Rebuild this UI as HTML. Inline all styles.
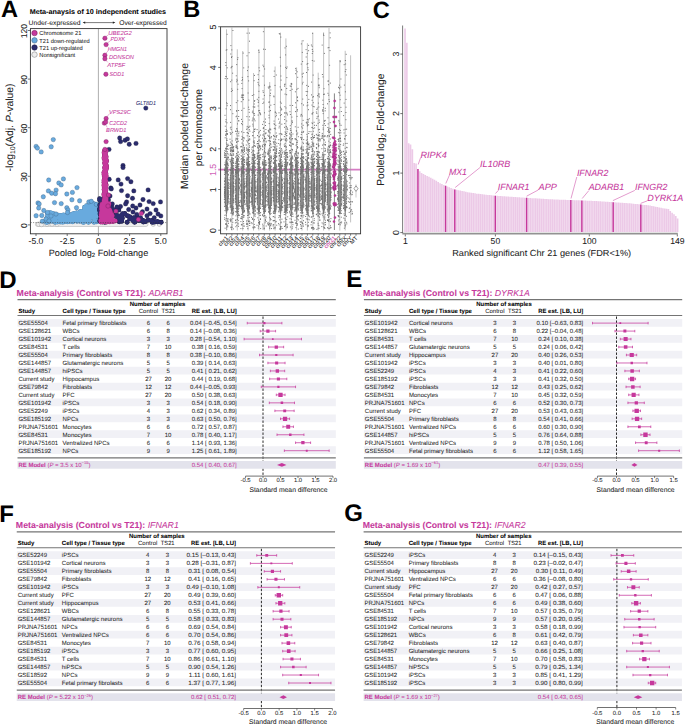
<!DOCTYPE html>
<html><head><meta charset="utf-8"><style>
html,body{margin:0;padding:0;background:#fff;}
svg{display:block;font-family:"Liberation Sans", sans-serif;text-rendering:geometricPrecision;}
</style></head><body>
<svg width="685" height="725" viewBox="0 0 685 725">
<rect width="685" height="725" fill="#fff"/>
<text x="0.9" y="17" font-size="23.6" font-weight="bold" fill="#000">A</text>
<text x="29.7" y="14.2" font-size="7.0" font-weight="bold" textLength="136.3" lengthAdjust="spacingAndGlyphs" stroke="#111" stroke-width="0.05">Meta-anaysis of 10 independent studies</text>
<text x="28.5" y="24.6" font-size="6.7" fill="#222" textLength="52" lengthAdjust="spacingAndGlyphs" stroke="#222" stroke-width="0.05">Under-expressed</text>
<text x="166.7" y="24.6" font-size="6.7" text-anchor="end" fill="#222" textLength="47.5" lengthAdjust="spacingAndGlyphs" stroke="#222" stroke-width="0.05">Over-expressed</text>
<line x1="84.5" y1="22.6" x2="113.5" y2="22.6" stroke="#222" stroke-width="0.6"/>
<path d="M82.6 22.6 L85.2 21.5 L85.2 23.7 Z M115.4 22.6 L112.8 21.5 L112.8 23.7 Z" fill="#222"/>
<rect x="30.4" y="28.6" width="136.6" height="205.2" fill="none" stroke="#333" stroke-width="0.9"/>
<line x1="98.4" y1="29" x2="98.4" y2="233.4" stroke="#777" stroke-width="0.6"/>
<line x1="36" y1="233.8" x2="36" y2="236" stroke="#333" stroke-width="0.7"/>
<text x="36" y="243.8" font-size="8.6" text-anchor="middle" fill="#222" stroke="#222" stroke-width="0.05">-5.0</text>
<line x1="67.2" y1="233.8" x2="67.2" y2="236" stroke="#333" stroke-width="0.7"/>
<text x="67.2" y="243.8" font-size="8.6" text-anchor="middle" fill="#222" stroke="#222" stroke-width="0.05">-2.5</text>
<line x1="98.4" y1="233.8" x2="98.4" y2="236" stroke="#333" stroke-width="0.7"/>
<text x="98.4" y="243.8" font-size="8.6" text-anchor="middle" fill="#222" stroke="#222" stroke-width="0.05">0</text>
<line x1="129.6" y1="233.8" x2="129.6" y2="236" stroke="#333" stroke-width="0.7"/>
<text x="129.6" y="243.8" font-size="8.6" text-anchor="middle" fill="#222" stroke="#222" stroke-width="0.05">2.5</text>
<line x1="160.8" y1="233.8" x2="160.8" y2="236" stroke="#333" stroke-width="0.7"/>
<text x="160.8" y="243.8" font-size="8.6" text-anchor="middle" fill="#222" stroke="#222" stroke-width="0.05">5.0</text>
<line x1="27.8" y1="224.9" x2="30.4" y2="224.9" stroke="#333" stroke-width="0.7"/>
<text x="0" y="0" font-size="8.6" text-anchor="middle" fill="#222" transform="translate(27.3 225.6) rotate(-90)" stroke="#222" stroke-width="0.05">0</text>
<line x1="27.8" y1="176.3" x2="30.4" y2="176.3" stroke="#333" stroke-width="0.7"/>
<text x="0" y="0" font-size="8.6" text-anchor="middle" fill="#222" transform="translate(27.3 177) rotate(-90)" stroke="#222" stroke-width="0.05">30</text>
<line x1="27.8" y1="127.7" x2="30.4" y2="127.7" stroke="#333" stroke-width="0.7"/>
<text x="0" y="0" font-size="8.6" text-anchor="middle" fill="#222" transform="translate(27.3 128.4) rotate(-90)" stroke="#222" stroke-width="0.05">60</text>
<line x1="27.8" y1="79.1" x2="30.4" y2="79.1" stroke="#333" stroke-width="0.7"/>
<text x="0" y="0" font-size="8.6" text-anchor="middle" fill="#222" transform="translate(27.3 79.8) rotate(-90)" stroke="#222" stroke-width="0.05">90</text>
<line x1="27.8" y1="30.5" x2="30.4" y2="30.5" stroke="#333" stroke-width="0.7"/>
<text x="0" y="0" font-size="8.6" text-anchor="middle" fill="#222" transform="translate(27.3 31.2) rotate(-90)" stroke="#222" stroke-width="0.05">120</text>
<path d="M37.5 222.3 H146 A2.1 2.1 0 0 1 146 226.5 H37.5 A2.1 2.1 0 0 1 37.5 222.3Z" fill="#ededed" stroke="#9a9a9a" stroke-width="0.4"/>
<g fill="#ededed" stroke="#8a8a8a" stroke-width="0.35"><circle cx="153.2" cy="224.3" r="2.2"/><circle cx="159.3" cy="224.3" r="2.2"/><circle cx="38.5" cy="224.3" r="2.2"/><circle cx="41.5" cy="224.6" r="2.2"/><circle cx="47" cy="224.4" r="2.2"/><circle cx="52" cy="224.2" r="2.2"/><circle cx="57" cy="224.5" r="2.2"/></g>
<path d="M76.47 218.07h0M50.52 216.71h0M73.52 218.75h0M90.09 213.16h0M66.93 220.66h0M94.34 209h0M94.49 218.75h0M63.44 214.97h0M47.22 222.08h0M65.61 219.21h0M91.39 203.33h0M72.42 214.22h0M89.82 208.16h0M97.1 212.77h0M77.1 220.81h0M72.92 219.25h0M73.95 219.4h0M76.21 215.38h0M46.33 222.36h0M55.26 219.94h0M83.59 211.16h0M84.92 207.9h0M59.4 217.96h0M54.9 217.15h0M48.59 220.87h0M98.19 208.55h0M51.31 216.97h0M47.32 216.84h0M95.28 215.45h0M58.72 217h0M94.65 209.67h0M48.25 220.03h0M93.25 207.5h0M94.02 204.17h0M57.68 216.22h0M70.76 217.71h0M89.8 217.37h0M92.64 215.35h0M93.31 210.96h0M88.72 209.18h0M47.86 220.52h0M84.16 220.67h0M88.82 211.4h0M54.47 219.27h0M94.05 222.19h0M88.7 208.98h0M59.04 217.43h0M84.56 208.21h0M94.52 214.41h0M87.23 215.55h0M80.69 215.61h0M48.53 217.25h0M69.93 221.28h0M90.18 206.36h0M51.41 220.54h0M86.91 208.65h0M60.89 221.96h0M89.51 221.47h0M52.9 218.65h0M78.1 213.01h0M96.75 221.72h0M87.46 217.29h0M86.53 219.45h0M68.75 216.46h0M90.53 217.06h0M95.46 208h0M70.75 221.15h0M67.78 216.35h0M50.91 214.08h0M97.63 209.43h0M76.82 213.04h0M90.5 210.37h0M70.06 215.1h0M81.19 221.01h0M47.31 219.24h0M63.56 219.16h0M92.2 203.45h0M97.58 220.8h0M63.02 222.11h0M97.45 215.92h0M74.89 219.91h0M83.41 222.39h0M95.18 213.86h0M61.03 221.66h0M61.02 220.21h0M57.89 221.77h0M81.72 218.25h0M51.84 221.11h0M78.32 220.17h0M53.95 218.59h0M67.19 217.21h0M69.49 219.11h0M94.96 215.58h0M46.58 221.35h0M61.52 217.87h0M61.14 219.3h0M77.1 220.77h0M94.8 217.65h0M97.11 215.24h0M74.96 215.27h0M63.17 218.53h0M67.76 221.73h0M86.59 205.82h0M84.32 217.53h0M89.22 207.11h0M51.57 218.96h0M77.02 221.31h0M83 217.67h0M89.42 211.85h0M57.18 221.74h0M53.01 216.62h0M69.47 216.66h0M92.4 212.48h0M55.44 221.14h0M62.46 222.02h0M85.54 209.06h0M76.56 215.25h0M88.66 211.82h0M67.15 218.15h0M83.59 220.05h0M47.23 217.38h0M95.2 204.19h0M53.43 213.59h0M62.6 219.16h0M83.91 219.31h0M97.53 207.03h0M76.34 212.86h0M55.86 216.14h0M92.18 203.7h0M66.96 217.75h0M66.92 219.5h0M57.1 222.08h0M63.93 216.09h0M75.26 214.7h0M97.84 213.08h0M62.29 216.27h0M85.76 211.79h0M63.22 218.7h0M67.77 220.35h0M79.56 219.99h0M51.54 213.15h0M50.04 219.38h0M92.69 211.58h0M67.16 221.64h0M80.43 217.13h0M53.06 220.5h0M49.38 216.76h0M65.75 215.77h0M61.86 221.06h0M66.28 220.03h0M88.7 220.59h0M47.31 222.19h0M71.96 220.59h0M83.33 221.1h0M54.39 216.7h0M94.85 211.79h0M71.24 220.42h0M74.61 213.53h0M57.01 215.13h0M57.53 216.13h0M82.58 219.46h0M92.2 205.69h0M73.06 219.97h0M55.28 219.78h0M49.29 217.09h0M49.1 212.95h0M88.3 213.96h0M84.87 218.18h0M66.43 218.39h0M55.07 218.66h0M83.78 213.28h0M54.98 221.55h0M88.94 219.68h0M48 217.81h0M70.02 215.69h0M72.02 218.1h0M68.27 214.23h0M47.95 217.75h0M79.19 220.15h0M70.57 218.09h0M63.57 215.12h0M71.87 217.34h0M48.66 221.63h0M85.92 213.79h0M92.83 211.16h0M56.64 221.61h0M75.19 216.02h0M89.76 215.24h0M50.46 213.11h0M58.68 215.17h0M89.63 207.97h0M63.79 217.08h0M81.54 217.44h0M93.85 217.16h0M93.02 212.66h0M86.86 208.81h0M72.32 217.51h0M80.48 215.21h0M72.37 215.09h0M89.14 215.63h0M66.46 218.45h0M54.64 219.04h0M54.33 215.67h0M60.82 221h0M51.74 215.54h0M83.61 221.27h0M88.46 222.37h0M52.6 214.08h0M87.41 217.67h0M86.41 207.36h0M55.71 217.62h0M58.08 215.93h0M79.08 218.87h0M97.58 208.2h0M64.05 221.7h0M48.01 213.86h0M73.64 220.26h0M73.79 219.61h0M89.88 204.9h0M93.79 203.62h0M71.17 218.25h0M70.25 215.2h0M90.1 207.33h0M55.26 222.32h0M50.37 212.7h0M95.76 221.5h0M75.96 220.13h0M83 214.86h0M73.12 217.39h0M68.5 214.11h0M63.02 221.21h0M90.25 212.03h0M60.9 218h0M89.58 206.84h0M73.27 213.73h0M52.28 220.46h0M62.82 221.34h0M66.95 217.4h0M68.58 218.24h0M47.19 220.62h0M86.47 220.92h0M60.62 220.76h0M56.7 217.71h0M52.09 221.22h0M63.36 220.6h0M59.46 218h0M61.82 215.52h0M82.24 215.19h0M97.85 211.02h0M66.44 219.24h0M87.77 221.43h0M64.94 217.01h0M65.29 218.86h0M72.17 217.11h0M46.21 219.35h0M63.01 220.58h0M47.34 213.37h0M67.72 220.21h0M86.55 212.38h0M96.25 207.68h0M80.49 211.34h0M86.84 220.8h0M71.26 218.19h0M48.08 218.21h0M46.48 219.25h0M56.98 215.21h0M68.69 220.38h0M96.48 221.13h0M91.28 212.19h0M90.84 212.72h0M67.95 214.49h0M49.32 216.33h0M72.51 218.9h0M81.01 213.36h0M65.54 218.76h0M85.2 217.92h0M84.57 207.29h0M87.13 206.03h0M91.44 217.65h0M79.74 221.2h0M60.4 215.37h0M46.84 221.9h0M95.26 220.63h0M77.68 217.03h0M47.73 215.23h0M72.69 221.85h0M61.82 218.47h0M47.41 220.7h0M68.36 214.97h0M67.23 217.83h0" stroke="#4f7fa6" stroke-width="4.9" stroke-linecap="round" fill="none"/>
<path d="M76.47 218.07h0M50.52 216.71h0M73.52 218.75h0M90.09 213.16h0M66.93 220.66h0M94.34 209h0M94.49 218.75h0M63.44 214.97h0M47.22 222.08h0M65.61 219.21h0M91.39 203.33h0M72.42 214.22h0M89.82 208.16h0M97.1 212.77h0M77.1 220.81h0M72.92 219.25h0M73.95 219.4h0M76.21 215.38h0M46.33 222.36h0M55.26 219.94h0M83.59 211.16h0M84.92 207.9h0M59.4 217.96h0M54.9 217.15h0M48.59 220.87h0M98.19 208.55h0M51.31 216.97h0M47.32 216.84h0M95.28 215.45h0M58.72 217h0M94.65 209.67h0M48.25 220.03h0M93.25 207.5h0M94.02 204.17h0M57.68 216.22h0M70.76 217.71h0M89.8 217.37h0M92.64 215.35h0M93.31 210.96h0M88.72 209.18h0M47.86 220.52h0M84.16 220.67h0M88.82 211.4h0M54.47 219.27h0M94.05 222.19h0M88.7 208.98h0M59.04 217.43h0M84.56 208.21h0M94.52 214.41h0M87.23 215.55h0M80.69 215.61h0M48.53 217.25h0M69.93 221.28h0M90.18 206.36h0M51.41 220.54h0M86.91 208.65h0M60.89 221.96h0M89.51 221.47h0M52.9 218.65h0M78.1 213.01h0M96.75 221.72h0M87.46 217.29h0M86.53 219.45h0M68.75 216.46h0M90.53 217.06h0M95.46 208h0M70.75 221.15h0M67.78 216.35h0M50.91 214.08h0M97.63 209.43h0M76.82 213.04h0M90.5 210.37h0M70.06 215.1h0M81.19 221.01h0M47.31 219.24h0M63.56 219.16h0M92.2 203.45h0M97.58 220.8h0M63.02 222.11h0M97.45 215.92h0M74.89 219.91h0M83.41 222.39h0M95.18 213.86h0M61.03 221.66h0M61.02 220.21h0M57.89 221.77h0M81.72 218.25h0M51.84 221.11h0M78.32 220.17h0M53.95 218.59h0M67.19 217.21h0M69.49 219.11h0M94.96 215.58h0M46.58 221.35h0M61.52 217.87h0M61.14 219.3h0M77.1 220.77h0M94.8 217.65h0M97.11 215.24h0M74.96 215.27h0M63.17 218.53h0M67.76 221.73h0M86.59 205.82h0M84.32 217.53h0M89.22 207.11h0M51.57 218.96h0M77.02 221.31h0M83 217.67h0M89.42 211.85h0M57.18 221.74h0M53.01 216.62h0M69.47 216.66h0M92.4 212.48h0M55.44 221.14h0M62.46 222.02h0M85.54 209.06h0M76.56 215.25h0M88.66 211.82h0M67.15 218.15h0M83.59 220.05h0M47.23 217.38h0M95.2 204.19h0M53.43 213.59h0M62.6 219.16h0M83.91 219.31h0M97.53 207.03h0M76.34 212.86h0M55.86 216.14h0M92.18 203.7h0M66.96 217.75h0M66.92 219.5h0M57.1 222.08h0M63.93 216.09h0M75.26 214.7h0M97.84 213.08h0M62.29 216.27h0M85.76 211.79h0M63.22 218.7h0M67.77 220.35h0M79.56 219.99h0M51.54 213.15h0M50.04 219.38h0M92.69 211.58h0M67.16 221.64h0M80.43 217.13h0M53.06 220.5h0M49.38 216.76h0M65.75 215.77h0M61.86 221.06h0M66.28 220.03h0M88.7 220.59h0M47.31 222.19h0M71.96 220.59h0M83.33 221.1h0M54.39 216.7h0M94.85 211.79h0M71.24 220.42h0M74.61 213.53h0M57.01 215.13h0M57.53 216.13h0M82.58 219.46h0M92.2 205.69h0M73.06 219.97h0M55.28 219.78h0M49.29 217.09h0M49.1 212.95h0M88.3 213.96h0M84.87 218.18h0M66.43 218.39h0M55.07 218.66h0M83.78 213.28h0M54.98 221.55h0M88.94 219.68h0M48 217.81h0M70.02 215.69h0M72.02 218.1h0M68.27 214.23h0M47.95 217.75h0M79.19 220.15h0M70.57 218.09h0M63.57 215.12h0M71.87 217.34h0M48.66 221.63h0M85.92 213.79h0M92.83 211.16h0M56.64 221.61h0M75.19 216.02h0M89.76 215.24h0M50.46 213.11h0M58.68 215.17h0M89.63 207.97h0M63.79 217.08h0M81.54 217.44h0M93.85 217.16h0M93.02 212.66h0M86.86 208.81h0M72.32 217.51h0M80.48 215.21h0M72.37 215.09h0M89.14 215.63h0M66.46 218.45h0M54.64 219.04h0M54.33 215.67h0M60.82 221h0M51.74 215.54h0M83.61 221.27h0M88.46 222.37h0M52.6 214.08h0M87.41 217.67h0M86.41 207.36h0M55.71 217.62h0M58.08 215.93h0M79.08 218.87h0M97.58 208.2h0M64.05 221.7h0M48.01 213.86h0M73.64 220.26h0M73.79 219.61h0M89.88 204.9h0M93.79 203.62h0M71.17 218.25h0M70.25 215.2h0M90.1 207.33h0M55.26 222.32h0M50.37 212.7h0M95.76 221.5h0M75.96 220.13h0M83 214.86h0M73.12 217.39h0M68.5 214.11h0M63.02 221.21h0M90.25 212.03h0M60.9 218h0M89.58 206.84h0M73.27 213.73h0M52.28 220.46h0M62.82 221.34h0M66.95 217.4h0M68.58 218.24h0M47.19 220.62h0M86.47 220.92h0M60.62 220.76h0M56.7 217.71h0M52.09 221.22h0M63.36 220.6h0M59.46 218h0M61.82 215.52h0M82.24 215.19h0M97.85 211.02h0M66.44 219.24h0M87.77 221.43h0M64.94 217.01h0M65.29 218.86h0M72.17 217.11h0M46.21 219.35h0M63.01 220.58h0M47.34 213.37h0M67.72 220.21h0M86.55 212.38h0M96.25 207.68h0M80.49 211.34h0M86.84 220.8h0M71.26 218.19h0M48.08 218.21h0M46.48 219.25h0M56.98 215.21h0M68.69 220.38h0M96.48 221.13h0M91.28 212.19h0M90.84 212.72h0M67.95 214.49h0M49.32 216.33h0M72.51 218.9h0M81.01 213.36h0M65.54 218.76h0M85.2 217.92h0M84.57 207.29h0M87.13 206.03h0M91.44 217.65h0M79.74 221.2h0M60.4 215.37h0M46.84 221.9h0M95.26 220.63h0M77.68 217.03h0M47.73 215.23h0M72.69 221.85h0M61.82 218.47h0M47.41 220.7h0M68.36 214.97h0M67.23 217.83h0" stroke="#68aade" stroke-width="4.3" stroke-linecap="round" fill="none"/>
<g fill="#68aade" stroke="#3a5a7a" stroke-width="0.35"><circle cx="53.3" cy="139.6" r="2.2"/><circle cx="36.1" cy="146.4" r="2.2"/><circle cx="37.4" cy="148.1" r="2.2"/><circle cx="41.2" cy="151.9" r="2.2"/><circle cx="51.2" cy="146.8" r="2.2"/><circle cx="48.7" cy="180" r="2.2"/><circle cx="63.4" cy="178.9" r="2.2"/><circle cx="58.8" cy="183" r="2.2"/><circle cx="61.2" cy="184.9" r="2.2"/><circle cx="77" cy="187.6" r="2.2"/><circle cx="48.4" cy="190.9" r="2.2"/><circle cx="51.7" cy="193.2" r="2.2"/><circle cx="56.1" cy="190.1" r="2.2"/><circle cx="55.5" cy="193.7" r="2.2"/><circle cx="66.8" cy="194" r="2.2"/><circle cx="72.4" cy="192.4" r="2.2"/><circle cx="43.3" cy="196.8" r="2.2"/><circle cx="71.9" cy="199.8" r="2.2"/><circle cx="79.6" cy="200.8" r="2.2"/><circle cx="38" cy="202.9" r="2.2"/><circle cx="54.5" cy="202.6" r="2.2"/><circle cx="61.2" cy="203.6" r="2.2"/><circle cx="39.2" cy="203.9" r="2.2"/><circle cx="38.7" cy="208" r="2.2"/><circle cx="43.8" cy="210.5" r="2.2"/><circle cx="66.8" cy="207.7" r="2.2"/><circle cx="76.5" cy="207.7" r="2.2"/><circle cx="36.1" cy="215.7" r="2.2"/><circle cx="41.8" cy="215.5" r="2.2"/><circle cx="42.3" cy="221.3" r="2.2"/><circle cx="88.8" cy="201.9" r="2.2"/><circle cx="91.3" cy="201.3" r="2.2"/><circle cx="96.4" cy="204.4" r="2.2"/><circle cx="68" cy="210" r="2.2"/><circle cx="67.5" cy="212.5" r="2.2"/><circle cx="56" cy="214" r="2.2"/><circle cx="47.5" cy="212.5" r="2.2"/><circle cx="51" cy="216" r="2.2"/><circle cx="46" cy="219" r="2.2"/><circle cx="49" cy="221" r="2.2"/></g>
<path d="M102.52 199.66h0M117.93 210.19h0M112.69 216.57h0M113.42 209.82h0M121.69 215.55h0M137.98 219.91h0M161.22 222.32h0M133.98 217.6h0M100.5 219.74h0M138.58 220.46h0M108.36 207.47h0M129.72 218.91h0M122.37 218.22h0M135.7 217.73h0M103.92 221.92h0M151.95 222.05h0M99.63 198.78h0M104.69 209.21h0M124.76 213.39h0M118.84 209.95h0M100.09 214.32h0M119.45 217.58h0M109.03 211.95h0M102.71 206.71h0M134.92 221.44h0M99.94 200.38h0M140.96 220.63h0M137.12 218.09h0M111.66 208.86h0M141.03 219.44h0M127.14 222.3h0M106.84 212.69h0M135.04 221.93h0M111.84 210.96h0M100.24 219.29h0M99.99 199.47h0M120.4 215.95h0M129.74 216.79h0M137.75 217.46h0M102.79 214.33h0M100.03 205h0M133.15 220.37h0M105.13 202.99h0M108.3 216.77h0M108.7 204.51h0M131.78 219.3h0M152.26 222.23h0M151.69 220.77h0M140.37 219.04h0M106.51 209.36h0M154.03 222.13h0M103.89 207.44h0M108.66 209.48h0M110.15 210.58h0M102.28 211.89h0M139.79 220.13h0M143.65 220.58h0M101.8 216.55h0M148.22 219.95h0M99.54 210.2h0M119.01 216.64h0M157.6 221.68h0M140.49 217.91h0M119.19 219.6h0M100.06 199.46h0M134.23 221.77h0M100.07 213.26h0M101.06 216.15h0M126.77 215.46h0M103 216.82h0M117.5 219.05h0M110.08 209.59h0M157.82 221.73h0M115.71 215.24h0M132.8 220.42h0M151.87 220.71h0M142.64 220.94h0M145.39 221.65h0M143.4 221.93h0M156.62 221.61h0M117.65 218.3h0M140.29 219.6h0M111.45 206.69h0M134.6 222.35h0M109.14 205.78h0M102.54 208.61h0M105.48 221.72h0M99.79 205.05h0M100.51 213.67h0M137.79 218.02h0M99.82 208.83h0M121.82 221.34h0M99.61 199.98h0M102 203.46h0M103.47 215.72h0M122.6 213.65h0M102.01 205.01h0M101.7 216.5h0M106.27 212.51h0M141.74 220.03h0M104.31 219.79h0M151.79 220.5h0M119.23 221.83h0M115.03 209.98h0M99.71 221.08h0M140.21 219.41h0M117.9 215.64h0M104.82 222.18h0M127.46 215.6h0M99.51 209.11h0" stroke="#1a1a40" stroke-width="4.9" stroke-linecap="round" fill="none"/>
<path d="M102.52 199.66h0M117.93 210.19h0M112.69 216.57h0M113.42 209.82h0M121.69 215.55h0M137.98 219.91h0M161.22 222.32h0M133.98 217.6h0M100.5 219.74h0M138.58 220.46h0M108.36 207.47h0M129.72 218.91h0M122.37 218.22h0M135.7 217.73h0M103.92 221.92h0M151.95 222.05h0M99.63 198.78h0M104.69 209.21h0M124.76 213.39h0M118.84 209.95h0M100.09 214.32h0M119.45 217.58h0M109.03 211.95h0M102.71 206.71h0M134.92 221.44h0M99.94 200.38h0M140.96 220.63h0M137.12 218.09h0M111.66 208.86h0M141.03 219.44h0M127.14 222.3h0M106.84 212.69h0M135.04 221.93h0M111.84 210.96h0M100.24 219.29h0M99.99 199.47h0M120.4 215.95h0M129.74 216.79h0M137.75 217.46h0M102.79 214.33h0M100.03 205h0M133.15 220.37h0M105.13 202.99h0M108.3 216.77h0M108.7 204.51h0M131.78 219.3h0M152.26 222.23h0M151.69 220.77h0M140.37 219.04h0M106.51 209.36h0M154.03 222.13h0M103.89 207.44h0M108.66 209.48h0M110.15 210.58h0M102.28 211.89h0M139.79 220.13h0M143.65 220.58h0M101.8 216.55h0M148.22 219.95h0M99.54 210.2h0M119.01 216.64h0M157.6 221.68h0M140.49 217.91h0M119.19 219.6h0M100.06 199.46h0M134.23 221.77h0M100.07 213.26h0M101.06 216.15h0M126.77 215.46h0M103 216.82h0M117.5 219.05h0M110.08 209.59h0M157.82 221.73h0M115.71 215.24h0M132.8 220.42h0M151.87 220.71h0M142.64 220.94h0M145.39 221.65h0M143.4 221.93h0M156.62 221.61h0M117.65 218.3h0M140.29 219.6h0M111.45 206.69h0M134.6 222.35h0M109.14 205.78h0M102.54 208.61h0M105.48 221.72h0M99.79 205.05h0M100.51 213.67h0M137.79 218.02h0M99.82 208.83h0M121.82 221.34h0M99.61 199.98h0M102 203.46h0M103.47 215.72h0M122.6 213.65h0M102.01 205.01h0M101.7 216.5h0M106.27 212.51h0M141.74 220.03h0M104.31 219.79h0M151.79 220.5h0M119.23 221.83h0M115.03 209.98h0M99.71 221.08h0M140.21 219.41h0M117.9 215.64h0M104.82 222.18h0M127.46 215.6h0M99.51 209.11h0" stroke="#2b2c6e" stroke-width="4.3" stroke-linecap="round" fill="none"/>
<g fill="#2b2c6e" stroke="#1a1a40" stroke-width="0.35"><circle cx="145.8" cy="108.1" r="2.2"/><circle cx="119.7" cy="138" r="2.2"/><circle cx="120.6" cy="141.6" r="2.2"/><circle cx="125.1" cy="140.2" r="2.2"/><circle cx="127.4" cy="138.9" r="2.2"/><circle cx="129.2" cy="144.3" r="2.2"/><circle cx="136" cy="143.4" r="2.2"/><circle cx="109" cy="149.4" r="2.2"/><circle cx="123" cy="165.5" r="2.2"/><circle cx="123" cy="167.5" r="2.2"/><circle cx="109.2" cy="179.3" r="2.2"/><circle cx="118.2" cy="179.9" r="2.2"/><circle cx="127.6" cy="178.6" r="2.2"/><circle cx="130.9" cy="181.7" r="2.2"/><circle cx="121" cy="184.1" r="2.2"/><circle cx="110.8" cy="188" r="2.2"/><circle cx="111.3" cy="188.9" r="2.2"/><circle cx="121.5" cy="190.6" r="2.2"/><circle cx="133.8" cy="190.9" r="2.2"/><circle cx="148.1" cy="189.9" r="2.2"/><circle cx="127.6" cy="195.7" r="2.2"/><circle cx="132.5" cy="198.3" r="2.2"/><circle cx="143" cy="199.5" r="2.2"/><circle cx="149.1" cy="201.6" r="2.2"/><circle cx="153.2" cy="203.6" r="2.2"/><circle cx="160.5" cy="201.9" r="2.2"/><circle cx="126.6" cy="201.9" r="2.2"/><circle cx="125.6" cy="203.9" r="2.2"/><circle cx="132.7" cy="206" r="2.2"/><circle cx="120.5" cy="206.5" r="2.2"/><circle cx="116.9" cy="207" r="2.2"/><circle cx="112.3" cy="203.9" r="2.2"/><circle cx="147" cy="209" r="2.2"/><circle cx="128.7" cy="209.5" r="2.2"/><circle cx="142.5" cy="211.8" r="2.2"/><circle cx="136.8" cy="214.4" r="2.2"/><circle cx="150.1" cy="213.6" r="2.2"/><circle cx="160.8" cy="215.9" r="2.2"/><circle cx="154.2" cy="217.7" r="2.2"/><circle cx="147" cy="215.7" r="2.2"/><circle cx="108.5" cy="200" r="2.2"/><circle cx="110" cy="196" r="2.2"/><circle cx="140" cy="205" r="2.2"/><circle cx="136" cy="208" r="2.2"/><circle cx="156" cy="210" r="2.2"/><circle cx="158" cy="214" r="2.2"/><circle cx="133" cy="212" r="2.2"/></g>
<path d="M105.71 170.44h0M105.25 189.23h0M104.18 158.65h0M105.02 167.7h0M105.04 197.81h0M106.18 185.03h0M105.68 164.66h0M105.65 158.29h0M105.77 150.08h0M105.77 196.54h0M104.45 154.53h0M104.03 189.41h0M104.92 176.41h0M105.21 202.55h0M104.53 197.15h0M104.8 193.41h0M104.02 200.42h0M104.3 195.45h0M105.06 179.89h0M105.8 158.67h0M105.15 167.13h0M104.53 154.18h0M105.52 175.7h0M106.05 169.78h0M104.75 155.82h0M106.12 175.4h0M105.37 195.64h0M104.71 150.68h0M104.37 189.05h0M104.9 181.03h0M106.18 150.58h0M104.3 193.97h0M104.5 183.88h0M105.1 170.68h0M105.21 166.4h0M105.4 171.57h0M104.88 164.1h0M104.59 190.23h0M105.15 201.98h0M104.6 189.81h0M104.02 195.48h0M104.03 157.75h0M105.5 187.27h0M104.77 159.89h0M105.22 196.03h0M104.34 154.96h0M104.1 158.64h0M103.97 172.38h0M104.82 200.63h0M105.35 178.14h0M105.77 192.18h0M104.6 171.23h0M103.84 172.67h0M105.48 172.04h0M105.7 204.01h0M105.26 186.31h0M104.59 151.02h0M105.96 168.82h0M104.71 155.85h0M105.69 178.01h0M105.27 195.39h0M105.64 158.71h0M105.12 199.66h0M105.6 169.39h0M105.51 157.8h0M105.04 204.27h0M105.81 189.35h0M106.67 160.85h0M104.27 184.49h0M104.39 154.58h0M105.47 181.71h0M106.63 168.11h0M105.51 169.87h0M106.14 156.82h0M105.97 157.46h0M105.15 179.89h0M104.43 180.82h0M106.18 200.01h0M105.24 194.96h0M105.78 156.75h0M106.55 165.87h0M105.78 163.25h0M104.25 195.69h0M103.98 180.13h0M104.23 151.76h0M106.05 204.29h0M104.54 186.21h0M105.57 186.92h0M105.22 170.99h0M103.84 194.21h0M105.52 160.97h0M104.73 157.86h0M104.22 181.32h0M104.43 178.59h0M104.6 181.24h0M103.89 185.29h0M104.15 186.9h0M105.24 202.76h0M104.79 175.85h0M105.45 184.31h0M105.6 191.69h0M106.19 176.72h0M105.85 196.1h0M104.84 172.5h0M105.97 181.13h0M105.06 178.93h0M105.97 173.77h0M104.53 167.64h0M105.96 189.91h0M105.23 190.26h0M104.53 191.35h0M103.97 182.64h0M104.87 156.84h0M104.75 177.64h0M105.47 152.86h0M104.37 178.94h0M105.35 166.85h0M104.56 162.97h0M106.12 200.12h0M105.88 186.61h0M105.73 173.18h0M106.19 162.2h0M105.97 181.17h0M105.7 155.42h0M105.09 156.81h0M103.8 202.3h0M105.12 163.42h0M104.55 167.86h0M105.76 199.23h0M104.66 171.85h0M103.91 182.2h0M105.96 151.71h0M105.6 166.93h0M106.15 201.37h0M104.3 176h0M106.61 166.24h0M104.27 199.32h0M104.65 196.09h0M104.21 175.99h0M106.19 198.38h0M105.92 161.11h0M106.51 160.53h0M104.05 152.75h0M104.55 189.92h0M105.89 199.52h0M104.12 189.22h0M106.05 188.28h0M103.99 174.48h0M105.14 162.28h0M104.27 189.08h0M103.22 206.48h0M110.32 215.76h0M107.39 210.15h0M109.01 219.98h0M103.79 207.4h0M110.39 220.79h0M106.76 208.32h0M108.87 204.73h0M106.33 211.45h0M101.37 213.19h0M104.03 214.51h0M107.99 207.82h0M103.64 204.67h0M103.79 217.51h0M105.98 208.36h0M108.34 206.58h0M100.83 221.96h0M108.66 211.86h0M109.97 210.39h0M102.84 212.6h0M107.96 213.68h0M107.3 209.9h0M107.48 218.03h0M109.88 212.71h0M107.11 216.14h0M103 221.27h0M102.73 217.97h0M103.48 214.68h0M108.78 211.46h0M111.22 218.1h0M105.34 207.53h0M106.03 207.25h0M101.31 212.58h0M108.96 214.46h0M110.57 213.99h0M102.58 206.46h0M105.22 203.34h0M105.46 211.35h0M108.03 208.05h0M108.3 204.39h0M106.87 213.92h0M103.73 218.2h0M103.74 205.81h0M103.86 203.81h0M106.9 214.93h0M106.27 208.08h0M107.65 204.7h0M103.36 206.29h0M106.61 206.07h0M111.49 218.95h0M104.58 204.17h0M103.21 210h0M100.97 221.63h0M108.91 212.4h0M102.57 221.93h0M108.57 211.74h0M103.3 203.75h0M102.47 220.09h0M103.99 210.54h0M101.84 211.15h0M108.97 203.66h0M110.29 217.65h0M103.41 207.41h0M103.5 213.6h0M110.51 211.86h0M104.33 209.99h0M109.85 221.84h0M104.52 203.76h0M101.39 215.48h0M107.55 209.59h0M108.91 219.6h0M107.16 220.02h0M109.2 210.54h0M108.55 210.32h0M104.15 207.14h0M105.64 206.53h0M102.96 206.15h0M105.1 207.12h0M105.2 208.92h0M106.59 222.07h0M103.36 219.56h0M101.85 210.35h0M105.17 216.27h0M101.46 208.27h0M103.43 206.5h0M109.97 210.54h0M104.03 216.73h0M102.63 209.93h0M105.8 220.98h0M110.16 217.7h0M100.68 220.42h0M104.68 209.18h0M108.12 204.6h0M108.15 209.24h0M101.49 212.97h0M103.42 210.56h0M102.63 203.78h0M101.13 214.43h0M105.01 209h0M102.34 213.44h0M103.91 216.57h0M109.16 216.93h0M102.96 205.83h0M107.4 208.38h0M104.86 210.78h0M103.67 219.63h0M104.27 208.61h0M101.7 207.14h0M106.23 203.47h0M109.82 213.87h0M104.95 221.73h0M111.94 215.87h0M106.88 207.15h0M112.35 215.8h0M103.8 219.67h0M101.78 215.14h0M104.95 211.21h0M104.38 204.15h0M105.71 209.3h0M102.65 208.37h0M105.71 210.73h0M106.45 206.2h0M102.11 207.6h0M105.07 209.56h0M105.76 205.9h0M107.6 216.47h0M100.91 216.44h0M104.63 210.51h0M104.53 204.21h0M105.22 204.05h0M106.1 214.25h0M103.51 209.25h0M104.1 203.45h0M108.69 220.12h0M106.93 208.03h0M105.03 206.57h0M111.88 214.81h0M106.55 209.96h0M112.07 221.09h0M108.05 215.04h0M105.15 210.89h0M108.37 208.3h0M105.96 219.89h0M100.94 220.46h0M105.15 205.61h0M104.44 208.93h0M102.64 221.76h0M103.18 206.7h0M103.55 216.06h0M105.58 203.02h0M103.43 210.56h0M107.76 212.48h0M107.7 213.52h0M110.04 213.77h0M105.48 221.6h0M109.32 209.66h0M107.59 209.02h0M109.24 216.35h0M113.04 221.51h0M106.09 206.06h0M106.85 212.42h0M103.86 210.09h0M107.56 217.38h0M103.38 207.55h0M102.84 209.24h0M102.26 212.86h0M102.02 204.21h0M106.79 204.96h0M104.69 205.17h0M106.95 217.82h0M107.94 206.12h0M101.19 219.7h0M105.55 207.87h0M105.84 218.29h0M103.81 216.75h0M104.77 216.74h0M108.09 209.41h0M112.16 219.18h0M105.5 213.9h0M108.51 216.57h0M111.69 218.96h0M104.18 205.4h0M103.49 215.85h0M101.51 206.55h0M111.45 214.24h0M102.39 221.63h0M105.86 216.2h0M105.42 215.12h0M115.29 220.92h0M106.85 203.94h0M101.79 205.27h0M107.58 208.49h0M102.4 222.08h0M101.48 209.34h0M106.13 213.42h0M104.08 210.17h0M111.97 218.37h0M104.66 208.45h0M109.69 214.86h0M106.39 221.83h0" stroke="#7a2060" stroke-width="4.9" stroke-linecap="round" fill="none"/>
<path d="M105.71 170.44h0M105.25 189.23h0M104.18 158.65h0M105.02 167.7h0M105.04 197.81h0M106.18 185.03h0M105.68 164.66h0M105.65 158.29h0M105.77 150.08h0M105.77 196.54h0M104.45 154.53h0M104.03 189.41h0M104.92 176.41h0M105.21 202.55h0M104.53 197.15h0M104.8 193.41h0M104.02 200.42h0M104.3 195.45h0M105.06 179.89h0M105.8 158.67h0M105.15 167.13h0M104.53 154.18h0M105.52 175.7h0M106.05 169.78h0M104.75 155.82h0M106.12 175.4h0M105.37 195.64h0M104.71 150.68h0M104.37 189.05h0M104.9 181.03h0M106.18 150.58h0M104.3 193.97h0M104.5 183.88h0M105.1 170.68h0M105.21 166.4h0M105.4 171.57h0M104.88 164.1h0M104.59 190.23h0M105.15 201.98h0M104.6 189.81h0M104.02 195.48h0M104.03 157.75h0M105.5 187.27h0M104.77 159.89h0M105.22 196.03h0M104.34 154.96h0M104.1 158.64h0M103.97 172.38h0M104.82 200.63h0M105.35 178.14h0M105.77 192.18h0M104.6 171.23h0M103.84 172.67h0M105.48 172.04h0M105.7 204.01h0M105.26 186.31h0M104.59 151.02h0M105.96 168.82h0M104.71 155.85h0M105.69 178.01h0M105.27 195.39h0M105.64 158.71h0M105.12 199.66h0M105.6 169.39h0M105.51 157.8h0M105.04 204.27h0M105.81 189.35h0M106.67 160.85h0M104.27 184.49h0M104.39 154.58h0M105.47 181.71h0M106.63 168.11h0M105.51 169.87h0M106.14 156.82h0M105.97 157.46h0M105.15 179.89h0M104.43 180.82h0M106.18 200.01h0M105.24 194.96h0M105.78 156.75h0M106.55 165.87h0M105.78 163.25h0M104.25 195.69h0M103.98 180.13h0M104.23 151.76h0M106.05 204.29h0M104.54 186.21h0M105.57 186.92h0M105.22 170.99h0M103.84 194.21h0M105.52 160.97h0M104.73 157.86h0M104.22 181.32h0M104.43 178.59h0M104.6 181.24h0M103.89 185.29h0M104.15 186.9h0M105.24 202.76h0M104.79 175.85h0M105.45 184.31h0M105.6 191.69h0M106.19 176.72h0M105.85 196.1h0M104.84 172.5h0M105.97 181.13h0M105.06 178.93h0M105.97 173.77h0M104.53 167.64h0M105.96 189.91h0M105.23 190.26h0M104.53 191.35h0M103.97 182.64h0M104.87 156.84h0M104.75 177.64h0M105.47 152.86h0M104.37 178.94h0M105.35 166.85h0M104.56 162.97h0M106.12 200.12h0M105.88 186.61h0M105.73 173.18h0M106.19 162.2h0M105.97 181.17h0M105.7 155.42h0M105.09 156.81h0M103.8 202.3h0M105.12 163.42h0M104.55 167.86h0M105.76 199.23h0M104.66 171.85h0M103.91 182.2h0M105.96 151.71h0M105.6 166.93h0M106.15 201.37h0M104.3 176h0M106.61 166.24h0M104.27 199.32h0M104.65 196.09h0M104.21 175.99h0M106.19 198.38h0M105.92 161.11h0M106.51 160.53h0M104.05 152.75h0M104.55 189.92h0M105.89 199.52h0M104.12 189.22h0M106.05 188.28h0M103.99 174.48h0M105.14 162.28h0M104.27 189.08h0M103.22 206.48h0M110.32 215.76h0M107.39 210.15h0M109.01 219.98h0M103.79 207.4h0M110.39 220.79h0M106.76 208.32h0M108.87 204.73h0M106.33 211.45h0M101.37 213.19h0M104.03 214.51h0M107.99 207.82h0M103.64 204.67h0M103.79 217.51h0M105.98 208.36h0M108.34 206.58h0M100.83 221.96h0M108.66 211.86h0M109.97 210.39h0M102.84 212.6h0M107.96 213.68h0M107.3 209.9h0M107.48 218.03h0M109.88 212.71h0M107.11 216.14h0M103 221.27h0M102.73 217.97h0M103.48 214.68h0M108.78 211.46h0M111.22 218.1h0M105.34 207.53h0M106.03 207.25h0M101.31 212.58h0M108.96 214.46h0M110.57 213.99h0M102.58 206.46h0M105.22 203.34h0M105.46 211.35h0M108.03 208.05h0M108.3 204.39h0M106.87 213.92h0M103.73 218.2h0M103.74 205.81h0M103.86 203.81h0M106.9 214.93h0M106.27 208.08h0M107.65 204.7h0M103.36 206.29h0M106.61 206.07h0M111.49 218.95h0M104.58 204.17h0M103.21 210h0M100.97 221.63h0M108.91 212.4h0M102.57 221.93h0M108.57 211.74h0M103.3 203.75h0M102.47 220.09h0M103.99 210.54h0M101.84 211.15h0M108.97 203.66h0M110.29 217.65h0M103.41 207.41h0M103.5 213.6h0M110.51 211.86h0M104.33 209.99h0M109.85 221.84h0M104.52 203.76h0M101.39 215.48h0M107.55 209.59h0M108.91 219.6h0M107.16 220.02h0M109.2 210.54h0M108.55 210.32h0M104.15 207.14h0M105.64 206.53h0M102.96 206.15h0M105.1 207.12h0M105.2 208.92h0M106.59 222.07h0M103.36 219.56h0M101.85 210.35h0M105.17 216.27h0M101.46 208.27h0M103.43 206.5h0M109.97 210.54h0M104.03 216.73h0M102.63 209.93h0M105.8 220.98h0M110.16 217.7h0M100.68 220.42h0M104.68 209.18h0M108.12 204.6h0M108.15 209.24h0M101.49 212.97h0M103.42 210.56h0M102.63 203.78h0M101.13 214.43h0M105.01 209h0M102.34 213.44h0M103.91 216.57h0M109.16 216.93h0M102.96 205.83h0M107.4 208.38h0M104.86 210.78h0M103.67 219.63h0M104.27 208.61h0M101.7 207.14h0M106.23 203.47h0M109.82 213.87h0M104.95 221.73h0M111.94 215.87h0M106.88 207.15h0M112.35 215.8h0M103.8 219.67h0M101.78 215.14h0M104.95 211.21h0M104.38 204.15h0M105.71 209.3h0M102.65 208.37h0M105.71 210.73h0M106.45 206.2h0M102.11 207.6h0M105.07 209.56h0M105.76 205.9h0M107.6 216.47h0M100.91 216.44h0M104.63 210.51h0M104.53 204.21h0M105.22 204.05h0M106.1 214.25h0M103.51 209.25h0M104.1 203.45h0M108.69 220.12h0M106.93 208.03h0M105.03 206.57h0M111.88 214.81h0M106.55 209.96h0M112.07 221.09h0M108.05 215.04h0M105.15 210.89h0M108.37 208.3h0M105.96 219.89h0M100.94 220.46h0M105.15 205.61h0M104.44 208.93h0M102.64 221.76h0M103.18 206.7h0M103.55 216.06h0M105.58 203.02h0M103.43 210.56h0M107.76 212.48h0M107.7 213.52h0M110.04 213.77h0M105.48 221.6h0M109.32 209.66h0M107.59 209.02h0M109.24 216.35h0M113.04 221.51h0M106.09 206.06h0M106.85 212.42h0M103.86 210.09h0M107.56 217.38h0M103.38 207.55h0M102.84 209.24h0M102.26 212.86h0M102.02 204.21h0M106.79 204.96h0M104.69 205.17h0M106.95 217.82h0M107.94 206.12h0M101.19 219.7h0M105.55 207.87h0M105.84 218.29h0M103.81 216.75h0M104.77 216.74h0M108.09 209.41h0M112.16 219.18h0M105.5 213.9h0M108.51 216.57h0M111.69 218.96h0M104.18 205.4h0M103.49 215.85h0M101.51 206.55h0M111.45 214.24h0M102.39 221.63h0M105.86 216.2h0M105.42 215.12h0M115.29 220.92h0M106.85 203.94h0M101.79 205.27h0M107.58 208.49h0M102.4 222.08h0M101.48 209.34h0M106.13 213.42h0M104.08 210.17h0M111.97 218.37h0M104.66 208.45h0M109.69 214.86h0M106.39 221.83h0" stroke="#c6389c" stroke-width="4.3" stroke-linecap="round" fill="none"/>
<g fill="#c6389c" stroke="#6a1a50" stroke-width="0.35"><circle cx="104.9" cy="38.2" r="2.2"/><circle cx="106.1" cy="44.6" r="2.2"/><circle cx="104.9" cy="55.2" r="2.2"/><circle cx="104.9" cy="58.7" r="2.2"/><circle cx="105.9" cy="74.2" r="2.2"/><circle cx="106.1" cy="118.5" r="2.2"/><circle cx="104.3" cy="123.1" r="2.2"/><circle cx="105.7" cy="122.1" r="2.2"/><circle cx="106.1" cy="141.6" r="2.2"/><circle cx="115.9" cy="211.1" r="2.2"/><circle cx="141.4" cy="213.4" r="2.2"/><circle cx="138.4" cy="219.5" r="2.2"/><circle cx="104.9" cy="149.4" r="2.2"/><circle cx="108.5" cy="195" r="2.2"/><circle cx="108" cy="206" r="2.2"/></g>
<line x1="30.6" y1="222.6" x2="166.8" y2="222.6" stroke="#333" stroke-width="0.5" stroke-dasharray="1.2 1.2"/>
<text x="108.3" y="34.9" font-size="5.8" font-style="italic" fill="#c6389c" textLength="23.5" lengthAdjust="spacingAndGlyphs" stroke="#c6389c" stroke-width="0.05">UBE2G2</text>
<text x="110.4" y="41.4" font-size="5.8" font-style="italic" fill="#c6389c" textLength="14.8" lengthAdjust="spacingAndGlyphs" stroke="#c6389c" stroke-width="0.05">PDXK</text>
<text x="107.7" y="51.4" font-size="5.8" font-style="italic" fill="#c6389c" textLength="19.3" lengthAdjust="spacingAndGlyphs" stroke="#c6389c" stroke-width="0.05">HMGN1</text>
<text x="109" y="58.7" font-size="5.8" font-style="italic" fill="#c6389c" textLength="24.9" lengthAdjust="spacingAndGlyphs" stroke="#c6389c" stroke-width="0.05">DONSON</text>
<text x="107.3" y="66.6" font-size="5.8" font-style="italic" fill="#c6389c" textLength="17.9" lengthAdjust="spacingAndGlyphs" stroke="#c6389c" stroke-width="0.05">ATP5F</text>
<text x="109.4" y="76.3" font-size="5.8" font-style="italic" fill="#c6389c" textLength="14.8" lengthAdjust="spacingAndGlyphs" stroke="#c6389c" stroke-width="0.05">SOD1</text>
<text x="108.9" y="113.8" font-size="5.8" font-style="italic" fill="#c6389c" textLength="21.9" lengthAdjust="spacingAndGlyphs" stroke="#c6389c" stroke-width="0.05">VPS29C</text>
<text x="109.3" y="124.7" font-size="5.8" font-style="italic" fill="#c6389c" textLength="17.7" lengthAdjust="spacingAndGlyphs" stroke="#c6389c" stroke-width="0.05">C2CD2</text>
<text x="106.1" y="131.7" font-size="5.8" font-style="italic" fill="#c6389c" textLength="20.4" lengthAdjust="spacingAndGlyphs" stroke="#c6389c" stroke-width="0.05">BRWD1</text>
<text x="136" y="104.8" font-size="5.8" font-style="italic" fill="#2b2c6e" textLength="19.9" lengthAdjust="spacingAndGlyphs" stroke="#2b2c6e" stroke-width="0.05">GLT8D1</text>
<path d="M106 36.6 L108.6 34.6 M107.2 43.2 L110.6 40.6 M105.6 53.6 L108 51 M106 60.4 L107.8 62.4 M106.8 117 L109.6 113.6 M105.6 124.4 L107.2 127.4" stroke="#c6389c" stroke-width="0.4" fill="none"/>
<circle cx="34.5" cy="33.1" r="2.75" fill="#c6389c" stroke="#6a1a50" stroke-width="0.5"/>
<text x="39.3" y="35.4" font-size="5.8" fill="#222" textLength="42.1" lengthAdjust="spacingAndGlyphs" stroke="#222" stroke-width="0.05">Chromosome 21</text>
<circle cx="34.5" cy="40.35" r="2.75" fill="#68aade" stroke="#3a5a7a" stroke-width="0.5"/>
<text x="39.3" y="42.65" font-size="5.8" fill="#222" textLength="50.4" lengthAdjust="spacingAndGlyphs" stroke="#222" stroke-width="0.05">T21 down-regulated</text>
<circle cx="34.5" cy="47.5" r="2.75" fill="#2b2c6e" stroke="#1a1a40" stroke-width="0.5"/>
<text x="39.3" y="49.8" font-size="5.8" fill="#222" textLength="43.5" lengthAdjust="spacingAndGlyphs" stroke="#222" stroke-width="0.05">T21 up-regulated</text>
<circle cx="34.5" cy="54.6" r="2.75" fill="#ededed" stroke="#777" stroke-width="0.5"/>
<text x="39.3" y="56.9" font-size="5.8" fill="#222" textLength="35.9" lengthAdjust="spacingAndGlyphs" stroke="#222" stroke-width="0.05">Nonsignificant</text>
<text x="0" y="0" font-size="9.1" fill="#222" transform="translate(48.8 255.8)" stroke="#222" stroke-width="0.05">Pooled log<tspan font-size="6" dy="1.6">2</tspan><tspan dy="-1.6"> Fold-change</tspan></text>
<text x="0" y="0" font-size="10.4" fill="#222" text-anchor="middle" transform="translate(13.0 127.4) rotate(-90)" stroke="#222" stroke-width="0.05">-log<tspan font-size="6.9" dy="1.8">10</tspan><tspan dy="-1.8">(Adj. </tspan><tspan font-style="italic">P</tspan>-value)</text>
<line x1="218.2" y1="169.6" x2="360.6" y2="169.6" stroke="#d67cc4" stroke-width="1.6"/>
<path d="M226.5 29.3V230.5 M231.9 27.6V230.5 M237.3 49.3V230.5 M242.7 51V230.5 M248.1 27.8V230.5 M253.5 73V230.5 M258.9 49.3V230.5 M264.3 27.4V230.5 M269.7 82V230.5 M275.1 66.5V230.5 M280.5 32.6V230.5 M285.9 38.4V230.5 M291.3 83.2V230.5 M296.6 67.4V230.5 M302 40.2V230.5 M307.4 43.2V230.5 M312.8 32.6V230.5 M318.2 72.7V230.5 M323.6 32.3V230.5 M329 28V230.5 M339.8 60.6V230.5 M345.2 50.8V230.5 M350.6 55.3V222.4" stroke="#999" stroke-width="0.6" fill="none"/>
<path d="M226 213.9 225.4 209.8 224.9 203.7 224.6 193.6 224.6 185.4 224.8 177.3 225.2 169.1 225.7 163 226.2 156.9 226.8 156.9 227.3 163 227.8 169.1 228.2 177.3 228.4 185.4 228.4 193.6 228.1 203.7 227.6 209.8 227 213.9ZM231.4 213.9 230.8 209.8 230.3 203.7 230 193.6 230 185.4 230.2 177.3 230.6 169.1 231.1 163 231.6 156.9 232.2 156.9 232.7 163 233.2 169.1 233.6 177.3 233.8 185.4 233.8 193.6 233.5 203.7 233 209.8 232.4 213.9ZM236.8 213.9 236.2 209.8 235.7 203.7 235.4 193.6 235.4 185.4 235.6 177.3 236 169.1 236.5 163 237 156.9 237.6 156.9 238.1 163 238.6 169.1 239 177.3 239.2 185.4 239.2 193.6 238.9 203.7 238.4 209.8 237.8 213.9ZM242.2 213.9 241.6 209.8 241.1 203.7 240.8 193.6 240.8 185.4 241 177.3 241.4 169.1 241.9 163 242.4 156.9 243 156.9 243.5 163 244 169.1 244.4 177.3 244.6 185.4 244.6 193.6 244.3 203.7 243.8 209.8 243.2 213.9ZM247.6 213.9 247 209.8 246.5 203.7 246.2 193.6 246.2 185.4 246.4 177.3 246.8 169.1 247.3 163 247.8 156.9 248.4 156.9 248.9 163 249.4 169.1 249.8 177.3 250 185.4 250 193.6 249.7 203.7 249.2 209.8 248.6 213.9ZM253 213.9 252.4 209.8 251.9 203.7 251.6 193.6 251.6 185.4 251.8 177.3 252.2 169.1 252.7 163 253.2 156.9 253.8 156.9 254.3 163 254.8 169.1 255.2 177.3 255.4 185.4 255.4 193.6 255.1 203.7 254.6 209.8 254 213.9ZM258.4 213.9 257.8 209.8 257.3 203.7 257 193.6 257 185.4 257.2 177.3 257.6 169.1 258.1 163 258.6 156.9 259.2 156.9 259.7 163 260.2 169.1 260.6 177.3 260.8 185.4 260.8 193.6 260.5 203.7 260 209.8 259.4 213.9ZM263.8 213.9 263.2 209.8 262.7 203.7 262.4 193.6 262.4 185.4 262.6 177.3 263 169.1 263.5 163 264 156.9 264.6 156.9 265.1 163 265.6 169.1 266 177.3 266.2 185.4 266.2 193.6 265.9 203.7 265.4 209.8 264.8 213.9ZM269.2 213.9 268.6 209.8 268.1 203.7 267.8 193.6 267.8 185.4 268 177.3 268.4 169.1 268.9 163 269.4 156.9 270 156.9 270.5 163 271 169.1 271.4 177.3 271.6 185.4 271.6 193.6 271.3 203.7 270.8 209.8 270.2 213.9ZM274.6 213.9 274 209.8 273.5 203.7 273.2 193.6 273.2 185.4 273.4 177.3 273.8 169.1 274.3 163 274.8 156.9 275.4 156.9 275.9 163 276.4 169.1 276.8 177.3 277 185.4 277 193.6 276.7 203.7 276.2 209.8 275.6 213.9ZM280 213.9 279.4 209.8 278.9 203.7 278.6 193.6 278.6 185.4 278.8 177.3 279.2 169.1 279.7 163 280.2 156.9 280.8 156.9 281.3 163 281.8 169.1 282.2 177.3 282.4 185.4 282.4 193.6 282.1 203.7 281.6 209.8 281 213.9ZM285.4 213.9 284.8 209.8 284.3 203.7 284 193.6 284 185.4 284.2 177.3 284.6 169.1 285.1 163 285.6 156.9 286.2 156.9 286.7 163 287.2 169.1 287.6 177.3 287.8 185.4 287.8 193.6 287.5 203.7 287 209.8 286.4 213.9ZM290.8 213.9 290.2 209.8 289.7 203.7 289.4 193.6 289.4 185.4 289.6 177.3 290 169.1 290.5 163 291 156.9 291.6 156.9 292.1 163 292.6 169.1 293 177.3 293.2 185.4 293.2 193.6 292.9 203.7 292.4 209.8 291.8 213.9ZM296.1 213.9 295.5 209.8 295 203.7 294.7 193.6 294.7 185.4 294.9 177.3 295.3 169.1 295.8 163 296.3 156.9 296.9 156.9 297.4 163 297.9 169.1 298.3 177.3 298.5 185.4 298.5 193.6 298.2 203.7 297.7 209.8 297.1 213.9ZM301.5 213.9 300.9 209.8 300.4 203.7 300.1 193.6 300.1 185.4 300.3 177.3 300.7 169.1 301.2 163 301.7 156.9 302.3 156.9 302.8 163 303.3 169.1 303.7 177.3 303.9 185.4 303.9 193.6 303.6 203.7 303.1 209.8 302.5 213.9ZM306.9 213.9 306.3 209.8 305.8 203.7 305.5 193.6 305.5 185.4 305.7 177.3 306.1 169.1 306.6 163 307.1 156.9 307.7 156.9 308.2 163 308.7 169.1 309.1 177.3 309.3 185.4 309.3 193.6 309 203.7 308.5 209.8 307.9 213.9ZM312.3 213.9 311.7 209.8 311.2 203.7 310.9 193.6 310.9 185.4 311.1 177.3 311.5 169.1 312 163 312.5 156.9 313.1 156.9 313.6 163 314.1 169.1 314.5 177.3 314.7 185.4 314.7 193.6 314.4 203.7 313.9 209.8 313.3 213.9ZM317.7 213.9 317.1 209.8 316.6 203.7 316.3 193.6 316.3 185.4 316.5 177.3 316.9 169.1 317.4 163 317.9 156.9 318.5 156.9 319 163 319.5 169.1 319.9 177.3 320.1 185.4 320.1 193.6 319.8 203.7 319.3 209.8 318.7 213.9ZM323.1 213.9 322.5 209.8 322 203.7 321.7 193.6 321.7 185.4 321.9 177.3 322.3 169.1 322.8 163 323.3 156.9 323.9 156.9 324.4 163 324.9 169.1 325.3 177.3 325.5 185.4 325.5 193.6 325.2 203.7 324.7 209.8 324.1 213.9ZM328.5 213.9 327.9 209.8 327.4 203.7 327.1 193.6 327.1 185.4 327.3 177.3 327.7 169.1 328.2 163 328.7 156.9 329.3 156.9 329.8 163 330.3 169.1 330.7 177.3 330.9 185.4 330.9 193.6 330.6 203.7 330.1 209.8 329.5 213.9ZM339.4 213.9 338.8 209.8 338.4 203.7 338.1 193.6 338.1 185.4 338.3 177.3 338.6 169.1 339.1 163 339.5 156.9 340.1 156.9 340.5 163 341 169.1 341.3 177.3 341.5 185.4 341.5 193.6 341.3 203.7 340.8 209.8 340.3 213.9ZM344.9 213.9 344.4 209.8 344.1 203.7 343.9 193.6 343.9 185.4 344 177.3 344.3 169.1 344.7 163 345 156.9 345.4 156.9 345.8 163 346.1 169.1 346.4 177.3 346.5 185.4 346.5 193.6 346.3 203.7 346 209.8 345.6 213.9Z" fill="#828282" stroke="none"/>
<path d="M227.2 202.3h1M227.9 202h1M224 191.3h1M225.9 210.4h1M227.4 167.4h1M224.4 195.6h1M226.2 198.1h1M226.3 187.6h1M225.1 179.3h1M227.7 188.7h1M227.2 188.7h1M224.5 196.5h1M223.9 194.2h1M227.6 193.8h1M228 187.1h1M227.6 179.7h1M226.2 196.9h1M226.6 140.4h1M226.8 179.8h1M227.7 145.7h1M225.4 179.9h1M224.6 195.8h1M225.2 186.5h1M226.4 185.5h1M225.4 164.3h1M225.2 189.1h1M225.2 182.8h1M225.9 201h1M228 190.7h1M224 193.6h1M224 189.5h1M227 208.3h1M223.9 199.5h1M224.1 174.5h1M224.7 173.3h1M226.9 146.3h1M225.4 149h1M225.4 200.8h1M224.4 206.6h1M227 192.8h1M224.1 181.2h1M227.6 208h1M226.5 178.2h1M227.8 182.5h1M226.2 202.6h1M225.3 155h1M224.2 192.7h1M224.5 181.3h1M224.6 203h1M224.4 215.3h1M225.6 169.9h1M224.9 190.8h1M225.8 205.4h1M225.7 201h1M224.3 150.7h1M226 178.2h1M227 185.7h1M227.9 195h1M224.3 202.5h1M225.7 203.2h1M225.1 171.5h1M225.8 163.2h1M227.7 154.1h1M225.8 189.6h1M225.9 205.9h1M225.1 187.9h1M225.5 195.1h1M228.1 185.1h1M226 167.3h1M225.3 193.8h1M227.2 179.7h1M227.5 183.6h1M227.2 201.9h1M226.7 167.6h1M225.4 199.4h1M226.9 204.6h1M227.1 192.3h1M226.8 171.7h1M226.6 197.2h1M226.3 144.6h1M225 169.4h1M226.7 188.3h1M226.6 207.3h1M227.3 183.6h1M227 199h1M227.4 170.9h1M227.6 201.9h1M226.7 163.2h1M226.1 140.3h1M226.1 194.1h1M227.8 174.9h1M225.9 161.3h1M227 196.3h1M224.6 204.9h1M226.7 186.1h1M225.7 203.3h1M226.6 202.7h1M226.9 202.6h1M225.8 181.2h1M226.6 188.1h1M226.5 185.5h1M224.4 164.6h1M224.1 197.7h1M224.5 187.8h1M224.7 192.7h1M224 181.2h1M226.5 200.2h1M226.4 186.7h1M223.9 187.3h1M225.7 149.1h1M224.4 191.8h1M227.4 174h1M226.5 191.9h1M224.3 186.9h1M226.3 199.4h1M227.9 192.7h1M227.3 183.4h1M226.6 200.1h1M226.4 194.1h1M226.3 183.9h1M226.4 138.8h1M225.4 197.6h1M224.4 189.1h1M226.3 189.9h1M226.5 194.5h1M227.6 194h1M224.9 198.2h1M225.1 178.5h1M227.9 174.8h1M227.7 191.6h1M228 197h1M226 194.8h1M228 198.2h1M226 183.3h1M224.4 192.7h1M226.5 172.2h1M227.2 198.5h1M227.4 185.5h1M225 169.9h1M227.8 188.1h1M225 187.5h1M224.6 198h1M226.5 177.1h1M225.9 190.3h1M227 199h1M224.4 201.3h1M226.1 188.8h1M225.3 199.1h1M225.9 193.9h1M225.4 170.9h1M224.1 190h1M225 203.7h1M227.4 209.7h1M226.2 180.7h1M225.7 159.4h1M226.3 187.4h1M225.9 194h1M227.7 203.9h1M227.5 198.2h1M224.7 180h1M224.2 196h1M227.2 157.7h1M225.1 194h1M227.2 200.7h1M225.9 182.9h1M226.2 193.2h1M224.5 199.6h1M226.4 189.3h1M224.9 187.6h1M227.3 193.8h1M224 184.2h1M226.9 204.4h1M226.7 103.7h1M224.1 195.3h1M226.6 184.2h1M227.9 196.5h1M225.1 191.1h1M227.8 195.8h1M225.6 177.5h1M224.6 172.1h1M224.4 192.2h1M225.5 192.1h1M226.3 185.3h1M227 187.5h1M225.7 184.1h1M225.2 194.1h1M227.8 200h1M225.5 197.5h1M224.7 165.4h1M226.6 182h1M226.2 210h1M226.5 190.5h1M225 190.8h1M227.1 169.2h1M224.9 195.9h1M225.5 190.2h1M226.9 190.2h1M226.7 196.9h1M224.5 169h1M224.4 178.3h1M227.4 158.2h1M225.9 163.2h1M224.2 153.9h1M226.9 134.2h1M227.7 160h1M226.7 168.6h1M227.8 171.2h1M226.6 161.3h1M226.5 167.5h1M225.4 161.1h1M226.4 171.2h1M225.4 151.3h1M227.3 163.3h1M226.6 164.5h1M227.3 164.5h1M226.1 148.7h1M226.9 146.6h1M225.6 155.7h1M224.9 168h1M224.2 169.6h1M227 151.8h1M224.1 155.3h1M226.5 122.8h1M225.7 163.7h1M224.7 162.3h1M224.7 170.8h1M227.4 156.2h1M224.7 156.1h1M224.7 172.7h1M225.2 153.5h1M224.2 170.6h1M227.6 145.3h1M226.7 134.1h1M226.7 131h1M224.5 115.3h1M226.6 162.8h1M226.9 163.9h1M224.7 137.8h1M225 171.6h1M224.4 168h1M225.5 119.7h1M225.3 134.9h1M226.9 153.7h1M226.8 169.2h1M226.7 163.8h1M227.7 157.7h1M227.8 157.4h1M224.1 152.7h1M225.7 133.8h1M224.3 157.4h1M226.1 102.8h1M225.4 151.1h1M227.5 165.4h1M226 168h1M225 165.8h1M224.3 170h1M225.1 166.3h1M225.6 168h1M224.2 170.5h1M227.8 165.8h1M225.6 160.7h1M226.1 146.9h1M224.5 154.9h1M226.2 162.5h1M227.4 144.2h1M224.9 157.6h1M225.9 143h1M226.3 169.9h1M226.9 148.8h1M227.6 149.3h1M227.2 163.8h1M225 148.3h1M224.4 157.4h1M227 159.2h1M224.6 164.3h1M225.3 131.5h1M225.8 131.3h1M225.3 76.4h1M226.6 133.8h1M225.2 135.3h1M225.6 108.8h1M225.8 129.7h1M226.7 105.7h1M227.1 78.7h1M226.7 67.8h1M225.8 76.7h1M226.4 49.7h1M226.6 34.3h1M225.3 62.6h1M225.7 50.2h1M224.8 126.2h1M225.3 121.8h1M225.4 65.4h1M226.7 133.6h1M224.7 78.6h1M224.6 228.2h1M227.4 221h1M226.4 207h1M225.7 223.9h1M225.4 220.8h1M226.3 229.1h1M226.9 209.9h1M226.1 227.1h1M226.8 225.3h1M227.7 218.9h1M224.5 210.6h1M227.6 221.9h1M225.7 218.5h1M227 219h1M226.1 207.3h1M226.4 206.5h1M227.2 226.9h1M224.3 219.5h1M224.2 206.3h1M225.9 215.8h1M225.6 208.6h1M225.2 224.3h1M226.2 224.6h1M227 221h1M225.4 223.7h1M227.8 223.5h1M227.3 209.6h1M225.6 214.8h1M227.3 226h1M224.2 217.8h1M230 198.5h1M232.8 168.6h1M230.1 175.5h1M232.2 186h1M232.9 199.2h1M230.9 203.2h1M229.3 203h1M230.1 203.6h1M230.9 190.8h1M230.6 190.7h1M230.9 186.6h1M231 205.3h1M233.4 186.3h1M232.2 175.8h1M232 209.3h1M230.8 206.9h1M231.8 194.5h1M230.5 195.8h1M229.6 201.6h1M231.7 177.6h1M232.5 182.6h1M233.2 191.9h1M230.4 199h1M232.5 190.6h1M232.1 194.1h1M232.1 151.6h1M232.8 196.3h1M230.2 190.8h1M231.5 204h1M233.4 181.1h1M231.6 194.9h1M230.9 190.3h1M230 188.9h1M233.1 202.7h1M231.9 207h1M232.2 194h1M231.6 185.2h1M233 192.1h1M230.2 200.1h1M231.9 192.9h1M233.1 178.6h1M232.5 179.2h1M230.2 169.9h1M232.8 170.6h1M233 182.5h1M231.1 191.3h1M231.5 200.9h1M230.5 179.3h1M231.8 195.3h1M229.4 180.4h1M229.8 191.2h1M230.1 203h1M230.1 195.8h1M232.2 202.4h1M232.4 198.8h1M232.8 172.9h1M233.3 183.4h1M232 198.8h1M232.9 158.5h1M232.8 186.8h1M231.3 163.8h1M230 182h1M229.7 184.1h1M229.7 177.6h1M232.5 171.8h1M232.7 191.5h1M232.3 207.6h1M231.8 147.2h1M233.3 202h1M229.6 184.4h1M230.2 185.7h1M232.2 198.5h1M232.4 177.9h1M231.6 176.3h1M230.9 182.3h1M230.9 174.2h1M232.2 175.8h1M233 212.3h1M229.6 188.5h1M230.5 188.2h1M229.8 205.8h1M232.4 199.9h1M233.2 187.9h1M231.4 196.7h1M232.2 181.5h1M230.5 185.1h1M230.7 203.1h1M229.5 179.3h1M231.1 200.5h1M229.6 188h1M230.6 164.9h1M233.4 175.2h1M231.6 180.1h1M229.7 207h1M230.9 163.8h1M232.5 189h1M230.8 190.7h1M231.2 178.4h1M230.9 188.5h1M230.2 193.6h1M233.4 190h1M229.7 201.2h1M230.5 184h1M231.4 165.2h1M229.5 194.7h1M231.1 203.8h1M231.8 172.6h1M232 170.9h1M229.4 199h1M231.1 160.2h1M233 186h1M230.9 173.8h1M233.2 208.6h1M229.9 188.4h1M232.4 209.5h1M233.2 211.1h1M230.2 169.3h1M231.3 197.7h1M230.5 184.3h1M230 192.7h1M231.2 194.9h1M233.1 176.3h1M233 183.4h1M232.8 188.7h1M233.3 187.1h1M230.3 194.8h1M233.2 193.4h1M230.1 186.4h1M231.1 190.7h1M230.9 191.7h1M232.4 160.9h1M233.4 179.3h1M232.2 174.4h1M232 183.8h1M230.9 186h1M231.7 198.4h1M233.4 177h1M230.4 188.5h1M231.6 168.6h1M231.3 190.3h1M232.3 195.9h1M231.1 159.7h1M231.4 188.3h1M229.5 203.9h1M231.4 201.9h1M230.7 174.9h1M229.4 186.3h1M232 193.5h1M233.2 173.3h1M232.3 199.1h1M233.2 176h1M230.7 129.6h1M230 199.9h1M231.2 184.5h1M232.4 191.6h1M233.2 200.4h1M230.6 191.8h1M229.9 207.2h1M230.8 196.6h1M230.2 203.3h1M231.2 188.9h1M230.7 184h1M229.9 187.4h1M230.5 178.2h1M232.6 191.5h1M232.8 190.1h1M231.9 198.5h1M230.3 201.4h1M230.4 175.8h1M233.1 178.2h1M230 198.2h1M232.4 186.6h1M231.7 186.1h1M232.8 185.4h1M231.4 189.3h1M231.8 186.9h1M229.8 192.1h1M231.9 192.6h1M230.2 203.8h1M229.6 183h1M232.2 191.4h1M231.2 185.2h1M232 186.7h1M229.6 169.6h1M232 200.7h1M232.5 185.7h1M230.4 194.6h1M232.5 189.7h1M231.5 188.8h1M229.9 175.7h1M230.2 197.1h1M230.2 192.1h1M229.9 142.1h1M231.1 192.6h1M231.9 185h1M229.9 194h1M231.4 195.6h1M231.7 194.6h1M233.1 200.7h1M231.4 182.7h1M231.5 158h1M232 148h1M231.1 155h1M230.6 163.3h1M229.9 127.9h1M232.9 171.9h1M230.5 150.3h1M233.1 149.2h1M229.9 147.8h1M229.9 170.5h1M231.9 151.3h1M229.7 155.2h1M233.2 146.5h1M232.2 147.3h1M230.5 150.1h1M229.9 154.9h1M229.7 161.3h1M232.8 168h1M229.7 148.7h1M233.1 168.3h1M232.5 158.6h1M229.9 150.1h1M231.1 155.6h1M231.6 172.4h1M230.6 167.6h1M233 150.4h1M233.1 154.9h1M232.4 162.1h1M229.9 170.8h1M233.2 163.3h1M231.6 170.8h1M231.6 155.2h1M233.2 165.8h1M231.5 158.2h1M233 165.9h1M233 147.7h1M230.7 149.8h1M230 162h1M229.7 145.4h1M231.2 147.9h1M233 163h1M230.6 147.5h1M232.3 160.3h1M232.4 172.1h1M231.8 145.7h1M232.1 162.3h1M232.3 160.9h1M230 105.6h1M230.1 122.4h1M231.9 150.8h1M232.8 159h1M229.9 153.6h1M231.7 140.9h1M229.7 172.9h1M232.2 150.3h1M230.8 143.4h1M231.7 144.4h1M232.8 155.1h1M233 151.5h1M232.8 168.8h1M230 151.7h1M233.2 151.1h1M230 161.1h1M232.3 150.1h1M229.5 139.2h1M232.7 153.4h1M232 165.9h1M232.1 132.3h1M230.8 151h1M232.2 169.9h1M231.8 144.4h1M231.4 169.1h1M229.5 159.4h1M232.7 162.6h1M229.7 132.6h1M231.3 80.1h1M230.6 127.1h1M232.4 30.5h1M232.3 113.7h1M231.1 67.1h1M230.6 67.8h1M230 109.7h1M231.6 66.4h1M231.4 56.6h1M230.9 91.5h1M231 57.5h1M232.1 73.2h1M231.9 90.4h1M230.7 133.7h1M230.4 45.6h1M230 134.2h1M230.3 54h1M231.2 88.9h1M231.3 49.9h1M230.1 81.7h1M232.4 210.6h1M232.7 214.7h1M232.2 214.9h1M231.8 209.3h1M232.9 228.9h1M230.3 206h1M230.8 227.8h1M230.9 227h1M230.3 227.3h1M231.1 229.3h1M232.3 222.3h1M230.1 220.2h1M232.9 206.9h1M230.3 213.1h1M231.2 219.9h1M229.6 219.7h1M232.4 218.6h1M232.8 213h1M232.4 213.3h1M233 208.8h1M231.1 210.7h1M232 213.8h1M232.2 208.5h1M230.2 218.9h1M230.4 221.7h1M232.4 213.3h1M231.5 224.9h1M230.9 209.6h1M231.8 227.2h1M230 220.8h1M235.3 189.9h1M236.5 188h1M237 188.4h1M238.7 188.6h1M238.6 183.2h1M235 198.4h1M234.9 188.6h1M237.2 188.2h1M238.1 188.8h1M236.6 201.9h1M236.9 170.6h1M235.4 197.3h1M238.1 200.3h1M235.7 182.7h1M235 195.6h1M236.9 158.5h1M237.2 185.7h1M235.3 165.4h1M236 191.1h1M238.3 200.8h1M237.5 187.4h1M235.2 199.2h1M237.4 194.5h1M238.5 190.1h1M236.8 191.9h1M236.7 192.2h1M235.9 195.9h1M236.6 186.8h1M235.9 167.5h1M235.9 180.1h1M238.6 179h1M235.9 183.1h1M238.7 178.3h1M235.1 182.1h1M237.6 194.1h1M236.6 181.3h1M236.2 161.8h1M237.6 171.3h1M235.2 208.3h1M235.6 181h1M238.1 191.7h1M236.8 178.2h1M238.2 197.4h1M237.1 174.6h1M237.3 204.2h1M236.4 183.4h1M236.5 195.2h1M238.4 186.3h1M237.2 193.6h1M237.2 176h1M237.8 182.6h1M234.9 174.7h1M238.3 168.5h1M235 173.1h1M235.9 170h1M237.4 179.5h1M235.4 172.7h1M236.1 186.3h1M238.3 194.6h1M238.2 201.8h1M235.4 204.4h1M236.7 203.5h1M235.2 196.5h1M238.2 169.1h1M238.7 202.5h1M238.4 169.1h1M238.9 205.2h1M235.2 169.4h1M236.6 189.8h1M235.9 205.9h1M238.6 182.8h1M236.4 175.7h1M236.5 190.1h1M237.2 166.7h1M234.8 198.6h1M238.1 186.4h1M236.8 194.4h1M237.1 196.9h1M237.8 209.7h1M236 190.1h1M235.4 198h1M238.6 171.1h1M235.8 171.8h1M236.9 184.9h1M238.8 179.5h1M238 186.8h1M234.8 186.8h1M235.2 172.6h1M236 173.6h1M235.9 133.9h1M238.9 183.3h1M237.8 186.9h1M237.8 160.8h1M235.8 199.8h1M235 184.1h1M235.4 179.4h1M234.7 192.2h1M236 202h1M237.8 171.5h1M237.8 205.7h1M236.3 172.6h1M237.1 197.4h1M235.8 190.2h1M236.6 185.9h1M235.7 185.4h1M236.2 185.7h1M238.2 172.1h1M237.8 193.3h1M236.3 198.1h1M236 195.3h1M238 203.4h1M235.9 204.8h1M237.1 188.5h1M235.6 188.1h1M235.7 176.8h1M235.6 189.1h1M235.9 197.4h1M237.8 201.9h1M235.2 180.7h1M237.1 148.7h1M236.7 195h1M238.4 205.5h1M235 201.2h1M235.5 201.7h1M235.1 202.7h1M237.8 185.9h1M236.9 197.1h1M238.2 175.3h1M237.2 194.5h1M237.4 170.2h1M236.7 193.3h1M237.2 178.5h1M236.6 193.6h1M237 194.7h1M238.6 187.4h1M234.8 183.4h1M234.8 199h1M235.8 189.4h1M238.5 181.9h1M235 176.6h1M237.3 199.9h1M234.8 169.7h1M238.5 188.1h1M236.5 177.5h1M236.7 190.2h1M235.3 171.5h1M236.7 198.6h1M236.9 204.1h1M237.3 185.1h1M235.2 211.8h1M236.1 204.8h1M237.6 190.1h1M237.3 200h1M237.5 173.8h1M237.5 166.5h1M237.6 197.8h1M237.3 187.3h1M235.2 167.1h1M236.8 189.2h1M236.9 197.8h1M236.7 193.2h1M238.6 206.4h1M238.9 202.6h1M236.1 183.1h1M235 196.2h1M237.8 211.6h1M238 197.9h1M238.3 200.8h1M237.3 179.3h1M237.6 175.6h1M238 159.1h1M235 195.1h1M238.4 208.6h1M237.9 174.4h1M236.9 199.3h1M237.4 164.8h1M237.7 203.4h1M238.8 205.2h1M237.5 202.2h1M237.1 188.9h1M236.1 142.2h1M236.8 178.2h1M238.6 180.5h1M235.9 187.2h1M235.7 196.1h1M237.4 159.1h1M236.7 208.3h1M236.1 199.6h1M234.7 190.2h1M235.2 175h1M237.9 182.2h1M238.6 179.3h1M235.9 195.1h1M237.3 180.9h1M236.9 195.5h1M235.8 188.6h1M235.1 172.6h1M236.6 166.9h1M238.4 187.8h1M236 202.9h1M238.3 166.3h1M236.5 170.8h1M238.6 154.3h1M237.6 172.9h1M234.9 169.7h1M236.1 128.8h1M238.3 121h1M235.5 161.8h1M236 142.3h1M235.2 170.8h1M236.6 146.7h1M236.1 160.1h1M236.1 147h1M237.8 164.3h1M235.3 172.3h1M235.8 147.6h1M236.9 139.2h1M237.5 172.6h1M236.3 159.3h1M235.5 147.1h1M236.4 161h1M234.9 170.9h1M235.8 163.1h1M236.1 153.5h1M238.1 156.5h1M236.7 172.5h1M238.3 163.9h1M237.1 168.9h1M235.1 163.3h1M238.3 135.9h1M235.1 140h1M236.5 159.2h1M235.7 156.2h1M235.8 145.2h1M235.6 145.9h1M236.6 161.7h1M236.8 131.6h1M237.9 141.2h1M238.2 133.7h1M236.7 128.9h1M238.6 157.7h1M236.1 159.8h1M238.4 131.9h1M237.7 151.9h1M237.4 155.5h1M238.3 164.4h1M236.2 170.3h1M236.2 167h1M236.9 164.9h1M236.3 157.9h1M238.5 170.5h1M237.2 148.2h1M235 172.6h1M238.2 116.5h1M237.7 159.9h1M237.8 164.1h1M237.6 152.4h1M236.5 154.9h1M235.3 167.3h1M235 157.1h1M236.2 116.1h1M236.5 155.4h1M236.8 165.6h1M235.5 131.3h1M235.1 131.3h1M236.6 135.9h1M236.3 166.9h1M236 138.9h1M236.8 162.4h1M236.7 141.6h1M238.5 161.5h1M236.6 148.2h1M237.3 158.6h1M237.1 118.7h1M235.6 163.7h1M235.8 102.6h1M237.3 138.7h1M236.1 110.6h1M235.5 138.3h1M236.4 79.3h1M237.3 100.8h1M237.4 57.7h1M238.2 120.6h1M237 123.9h1M236.2 81.8h1M237.1 59.4h1M235.8 75.8h1M236.2 64.6h1M237.5 84.2h1M236.1 111.2h1M238.1 110.5h1M236.7 80.6h1M237.2 89.3h1M235.6 116.7h1M237 130.7h1M238.6 215.3h1M238.1 214.7h1M236.8 206.1h1M236.7 219.4h1M237.8 220.6h1M235.4 215.8h1M236.9 206.8h1M237 211.7h1M237.1 215.5h1M235.4 226.7h1M236.2 212.1h1M238 226.3h1M237.8 211.7h1M235.4 220.2h1M235.7 211.5h1M237.5 213.6h1M234.9 222.9h1M237.9 215.5h1M238.6 215.5h1M237.7 224h1M237.1 219.1h1M235.8 222.3h1M237.2 216.4h1M237.2 207.9h1M237.4 217.6h1M236.4 214.6h1M237.5 223.1h1M235 220.3h1M236.3 225.4h1M237.4 213.2h1M242.1 205.2h1M241.6 184.5h1M243.2 198.8h1M243.8 195h1M240.2 200.2h1M243.6 208.2h1M240.9 194.9h1M244 183.4h1M241.5 202.1h1M244.2 198h1M241.5 202.8h1M243 194.4h1M240.4 185h1M240.9 185h1M244.1 195h1M241.5 206.4h1M241.1 189.3h1M241.1 208.3h1M243.6 150.6h1M241.2 172h1M243.2 200.8h1M241 172.2h1M242.6 198.2h1M240.9 168.8h1M240.9 193.9h1M240.1 192.2h1M241.7 192.4h1M240.4 190.2h1M242.4 171.1h1M242.5 194.3h1M242.3 198.5h1M242.8 185.1h1M242.5 203.1h1M240.6 186.8h1M243.7 194.4h1M243.8 188.7h1M242.6 190.9h1M241.7 174.9h1M240.6 202.7h1M242.1 187.6h1M241.2 205.5h1M242 205.3h1M241.1 158.6h1M241 131.8h1M240.9 192.5h1M242.1 191.1h1M243 200.5h1M240.9 192h1M241.2 167.9h1M243.8 200.8h1M240.7 193.2h1M241.5 179.7h1M240.5 194.3h1M241.6 201.9h1M243.4 137.5h1M241.1 163.9h1M241.9 192.4h1M241.5 184.3h1M240.8 180h1M241.3 195.7h1M241.2 201.6h1M241.9 185.3h1M240.4 184.2h1M243.3 198.3h1M241.2 190.9h1M243.7 164.6h1M241.2 208h1M243.8 173.8h1M242 195.4h1M243.3 198.2h1M241.6 192h1M241.9 171.1h1M240.2 201.1h1M241.6 191h1M242.5 173.6h1M243.8 171.9h1M244.1 189h1M242.6 196.3h1M244.3 204.3h1M242.2 185.7h1M244 201.4h1M241.4 203.2h1M242.9 194.7h1M244 211.3h1M244.3 187.2h1M240.4 185.6h1M241.5 190.7h1M241.2 181h1M240.5 201.9h1M240.7 189.5h1M243.2 182.1h1M242.7 186.7h1M240.6 181.4h1M243.8 178.9h1M243.1 203h1M241.9 190.7h1M241.7 198.5h1M241.9 206.7h1M243.3 166.8h1M241 193h1M242.5 193.3h1M241.1 187.1h1M241.7 197.7h1M244 200.7h1M242.6 185.9h1M242.2 191.6h1M240.8 175.8h1M242.8 193h1M243.7 186.4h1M241.7 172.6h1M242.4 198.7h1M242.4 196.5h1M242.2 192.2h1M243.6 184.7h1M242.8 173.7h1M242.7 193.8h1M242.4 180.1h1M241.8 193.6h1M242.7 172.7h1M242.3 179.3h1M242.4 197.3h1M241.1 194.1h1M244 197.1h1M241.2 175.5h1M242.2 170.5h1M240.8 197.7h1M244.1 186.5h1M243.2 181.8h1M241.6 187.7h1M244.2 181.1h1M241.1 161.7h1M244.3 192.9h1M242.6 200.3h1M240.6 171.1h1M241.9 199.7h1M240.5 191.5h1M244.2 196.1h1M240.6 168.8h1M243 197.3h1M243 159.1h1M241.9 191.1h1M242.2 205.3h1M240.4 206.5h1M242.9 164.2h1M243.8 154.2h1M243 185.7h1M241.9 184.3h1M243.3 197.8h1M243.4 187.3h1M242.1 191.5h1M241.7 201.1h1M242.1 199.4h1M244.1 186.9h1M242.9 187.2h1M243.5 195.6h1M244 202.3h1M240.6 159.3h1M242 197.6h1M242.4 197.6h1M243.8 176h1M241.1 201.5h1M240.9 185.5h1M243.5 200.2h1M243.8 197h1M242.2 193.6h1M241.5 203.7h1M242.3 212.4h1M242.3 198.5h1M244.1 192.5h1M243 192.7h1M242.7 198.1h1M241.7 200.8h1M243.4 172.4h1M241.3 204.4h1M240.8 170.3h1M243.8 192.6h1M244.3 183.1h1M243.8 197h1M243.7 184.3h1M242.2 189.1h1M240.6 176.7h1M240.6 186.2h1M240.7 174.6h1M243.9 197.3h1M244.1 195.7h1M243.3 194.2h1M241.5 197.7h1M243 179h1M243.2 198.3h1M241.5 195.4h1M240.7 205.8h1M240.2 206.7h1M241.4 156.5h1M243.7 194.3h1M240.8 174.1h1M241.5 187.5h1M243.1 188h1M242.2 204h1M241.6 183.6h1M244.1 192.5h1M243.1 169.3h1M243.3 159.8h1M242.2 163.8h1M240.8 172.9h1M243.4 132.5h1M243.1 169.2h1M243.4 160.5h1M243.1 165.4h1M241.4 150.4h1M240.8 101.7h1M243.9 147.4h1M241.2 110.4h1M241 119.4h1M243.8 159.4h1M242.5 167.5h1M242.2 157.7h1M243.9 149.4h1M243.5 160.9h1M242.5 160.9h1M243.2 157.3h1M242.6 95.2h1M241.1 173h1M241.5 143.1h1M240.4 146.6h1M242.7 159.6h1M242.2 139h1M242 171.8h1M242.1 150.2h1M243.7 148.5h1M243 140.9h1M243 145.4h1M241.3 164h1M241.1 146.4h1M243.4 156.4h1M243.5 167.8h1M241 168.7h1M242.7 170.2h1M242.6 167.4h1M240.9 151.1h1M243.3 149.9h1M242.4 137.6h1M241.3 171.8h1M241.8 172.5h1M243.9 164.6h1M242.9 169h1M243.6 138.7h1M242.7 158.9h1M244 151.4h1M243.9 162.4h1M242.7 147.1h1M241.6 136.4h1M243.1 166.5h1M242.4 154.8h1M243.7 166.1h1M243.9 169h1M243 171.8h1M240.7 152.9h1M242.1 151.7h1M241.4 166.7h1M241.2 149.7h1M241 162h1M240.4 167.1h1M244 162.2h1M241.9 124.7h1M240.7 155.6h1M240.5 147h1M242.4 160.7h1M243 152.7h1M243.5 172.3h1M243.9 162.3h1M241.5 150.8h1M243.6 159.7h1M241.6 160.8h1M242.7 144.1h1M241 123.6h1M241.7 97.6h1M242.5 97.7h1M242.7 53.1h1M243.1 95.1h1M241.3 95.2h1M241.5 80.6h1M241.9 121.6h1M240.9 97.2h1M243.5 108.3h1M241.8 94.9h1M242.7 99.7h1M241.9 95.6h1M241.6 88.6h1M242 79.4h1M241.8 77.4h1M241.3 83.4h1M242.2 97.2h1M241.1 139.3h1M242.9 99.4h1M243.2 67.9h1M244 210.4h1M240.9 224.8h1M243.3 226.1h1M241.5 224.9h1M243.7 226.1h1M241.2 224.4h1M243 215.4h1M242.5 228.5h1M242.4 216.9h1M243.3 217.2h1M243.6 210h1M240.4 221.6h1M240.4 218.3h1M242.1 214.4h1M243.5 211.8h1M242.9 212.1h1M243 221.5h1M241.1 214.3h1M242.1 208.9h1M241 216.8h1M242.1 209.8h1M243.5 211.9h1M242.5 217.1h1M241.2 218.4h1M243.8 210.5h1M240.4 228.6h1M240.6 218.3h1M241.6 219h1M243.2 223.7h1M243.8 215.7h1M248.1 184.9h1M248.7 175.6h1M247.1 196.4h1M247.9 185.7h1M248.8 166.1h1M249 193.2h1M249 201.3h1M248.5 182.2h1M248.6 195.8h1M246.7 184.2h1M248.4 190.4h1M248.2 178.3h1M247.5 169.8h1M249.2 195.7h1M249.6 176.6h1M246.9 173.8h1M245.6 185.6h1M248.6 183.9h1M249 205.7h1M245.6 174.7h1M246.6 192.9h1M245.6 178.7h1M247.4 189.9h1M247.7 175.7h1M246 182.8h1M249.3 190.1h1M246.8 193.1h1M249.2 170.3h1M245.9 170.6h1M247 195.8h1M246.7 194h1M247.2 202.8h1M248.9 175.2h1M247.1 184.2h1M248.5 196.5h1M247.2 187.8h1M246.7 203.3h1M245.8 171.6h1M245.7 200.9h1M246.9 203.1h1M247.2 175.9h1M246 198.5h1M249.3 193.4h1M248.2 168.7h1M245.8 174.1h1M246.9 192h1M245.8 192.4h1M249.3 186h1M245.8 183.6h1M249.6 193.5h1M246.4 183.6h1M246.4 178.7h1M248.7 172.5h1M245.8 186.6h1M248.8 195.9h1M249.3 189.1h1M246.1 176.4h1M248.5 199.4h1M246.9 163.1h1M249.2 178.7h1M247.6 193.9h1M246.6 162.2h1M246.1 201.2h1M247.8 188.7h1M246.9 205.2h1M248.1 193.4h1M246.5 184.1h1M248.8 171.4h1M245.8 185.4h1M246.7 178.1h1M246 197.6h1M249.2 191.8h1M247.2 192.7h1M249 180.1h1M247.8 190.1h1M247 209.8h1M248.4 193.8h1M249 189.5h1M248.1 161.7h1M248.9 200.2h1M246.2 193.6h1M249.4 169.6h1M249.6 196.8h1M248.1 190.1h1M248.1 183.2h1M248 155.9h1M246.7 180.5h1M247.9 196.7h1M247.5 183.2h1M246.5 164.8h1M247.9 183.6h1M249.3 183.7h1M247.9 181.4h1M248.8 207.7h1M249.3 195.1h1M246.6 177h1M245.7 199.9h1M247.9 199.7h1M247.2 180.7h1M249 208.8h1M248.2 150.1h1M248.9 182.2h1M249 203h1M246.4 183.5h1M249.2 179.6h1M246.6 163.8h1M246.8 201.9h1M249 193.8h1M247.2 193.9h1M246.3 160h1M245.9 181.7h1M245.6 191.2h1M246.1 191.3h1M249.4 187h1M246.4 190.1h1M245.8 162.6h1M249.5 182.3h1M247.4 189.2h1M248.2 189.5h1M246.8 185.3h1M248.5 183.1h1M246.9 174.7h1M247.8 196.6h1M245.7 192.5h1M247.9 152.3h1M247.5 201.3h1M247.9 203.6h1M248.5 174.1h1M248.5 200.1h1M246.2 184.6h1M246.3 194.4h1M249.1 180.6h1M245.7 196.8h1M249.1 164.2h1M245.9 206h1M248 185.1h1M245.9 185.2h1M247.1 198.3h1M245.8 186.7h1M246.8 206.4h1M245.8 179.1h1M249.1 194.6h1M248.4 183h1M248.6 200.5h1M248.6 184.9h1M249.4 196.1h1M247.1 185.5h1M249.6 202.3h1M247.6 157.7h1M249.2 190.5h1M246 177h1M248.1 199.1h1M247.9 180.9h1M247.6 179.7h1M249.5 202h1M246.8 204.7h1M246.9 176.8h1M248.7 192.6h1M248.8 170.9h1M249 191.8h1M249.4 196.1h1M245.9 169.1h1M247.8 165.6h1M247.3 165.9h1M246.1 185.5h1M247 201.1h1M247.6 188.2h1M245.5 204.4h1M246.7 183.9h1M248.8 189.6h1M247.2 166.3h1M248.6 196.4h1M248.8 197.1h1M247.8 202h1M248.7 198.2h1M245.9 191.8h1M245.7 171.1h1M249.2 177.7h1M246.6 184h1M247.5 173.2h1M247.8 195.4h1M249.6 194.9h1M246.3 183.7h1M245.9 181.4h1M249.3 139.1h1M245.6 186.9h1M246.4 180h1M249.2 201.9h1M248.3 173h1M248.4 175h1M248.1 188.9h1M246.7 181.4h1M245.6 203.3h1M248.5 200.7h1M247.9 174h1M246.9 191.2h1M245.9 182.2h1M247.6 195.4h1M246.3 202.7h1M249.4 183.3h1M248.5 149.6h1M245.8 168h1M246.7 132.5h1M247.4 151.2h1M249.4 131.2h1M247.9 162.7h1M249 145.9h1M248.9 169.5h1M247.6 149h1M245.8 161h1M247.9 163.2h1M248 170.1h1M246.8 162.8h1M245.7 153.1h1M248.4 153.9h1M248.3 159.1h1M246.7 126.4h1M248 157.3h1M246.2 158.1h1M246.9 132.9h1M249.2 157.2h1M247.3 159.3h1M249.1 170.8h1M249.4 164.4h1M248.9 151.4h1M249.4 168.4h1M248.2 165.7h1M249.4 167.2h1M248.2 127.5h1M247.5 164.3h1M247.6 155.1h1M246.4 150.5h1M246.3 140.8h1M248 149.7h1M249.4 126.2h1M249.1 139.9h1M246.3 149.2h1M248.5 164.7h1M248 133.4h1M248.1 150.5h1M248.5 126.9h1M248.1 156.5h1M245.8 145h1M246.4 164.7h1M247.4 163.7h1M248.9 149.8h1M248.7 143.5h1M248.8 147.4h1M247.5 170h1M247.9 140h1M246.6 159.6h1M248.7 165h1M248 168.3h1M247.4 149.7h1M247 154.5h1M249.3 168.8h1M246.1 163.9h1M249 165h1M248 140.5h1M248 161.1h1M249 161.5h1M246.7 165.4h1M247.6 155h1M248.7 163.8h1M246.4 116.6h1M247.1 142h1M248.3 144h1M247.6 158.6h1M248.7 138.9h1M246 148h1M248.3 172.2h1M248 170.8h1M246.7 170.1h1M248.1 163.1h1M246.3 129.5h1M247 70.6h1M246.7 135.8h1M246.6 128.2h1M248.9 136.4h1M248.3 100.1h1M247.6 93h1M248.8 112.3h1M248.9 116.8h1M248.6 52.7h1M248.9 129.7h1M247.8 67h1M247.4 76.6h1M248.9 33.1h1M246.6 33.2h1M248.1 80.9h1M248.7 120h1M246.5 55.8h1M248.1 107.2h1M249 41.2h1M248.5 109.5h1M247.1 215.5h1M246.1 223.7h1M247.3 228.6h1M246.5 226.5h1M246.2 221.8h1M246.7 224.6h1M247.3 206.4h1M247.7 214.8h1M248.8 206.7h1M249 207.5h1M249 212h1M248 221.5h1M249.2 221.6h1M249.5 223.1h1M247 223.8h1M247.9 211.9h1M246.2 224.3h1M246.5 208.7h1M248.9 217.3h1M247.5 217.9h1M249.2 225.5h1M248.2 215.2h1M248.4 220.1h1M246.4 220.4h1M248.6 221h1M247.6 209h1M249.2 213.8h1M249.4 214h1M249 223.4h1M247.9 211.7h1M253.4 194.2h1M251 188.3h1M254.6 187.4h1M252.7 201.5h1M254.6 177.5h1M253.6 190.5h1M251.8 200.3h1M254.7 181.6h1M253.1 192.1h1M251.9 159.5h1M253.6 145.3h1M254.2 189.9h1M254.6 181.9h1M253.6 171.1h1M251.5 200.1h1M253.6 176.1h1M251 189.6h1M252.9 195.4h1M252.6 172.1h1M253.6 191.3h1M252.4 187.7h1M253.7 178.8h1M254 180.5h1M253.5 194.7h1M253.4 186.1h1M252.5 212.7h1M253.1 185.8h1M251.7 182.1h1M251.7 188.2h1M254.7 186.6h1M253.3 183.6h1M252.1 203.2h1M254.5 188.4h1M251 190.7h1M250.9 201.1h1M251.3 162.9h1M252.8 184.6h1M252.1 200.2h1M254.8 190.9h1M253.1 162.1h1M254.9 195.2h1M251.5 192.2h1M251.5 197.6h1M253.4 177.8h1M251.8 180.8h1M252.8 177.8h1M254.6 183.3h1M252.1 165.7h1M254.3 202.2h1M253.1 192.7h1M252 168.5h1M254.2 198.2h1M251.9 192h1M250.9 187.8h1M252.7 197h1M251.9 173.3h1M253 200.3h1M252.1 197.9h1M251.8 168.8h1M251.5 185.7h1M252.2 189.5h1M253 196.9h1M251.5 172.2h1M251.6 178.4h1M251.6 204h1M253.6 175.7h1M253.9 178.1h1M254.7 187.5h1M252.9 153.1h1M253.9 183.2h1M251.2 183.6h1M251 201.8h1M251.5 201.7h1M254.5 188.7h1M254.2 172.8h1M253.2 191h1M251.7 188.2h1M252.1 196.2h1M252.6 146.6h1M251.1 201.5h1M253.3 209.1h1M251.3 192.9h1M252.3 194.9h1M254.9 198.9h1M253.6 168.2h1M254.5 215h1M252.8 165.4h1M251.3 202.4h1M253.6 186.5h1M253.3 192.8h1M254.7 201.6h1M254.6 201.6h1M254 201.2h1M254.6 211.4h1M251.2 180h1M254.6 180.8h1M253.6 189.5h1M252.1 187.1h1M251.6 199.7h1M251.6 184.6h1M254.3 184.8h1M254.7 208.2h1M252.7 195.1h1M251.4 175.1h1M253 155.3h1M252 185.5h1M253.6 194.7h1M253.9 161.4h1M253.2 171.4h1M254.4 188.3h1M253.1 196h1M252.8 203.9h1M251.1 170h1M253.2 190.6h1M251.8 192.7h1M253.8 199.5h1M253.6 181.6h1M254.1 194.7h1M251.2 181.2h1M253.5 204.1h1M251 198.8h1M254.2 169.6h1M253.5 179.1h1M252.7 163.5h1M254.9 191.4h1M252.5 189h1M251 182.7h1M251.7 201.8h1M253.4 195.6h1M254.2 205.2h1M254.2 185.5h1M253.3 191.8h1M253.7 194.6h1M253.1 185.1h1M252 175.8h1M252.6 179.1h1M254.1 183.9h1M254.4 154.8h1M255 191.7h1M251 204.1h1M253.9 190.8h1M253.4 182.8h1M251.3 198.6h1M252.8 174.6h1M251.8 194.5h1M252.7 160.1h1M253.1 207.3h1M253.5 193.9h1M254.2 164.1h1M255 170.9h1M251 187.8h1M251.4 197.5h1M252.1 197.5h1M252.9 179.7h1M254.5 191.5h1M253.4 187.3h1M253.5 187.7h1M253.9 156.5h1M253.4 183.2h1M251.8 188.2h1M254.8 146.2h1M253.1 209.3h1M253.4 197.6h1M252.2 174.1h1M254.9 194.2h1M254.5 182.1h1M254.1 189.7h1M251.1 187.1h1M254.4 179.2h1M254 160.9h1M255 175.4h1M251.5 166.7h1M251.3 170.8h1M254 185.2h1M255 195h1M254.6 201h1M253.6 188h1M252.8 163.9h1M251.1 191.4h1M251.7 168.3h1M253.8 201.1h1M251.5 191.2h1M251.2 172.9h1M253.9 205.4h1M254.5 185.1h1M252.1 166.3h1M254.1 199.3h1M250.9 190.1h1M254.7 195.4h1M254.9 175h1M252.7 158.1h1M251.2 194.2h1M254.5 190.4h1M251.7 196.1h1M251.2 196h1M251.1 188.5h1M254.3 198.6h1M253.3 192.5h1M252.4 181.5h1M253.2 201.5h1M252.1 168.9h1M251.9 112.2h1M252.7 172.6h1M252.4 147.2h1M253.5 166.9h1M252.8 160.5h1M254.8 167.6h1M252.5 135.7h1M253 173h1M251.3 170.5h1M253.5 154.6h1M254.6 146.4h1M253 171.1h1M254 157.8h1M253.6 140.8h1M252 158.1h1M254.4 137.8h1M253.5 151h1M252.4 154.9h1M251.9 169.9h1M252.4 119.2h1M251.4 149.2h1M252.1 157.7h1M252.9 171.9h1M251.5 160h1M252.8 113.2h1M252.9 142h1M253 160.3h1M254.6 166.8h1M253 150.4h1M251.9 163.9h1M252.2 166.5h1M251.8 161.7h1M252.8 169.9h1M252.3 124.2h1M254 163.6h1M252.3 167.6h1M254.4 157.5h1M254.3 162.9h1M253.5 166.8h1M251.4 158h1M253.6 154.6h1M251.5 163.5h1M253.3 166h1M253.8 155.4h1M253.8 162.4h1M253.7 154.4h1M252.6 168.6h1M252.4 169.5h1M252.3 151.8h1M251.7 154.1h1M251.2 152.4h1M253.5 165.6h1M252.8 154.1h1M254.4 157.2h1M253.9 113.6h1M251.8 155.8h1M254.1 158.8h1M254.1 156.3h1M251.9 167.3h1M254.9 160.4h1M252.7 155.6h1M253.8 145.5h1M254.5 128.9h1M253.7 171.8h1M251.9 150.8h1M254 143.1h1M253.9 163.3h1M253.7 142h1M254 166.9h1M254.5 120.8h1M251.8 170.8h1M254.5 163.3h1M253.8 131.5h1M251.6 147.3h1M253.6 80.7h1M252.5 126h1M253.3 94.7h1M254 101.2h1M254 119.1h1M254 75.4h1M252.3 111.1h1M252.7 106.8h1M251.8 95.5h1M251.8 120.8h1M252.4 132.3h1M253.8 104h1M254.1 115.3h1M254.3 107h1M252.5 118h1M253.8 129.7h1M254.2 100.6h1M253.7 107.1h1M254.2 129.5h1M252.1 135.7h1M251.3 206h1M254.9 206.8h1M252.7 227.9h1M254.8 210.7h1M254.5 216.6h1M253.9 219.4h1M253.6 227.8h1M253.8 224.4h1M251.2 222.7h1M252 218.8h1M251.1 217.4h1M251.9 219.2h1M253.4 220.9h1M252.9 211.9h1M252.2 219.3h1M253.9 215h1M251.6 223.7h1M252.1 212.8h1M253.2 211.5h1M252.4 227.2h1M254.2 207.4h1M254.9 214h1M254.1 205.9h1M253 208.8h1M252.2 208.3h1M254.8 207.1h1M254.7 210h1M253.7 213.3h1M253.8 226.7h1M254.5 227.3h1M259.4 179.3h1M257.6 208.2h1M260 200h1M258.8 197.6h1M259.5 203.7h1M258.9 176.8h1M258.7 200.8h1M256.7 172.8h1M258.4 190.5h1M256.7 181.5h1M256.9 187.9h1M259.2 203.6h1M259.4 188.7h1M258.3 192.7h1M258.8 157.9h1M259.6 203.6h1M259.2 180.4h1M259.3 164.2h1M257.9 197.6h1M257 186.5h1M258.9 198.7h1M259.6 203.2h1M259.6 193.4h1M258.8 167.9h1M257.6 184.4h1M257.6 178.8h1M257.1 194.3h1M260.3 199.6h1M258.1 208.2h1M256.8 201.2h1M256.7 153.3h1M256.6 175.1h1M256.4 199.1h1M257.7 196.5h1M257.8 195.7h1M257.3 193.4h1M258.7 209.4h1M259.4 190.4h1M256.7 188.6h1M259.7 191.4h1M259.9 201h1M257.3 188.8h1M259.3 207.2h1M256.6 186.4h1M258.9 191.2h1M258 153.4h1M260 174.5h1M257.4 198h1M256.3 198h1M259 197h1M257.6 199.5h1M258 190.6h1M259.3 207h1M260 208.3h1M256.9 190.5h1M259.8 186.6h1M260.1 167.3h1M259.6 174.2h1M259.8 197.4h1M257.1 188.9h1M260.2 171.6h1M260.5 188.9h1M258.2 193.1h1M258.1 189.8h1M258 196.1h1M259.9 198.7h1M258.6 186.5h1M256.5 197.9h1M258.9 191.5h1M257.9 189.5h1M257 172.7h1M259.5 195.4h1M259.3 200.5h1M258 177.5h1M257.6 193.4h1M256.6 190.2h1M257.2 202h1M257.8 189.2h1M259.7 141.6h1M257.6 187.4h1M258.4 161.9h1M257.6 190.7h1M259.6 196.2h1M258.2 207.3h1M259.6 182.6h1M260.4 195.5h1M259.1 181.2h1M259.1 187.4h1M260.2 187.7h1M260.4 187.3h1M259.4 185.3h1M258.1 191.9h1M259.3 196.3h1M257.9 180.5h1M256.5 187.8h1M258 186.5h1M260.3 192.1h1M260 203.3h1M258.4 174.5h1M259.2 198.4h1M258.6 194.5h1M258.2 195.1h1M258.4 202.1h1M258.8 189h1M260.5 192.3h1M259.4 181.9h1M259.6 193.9h1M257.8 156.8h1M256.3 191.3h1M257.3 180.2h1M258.8 146.5h1M260.4 204.3h1M260.4 170.6h1M257.4 183.9h1M258.8 145.4h1M260.2 184.9h1M258.7 161.5h1M259.9 175.2h1M258.9 190.7h1M257.7 186.5h1M256.7 185.1h1M258.8 182.7h1M257.1 188.5h1M259.7 194.8h1M257.1 188.9h1M259.5 167.9h1M257.7 194.1h1M259.1 192.2h1M257.9 189h1M256.4 182h1M257.5 183h1M259.7 187.1h1M259.4 177.8h1M259.7 196.8h1M259.2 179.3h1M260 191h1M259.8 189.6h1M259.5 193.2h1M256.6 192.5h1M256.3 191.6h1M256.7 203.1h1M259.8 194.9h1M258.7 195.1h1M257.4 185.4h1M259.6 187.5h1M256.7 179.7h1M259.1 188.9h1M259.1 181.7h1M256.4 195.7h1M260.2 186.1h1M259 193h1M259.8 192.2h1M257 179.5h1M258.2 145.1h1M258.3 211.2h1M259.4 174.4h1M258.2 191.3h1M258.2 198.7h1M257 193.5h1M260.4 181.2h1M260.4 182h1M257.7 192.8h1M258.3 188.6h1M258.1 201.8h1M257.3 170.7h1M260.1 186.1h1M259.8 196.1h1M258.7 196.6h1M259.3 201.4h1M257.2 202.7h1M259.5 172.1h1M259.4 202.6h1M259.3 185.7h1M259.9 130.4h1M260 191.8h1M260.5 177h1M257.5 191.8h1M258.6 195.9h1M258.7 175.8h1M260.2 188.8h1M257.1 198.5h1M259.7 208.5h1M259 187.5h1M257.3 178.5h1M256.8 163.4h1M259 187.9h1M260.1 175.1h1M258 179h1M260.1 180.9h1M258.3 152.5h1M256.4 190.2h1M257.2 198.2h1M256.9 204.5h1M256.9 200.6h1M257.8 192.4h1M259.4 178.6h1M259 201.5h1M260.1 169.6h1M257.9 210.5h1M258.6 204.4h1M257.8 168.1h1M259.7 157.5h1M257.8 151.1h1M257.7 157.7h1M260.2 148.4h1M259.1 162.3h1M258.2 153.2h1M260.1 148.9h1M257.6 155.5h1M258 132.9h1M257.7 155.3h1M257.5 168.5h1M257.6 164.9h1M258.5 164h1M257.1 141.5h1M257.5 166.6h1M257.1 163.9h1M256.8 99.3h1M258 110.8h1M260.1 114.7h1M256.6 129.6h1M256.6 143.8h1M256.9 158.7h1M259.4 150h1M259.3 157.2h1M259.3 173.1h1M258.7 139.9h1M257.5 170.3h1M257.4 153h1M259.5 145.8h1M257.1 143.5h1M257.6 156.1h1M258 150.7h1M256.5 159.2h1M256.9 155h1M260.2 158.1h1M257.4 163.7h1M259.1 110.6h1M258.7 169.6h1M259.2 155.2h1M257.4 147.6h1M257.5 156.3h1M258.1 160.8h1M257.3 147.3h1M257.8 102.5h1M259.8 146.8h1M257.2 161.7h1M257.4 164.3h1M258.8 156h1M259.1 172.9h1M258.9 159.4h1M259.2 146.8h1M256.8 156.8h1M257 135.6h1M259.2 169.1h1M259.2 147h1M258.1 167.8h1M259.9 135.1h1M259.6 159.7h1M257.8 148.7h1M260.2 154.8h1M257.2 146.1h1M258.9 170.4h1M258.3 162.2h1M257.9 150.5h1M258.7 170h1M257 158.1h1M258.4 149.8h1M257.7 148.1h1M259.5 172.6h1M260.1 170.4h1M257.9 143.5h1M258.4 140.7h1M259.4 155.5h1M258.4 159.6h1M258.3 97.4h1M257.5 82.4h1M257.7 115.1h1M257.9 100.9h1M259.6 113.3h1M257.9 84.2h1M258.8 131.8h1M258.6 85.7h1M258.7 136.5h1M258.6 67.8h1M258 79.5h1M257.7 106h1M259.1 70.8h1M258.4 91.3h1M259.7 113.8h1M258.6 137.1h1M259.2 112.5h1M258.6 52.3h1M257.6 74.7h1M258.2 50.3h1M256.6 208.8h1M259.1 221.6h1M256.5 225.3h1M259.1 221.7h1M257.2 209h1M259.8 215.4h1M258.9 211.4h1M257.3 217.8h1M258.6 222.9h1M259.1 222.2h1M258.8 223.5h1M259.1 224.4h1M259.9 208.5h1M260 219.5h1M258 226.1h1M258 222.6h1M257.8 228.1h1M259.3 215.3h1M260 218.9h1M259.3 213.5h1M257.8 209.6h1M258.3 211.3h1M259 222.6h1M256.7 212.7h1M260.1 212.5h1M260.1 228.6h1M260 219.3h1M258.2 220.1h1M257.6 213.9h1M259 223.9h1M263.1 195.2h1M265.4 177.3h1M264.8 187.7h1M264.2 177.7h1M262.4 176.1h1M264.4 170.8h1M264.8 211.5h1M264.5 196.9h1M265.3 183.6h1M265.9 190.2h1M265.5 196.3h1M262.4 192.7h1M262.2 197.1h1M265.8 185.9h1M262.4 202.8h1M265.2 195.7h1M264.9 180.5h1M262.8 191.5h1M263.3 202.1h1M264.2 170.6h1M263.9 173.5h1M264.3 184.4h1M262.1 194.2h1M263.8 190.1h1M265.1 165.4h1M263.3 187.5h1M262.9 175.4h1M263.4 194.5h1M265 198.8h1M263.8 168.7h1M263.4 179.7h1M262.2 196.3h1M264.7 186.5h1M262.5 193.7h1M264.3 179.7h1M261.8 194.8h1M263.5 203.3h1M264.8 195.9h1M263.4 185.2h1M262.7 180.1h1M265.3 200.4h1M263.2 176.5h1M262.1 185h1M265.6 196h1M265.5 197.1h1M264.5 180.3h1M264.6 187.3h1M265.8 188h1M265.6 175.9h1M265.7 200.9h1M264.4 171h1M264.1 209h1M264.5 171.7h1M262.1 185.8h1M261.9 191.9h1M264.7 195h1M263.3 135.8h1M263.7 199.4h1M263.1 197h1M262.2 164.8h1M264.2 198.2h1M262.2 175.7h1M261.9 194.2h1M264 200h1M264.5 192.4h1M264.2 203h1M264.1 181.8h1M262.8 197.5h1M264.5 190.4h1M261.9 183.4h1M263.6 191.8h1M262.8 154.9h1M264.2 198.1h1M262.2 161.7h1M265.6 177.7h1M263.1 195.9h1M262.2 179.6h1M261.8 194.7h1M263.6 181.9h1M264 176.9h1M262.2 204.7h1M263.6 198.1h1M265.4 186.7h1M263.6 183.7h1M263.5 171.2h1M265.2 152.8h1M262.6 175h1M265.3 178.8h1M263 199h1M263.3 131.3h1M261.8 173.7h1M265.2 187.3h1M265.7 176.2h1M262.2 190.5h1M265.8 182.4h1M263 195.8h1M263.8 188.4h1M264.9 199.3h1M263.5 199.5h1M264.2 177.3h1M262.1 203.2h1M265.3 193.6h1M265.3 178.7h1M262.2 194.9h1M261.7 204.6h1M262.9 174.9h1M265.8 182.2h1M263 171.4h1M262.4 177.7h1M263.7 179.1h1M263.7 206.7h1M264.8 173.9h1M265.4 175.8h1M262.5 178h1M265.5 206.1h1M264 180.5h1M264.7 184.1h1M264.7 199.5h1M263.4 201.2h1M264.1 177.8h1M264.7 186.5h1M265.3 201.1h1M264.3 179.1h1M262.1 200.7h1M263.2 187.7h1M263.6 170.9h1M264.4 191.9h1M262.7 187.5h1M263.9 172.8h1M264.9 207.2h1M263.2 190.7h1M263.4 168.7h1M262.4 190.5h1M264.2 175.4h1M262.8 188.3h1M262.2 178h1M262.6 177.2h1M263.1 205.8h1M264.6 189.3h1M265 192.4h1M264.4 182.5h1M263.8 199.8h1M262 204h1M264.4 178.7h1M261.8 174h1M264.2 192.6h1M265.2 210.1h1M261.8 206.3h1M263.9 188.1h1M265.5 189.8h1M263.4 207.1h1M265.5 162.8h1M265.6 182.5h1M264.5 187.6h1M265.5 191.6h1M264.2 194.8h1M263.3 168.2h1M262.4 184.1h1M264.8 192.2h1M265.3 188.1h1M262.5 202h1M265.2 189.5h1M262.9 185.6h1M264 199.5h1M262.8 198h1M263.6 168.5h1M263.1 169.6h1M264.8 193.3h1M263.1 190.5h1M261.9 193.9h1M264.7 179.3h1M263.7 199.7h1M265.3 205.5h1M265.1 200.9h1M263 179.3h1M261.9 199.9h1M265.7 187.2h1M261.7 174.3h1M265.5 204.5h1M263.3 164.2h1M262 162.8h1M265.1 189.4h1M262.2 192.3h1M262.2 187.6h1M264.6 192.9h1M262.2 202.8h1M264 200.8h1M265.2 172.6h1M264.6 204.8h1M263.7 182.6h1M264.2 201.5h1M262.8 185.8h1M265.2 196.4h1M265 188.9h1M265.8 182.4h1M263.8 186.8h1M264.1 186.7h1M263.7 198.7h1M262.1 201.8h1M265.8 197.9h1M263.8 151.9h1M264.2 151.8h1M264.4 144.6h1M262.6 159.8h1M263.5 162.1h1M262.2 156.7h1M262.1 124.4h1M262.1 172.8h1M262.9 164.4h1M264.1 150.9h1M264.7 155h1M263.6 156.4h1M263.3 164.6h1M265.1 161h1M262.7 144.4h1M263.4 167.8h1M265.7 164.5h1M265.6 165.4h1M262.7 164h1M265.6 142.1h1M265.2 162.7h1M264.1 138.3h1M265 122.2h1M264.6 160.6h1M265.6 141.2h1M262.2 154.4h1M264.6 146h1M265.5 133h1M265.2 133.2h1M264.3 147.1h1M264.8 152.9h1M262.6 165h1M261.9 163.5h1M264.1 145.3h1M265.2 170.3h1M264.3 165h1M263.2 153.1h1M264.1 171.9h1M264 148.3h1M265 125.5h1M262.9 127.9h1M262.8 141.8h1M262.5 162.4h1M265 144.6h1M264 157.7h1M262 146h1M263.1 172.9h1M262.2 168.9h1M265.2 138.4h1M264.7 138.8h1M263.1 140.2h1M263.5 171.3h1M262.1 149.7h1M265.1 160.6h1M262.1 138.2h1M265 164.9h1M263.7 157.1h1M264.7 164.2h1M264.1 140.8h1M264 136.8h1M264.3 149.1h1M265.4 129.5h1M264 151h1M262.3 135h1M263.2 140.1h1M264.8 156.4h1M264.1 145.4h1M263.2 134.1h1M264.4 157h1M264.7 170.1h1M261.9 146h1M264.5 143.9h1M262.3 146.9h1M264.6 138.8h1M265.5 169.3h1M263 127.9h1M262.5 65.2h1M262.5 90.8h1M264.1 69h1M262.8 128.6h1M263.2 102.2h1M264 85.2h1M262.4 103.5h1M264.8 133.8h1M265 119.1h1M262.8 92.4h1M262.6 76.1h1M264 112.8h1M262.6 99h1M263.1 66.7h1M262.9 31.7h1M263.2 121.7h1M264.8 49.4h1M263 49.2h1M263.9 95.4h1M265.4 216.9h1M263.8 211.1h1M265.7 226h1M265 206h1M264.7 211.6h1M264.7 207.2h1M263.9 215.7h1M262.1 215h1M262.2 214.8h1M262.3 208.9h1M264.7 222.8h1M262.6 225.7h1M265.4 217.8h1M262.2 206.3h1M262.5 229h1M264.3 210.6h1M263.8 209.6h1M265 219.3h1M265 220.6h1M262.3 215.7h1M263.7 228.7h1M265.6 221.5h1M263.7 228.2h1M263.1 211.7h1M263.3 213.3h1M262.2 224.2h1M264.4 215.5h1M263.2 216.3h1M262.5 227h1M263.3 208.9h1M268.1 195.3h1M267.3 194.1h1M268.9 177.9h1M267.7 190.2h1M268.7 211.8h1M267.1 174.2h1M268.5 202.1h1M267.2 178.7h1M270.8 195.1h1M271.2 200.3h1M270.2 203.4h1M267.4 201.4h1M270.4 204.1h1M269.5 200.8h1M270.5 190.3h1M268 207.3h1M267.7 151.6h1M268.3 192h1M267.7 173.4h1M268.9 180.3h1M268.4 198.7h1M267.5 173.3h1M268.7 149.1h1M269.8 189.3h1M269.3 184.8h1M269.7 187.3h1M270.8 179.2h1M271.2 193.8h1M267.4 199.9h1M269.9 175.5h1M269.6 181.9h1M268.5 207.4h1M269.7 179.8h1M267.2 177.4h1M269.6 199.8h1M270.7 158.9h1M268.1 176.1h1M269.8 177.8h1M270.8 166.6h1M270.3 193h1M269.9 182.5h1M269.8 157.4h1M270.3 183.1h1M270.7 192.9h1M269.2 168.1h1M268.9 189.1h1M269.3 192h1M270.7 184h1M269.5 189h1M268.5 191.8h1M268.8 166h1M268.2 201.9h1M267.8 173.4h1M270.3 186.9h1M267.4 202.3h1M267.6 190.5h1M267.6 186.6h1M268.4 181.6h1M268.8 202h1M269.2 193.5h1M269.8 174.8h1M267.2 184.6h1M271.2 201.9h1M270.9 208.2h1M267.4 193.8h1M267.3 177.9h1M267.2 196.4h1M270.1 200.5h1M268.8 177.8h1M268.5 202.3h1M271.2 178.7h1M270.6 186.5h1M267.2 174.6h1M268 159.6h1M270.5 194.8h1M270.4 183.2h1M269.8 186.8h1M270.9 203.8h1M271.3 182.3h1M267.1 204.2h1M270.2 201.6h1M267.6 182.6h1M269.7 202.4h1M270.4 184.6h1M268 211.9h1M270.7 182.4h1M270.9 205.1h1M270.6 199.1h1M267.9 179.4h1M268.9 198.4h1M270 202.9h1M271 188.1h1M268.1 182.2h1M268.6 187.5h1M267.9 190.9h1M267.9 187.6h1M270.6 198.7h1M267.1 192.7h1M270.4 192.7h1M268 199.8h1M267.7 180.9h1M270.8 193h1M268.9 197.8h1M270.9 205.5h1M270.3 163.7h1M271 201h1M267.7 172.7h1M269.8 163.5h1M268.2 191.2h1M267.6 174.3h1M268.7 208.8h1M267.8 193.9h1M267.5 185.8h1M267.3 197.9h1M270 198.6h1M269.4 211.4h1M271.2 194.8h1M269.7 205.9h1M269.8 141.2h1M268.8 107h1M268.8 160.3h1M268.8 203.1h1M269.9 167.4h1M269.7 152.3h1M271 184.8h1M270.5 161.9h1M269.8 194.5h1M267.3 188.1h1M271 200h1M270.2 183.2h1M269.8 175.9h1M268.1 176.4h1M270.1 193h1M269.5 191.5h1M268.4 155.3h1M267.3 201.3h1M270.2 198.8h1M268.4 203.2h1M269.6 205.1h1M268.2 174.2h1M268.3 170.7h1M271 173.4h1M268 181.3h1M267.2 199.8h1M267.4 205.4h1M268.9 194.1h1M269.6 198.6h1M269 177.5h1M270.2 192.5h1M269.1 197.4h1M270.9 202.4h1M271.2 197.8h1M269.3 163h1M269.8 187.7h1M268.8 188.2h1M268.8 172.8h1M269 178.8h1M267.3 194.7h1M268.7 194.1h1M267.7 179.9h1M269 192.5h1M269 176.3h1M269.1 199.9h1M268.8 201.5h1M268.6 204.6h1M271.2 191.3h1M267.7 179.6h1M268 207.4h1M269 204.9h1M270.5 203.9h1M271.2 190.4h1M270.9 190.2h1M267.9 203.6h1M269.8 169.3h1M270.6 196.9h1M267.6 198.4h1M270.1 181.6h1M267.2 171h1M269.3 193.4h1M269.2 197h1M270.3 190.8h1M268.4 200.8h1M267.8 176.2h1M268.4 193.2h1M268.5 165.9h1M267.5 196.1h1M267.6 196.6h1M268.6 204.8h1M271.1 181.7h1M269.6 203.1h1M270.1 181.5h1M271.3 173.1h1M270.6 192.1h1M270.1 182.1h1M271.1 178h1M268.9 177.2h1M271.2 194.8h1M268.6 191h1M271 198.8h1M268.8 192.4h1M270.4 147.1h1M269.2 137.2h1M268.6 153.6h1M269.1 140.6h1M269.8 143.7h1M268.8 162.7h1M267.9 150.1h1M270.2 129.8h1M270.2 161.5h1M267.4 153.1h1M270.5 156.3h1M269.4 170.5h1M268.6 117.8h1M270.9 160.4h1M269.1 171.5h1M270.3 144.8h1M268.6 156.5h1M269.9 167.6h1M267.8 140.7h1M270.5 157h1M268.4 130.2h1M270.2 167.6h1M270 150h1M269.3 151h1M269.6 159.1h1M269 145.4h1M270.9 169.4h1M270.8 157.8h1M269.4 162.6h1M270.4 161.7h1M268.6 111.2h1M268.8 136h1M268.2 153h1M268.2 136.3h1M268.5 160.2h1M270.5 166h1M270.6 172.4h1M270.7 156h1M269.6 150.7h1M270.2 143.9h1M269.9 166.2h1M267.9 162h1M268 168.7h1M269.2 164.5h1M268.7 163.2h1M267.8 152.7h1M268.5 165.8h1M267.3 153.7h1M267.7 173.1h1M268.1 158.7h1M270.8 158.1h1M269.4 148.4h1M269.9 141.6h1M268.1 171.6h1M269.8 171.3h1M269.2 138.4h1M267.8 130.6h1M267.7 154.6h1M268.5 150.8h1M270.9 136.6h1M269.7 168h1M269.4 155.3h1M267.7 163.2h1M268.6 171.4h1M269.7 132.9h1M269.4 166.8h1M270.8 171.9h1M269 159.1h1M269.3 165.5h1M270.7 147.3h1M267.6 154.3h1M270.6 170h1M268.1 159.2h1M270.6 137.8h1M267.4 135.3h1M270 110.6h1M270 93.3h1M268.5 115.3h1M270.3 90h1M269.2 86.2h1M267.8 87.1h1M268.3 88.2h1M269 129.1h1M268.5 102.4h1M270.1 129.1h1M269 107h1M269.6 95.6h1M268.9 87h1M268 131.8h1M268.7 101.8h1M269.3 137.9h1M270.3 105.2h1M268.7 123.6h1M269.7 86.9h1M268.8 132h1M270 225.1h1M269.1 213.4h1M269.2 228.3h1M269.2 223.5h1M267.5 224.1h1M269.6 208.4h1M269.7 210h1M271 228.6h1M267.4 223.6h1M267.6 222.4h1M269.9 219.9h1M269.1 217.4h1M269.1 206.2h1M269.9 206.9h1M270.5 219.6h1M268 224.4h1M268.6 208h1M269.8 218.5h1M269.4 207.6h1M269.9 206.7h1M269.6 214.5h1M270.6 223.4h1M270.7 224.1h1M268.6 212.2h1M270.3 225.8h1M270.5 213.5h1M267.9 225.1h1M269.2 224.9h1M268.7 211.5h1M269.1 226.9h1M274.3 188.4h1M274.6 168.2h1M273.8 213.4h1M272.6 189h1M273.2 188h1M275.9 189h1M276.1 174h1M276.6 177h1M276.5 202.1h1M276.6 191.4h1M276.6 174.7h1M275.8 194.8h1M272.8 180.5h1M275.8 179.7h1M275 190.8h1M273.6 208.6h1M275.4 183.7h1M275.1 186.9h1M275.2 160.1h1M275.2 185.3h1M275.9 201.3h1M272.7 170.8h1M274.4 198.3h1M273.2 169.9h1M275.7 200.1h1M273.1 189.6h1M274.8 195.5h1M276 189.1h1M276.3 186.9h1M276.5 178.8h1M272.8 191.8h1M274.6 188.4h1M276.6 199.9h1M275.6 191h1M274.2 199.9h1M276.6 193.6h1M272.7 190.4h1M275.4 178.4h1M275.6 189.2h1M274.6 180.3h1M276.4 181.7h1M273.9 188h1M273.2 181.2h1M272.9 149.7h1M275.3 198.1h1M276 193.3h1M273.7 184.1h1M275.9 178.4h1M273.2 188.8h1M275.7 168.3h1M275.9 190h1M273.1 188.3h1M276.1 205.1h1M276.4 177.3h1M275.7 183h1M275.2 193h1M273 135.4h1M276.3 199.1h1M272.8 192.9h1M275.1 197.6h1M273.1 191.1h1M274.9 177h1M274.3 160.9h1M275 184.6h1M273.7 188h1M276.2 182.7h1M276.4 196.1h1M274.3 172h1M275.2 187.5h1M276.2 186h1M274.3 190.5h1M273.8 201.1h1M272.9 172h1M276.6 185.3h1M273.1 188.7h1M276.3 192.9h1M273.4 201h1M274.4 184h1M272.6 181.6h1M275.2 200.2h1M275.7 181.3h1M276 184h1M276.6 196.6h1M275.5 178.4h1M273.3 193.5h1M273.7 178.4h1M273.2 200.6h1M273 181.8h1M276.2 190.8h1M275.6 187.4h1M276.3 191.5h1M276.2 186h1M273 194.7h1M276 181.1h1M274.4 177h1M276.3 188.2h1M275.5 190.8h1M273 181.7h1M274.5 192.6h1M275.2 183.2h1M276.2 166.5h1M276.6 189.7h1M275.3 169.2h1M274.4 189h1M275.3 152.5h1M276.6 197.2h1M275.9 165.4h1M273.1 198.7h1M274.8 194.5h1M273.4 190.5h1M274 152.8h1M274.8 205.2h1M273.2 168h1M274.9 179.7h1M275 188.6h1M273.7 204.3h1M274.5 194.5h1M275.7 149.2h1M273.6 195.5h1M272.8 141.7h1M272.7 194h1M274.5 191.2h1M274.8 153.6h1M275.1 189.5h1M276.1 181.8h1M272.6 197.5h1M273.9 205.4h1M274.7 150.3h1M274.6 196.5h1M276.6 185h1M275.6 195.7h1M275.1 196.9h1M276.4 199.4h1M273.9 202.1h1M276.1 184.6h1M273.4 200.7h1M276.5 185.2h1M274.2 160.7h1M273.3 192.7h1M275.1 181.7h1M275.1 186.9h1M276.3 180.9h1M276.3 194.4h1M273.6 182.9h1M274.5 204.1h1M275.9 182.8h1M276 200.2h1M275.1 191.2h1M272.6 197.2h1M273.2 186.5h1M274.1 184.7h1M274.3 186.6h1M273.3 175.5h1M273.2 172.3h1M276.3 135.5h1M276 201.7h1M272.9 180.1h1M272.8 175.6h1M273.7 196.8h1M276.1 185.6h1M276.1 199.7h1M275.6 176.4h1M275.7 201.6h1M272.9 159.1h1M276.5 206.9h1M275.2 173.8h1M276.1 190.4h1M276 187.6h1M273.5 195h1M276 192h1M273.7 199.1h1M274 176.4h1M273 180.4h1M275.2 139.4h1M275.9 194.6h1M274.5 197.3h1M273.2 197.7h1M274.8 157h1M274.9 186.1h1M275.8 205.7h1M275.4 181.2h1M276 188.8h1M276.3 207.1h1M275.7 198.8h1M274.1 190.1h1M276.4 184.6h1M272.6 186.5h1M276.4 173.8h1M274 195.3h1M273.5 200.8h1M275.1 188.8h1M272.9 197.6h1M275.7 175.7h1M273.7 162.5h1M272.6 186.8h1M274.5 209.5h1M272.8 188.3h1M276.7 201.9h1M272.8 171.7h1M274.3 194.3h1M275.9 169.4h1M274.2 149.8h1M275.4 147.9h1M276.2 148.9h1M274.7 153.9h1M274.1 163.8h1M276.2 156h1M276.2 167.1h1M275.6 169.8h1M276.1 149.8h1M273.2 142.6h1M276.3 169.5h1M273.5 168.1h1M275.1 155.4h1M275.9 150.8h1M273.6 121.1h1M272.8 170.9h1M274.8 168.4h1M276.1 156.5h1M273 158.5h1M274.9 144.9h1M272.8 162.3h1M273.5 136h1M276.2 143.2h1M276.2 160.6h1M275.5 171h1M274.4 146.5h1M274.8 157.5h1M273.5 143.2h1M275.2 157.1h1M275.6 153.8h1M273.2 169.2h1M273.9 172h1M273.4 156.6h1M275.4 161h1M274.4 157.5h1M274.6 155.4h1M273.9 147.8h1M272.8 150.2h1M275.8 167.9h1M275 171h1M274.7 156.2h1M274.9 158.9h1M273 171.9h1M274.2 162h1M273.2 163.3h1M274.3 141.4h1M276.4 146.2h1M274.3 157.9h1M273.7 144.4h1M274.4 160.6h1M274.4 155.9h1M275 167.5h1M276.1 151.8h1M274.7 142.6h1M275.8 164.2h1M275.2 116.7h1M273 149.9h1M273.1 163.3h1M273.6 155.1h1M273.2 172.3h1M274.8 169.4h1M274.6 162.6h1M274.1 167.5h1M274 124.3h1M274.2 147.8h1M276.1 157.1h1M276 153.5h1M274.8 163.9h1M274.1 157.6h1M274.5 172.2h1M272.7 146.6h1M273.2 139.1h1M273.6 167.6h1M275.9 151.6h1M273.6 76.5h1M273.8 128.6h1M273.5 123.8h1M275.7 136.4h1M274.9 112.2h1M275.8 75h1M274.5 85.4h1M273.7 104.5h1M275.9 115.3h1M275.9 137.1h1M275.3 125.3h1M275.8 113.2h1M274.8 112.2h1M274.6 128.1h1M275.1 129h1M273.3 96.1h1M275.7 133h1M273.5 96.8h1M273.9 136.6h1M273.8 71.1h1M275.8 208.9h1M274.6 228.1h1M272.7 224.8h1M274.6 208.9h1M273.3 228.7h1M275.6 221.4h1M274.1 210.6h1M274.2 220.5h1M273.8 220.6h1M273.2 216.5h1M273 211.3h1M274.6 205.9h1M274.4 217.3h1M273.2 224.7h1M273.6 227.8h1M274.6 227.2h1M272.8 212.3h1M273.9 211.3h1M274.4 206.2h1M272.8 220.9h1M273.8 210.3h1M272.7 216.7h1M273.1 213.4h1M272.7 226h1M275.3 222h1M272.8 220.5h1M275.2 206h1M275.3 211.1h1M276.2 225.2h1M275.2 209.7h1M281.9 200.5h1M279.3 181.5h1M279.7 163.4h1M278.7 192.2h1M280 194.8h1M278.5 206.8h1M281.6 203.8h1M280.2 181.8h1M281.1 202.3h1M279.8 197h1M279 184.5h1M280.8 188.1h1M281.9 207.5h1M279.1 204.7h1M281.3 177.5h1M281 202.8h1M281.3 208.1h1M278.5 193h1M278.5 166.2h1M277.9 196h1M279.5 200.2h1M281.7 165.9h1M280 166.3h1M280.2 185.9h1M279.1 197.6h1M278.6 193.6h1M278.4 200.6h1M281.7 179.7h1M279 193.3h1M278.3 192.9h1M279.6 196.2h1M279.3 198.6h1M278.3 169.2h1M278.9 164.1h1M278.1 207.5h1M280.2 203.8h1M281.1 193.7h1M280.4 204.9h1M279.1 168.7h1M280.9 196.5h1M278.5 179.2h1M278 177.9h1M279.1 203.9h1M278.6 204.1h1M280.3 196.5h1M280.5 203.3h1M281.9 173.2h1M279.3 186.1h1M278.6 180.6h1M278.7 193.9h1M281 207.2h1M281.2 187.4h1M281.4 206.1h1M279 204.6h1M279.2 187.9h1M278.5 187.6h1M280.3 198h1M278.2 191.7h1M281.3 189h1M280.5 176.6h1M281.6 165.1h1M279.8 196.8h1M281.8 187.6h1M280.9 179.8h1M281.2 206.3h1M278 195.6h1M279.6 186.1h1M278.4 185.3h1M281 192.4h1M280.8 200.7h1M279.8 199.2h1M278.3 153.1h1M279 193.7h1M280.9 185.9h1M281.4 151h1M279.9 186.1h1M279.9 197.6h1M278.5 203.9h1M279.2 173.8h1M282 202.8h1M278.5 189.9h1M281.5 194h1M278.8 191.2h1M279.7 199.7h1M278.7 194.1h1M278.4 171.7h1M280 163.7h1M278.4 182.7h1M279.3 195.9h1M281 183.1h1M280.1 201.4h1M280.6 167.5h1M281.9 170.5h1M278.7 191.3h1M278 197.2h1M281 204.5h1M280.6 201.6h1M281.2 179.7h1M281.8 172.8h1M280.5 185.1h1M279.2 199.9h1M278.1 185.5h1M278.8 126.2h1M280.8 166.2h1M279.1 188.4h1M280.8 168.5h1M280.9 155.7h1M279.9 191.5h1M279.2 199.2h1M281.4 201.1h1M278.6 186.7h1M280.7 173.2h1M279.8 165.5h1M281.3 178.2h1M280.3 194.6h1M278.4 211h1M278.2 190.8h1M278.4 201.2h1M281.8 203.6h1M279.4 176.8h1M279.5 160.3h1M279.6 194.9h1M282 184.7h1M278 191.9h1M281.2 179h1M281.4 200.5h1M280.2 204.7h1M279.8 200.8h1M279.7 186.8h1M279.3 200.4h1M280.5 206.5h1M278 198.2h1M280.2 171.8h1M278.3 182.7h1M279.1 185.5h1M278.8 186.1h1M278.3 194.5h1M279.2 203.4h1M279.6 204.5h1M279.4 188.5h1M280.8 184h1M281.4 188.7h1M281.1 190.8h1M278.4 202.7h1M280.4 188.2h1M279.9 193.6h1M281.1 203.2h1M280.3 175.7h1M278.2 193.1h1M277.9 191.8h1M278.7 197.3h1M278.9 182.7h1M280 183.5h1M281.7 186.8h1M278 198.7h1M280 204.6h1M278.3 153.2h1M279.1 195h1M278.5 189.9h1M278.9 180.3h1M281.9 179.9h1M281.5 180.5h1M278.9 184.9h1M280.2 208.9h1M278 191.3h1M280.9 176.3h1M280 195.6h1M279.4 183.3h1M280.5 177.5h1M278.8 133.9h1M282 171.1h1M278.8 164h1M278.6 199.3h1M280.6 192.7h1M280.4 194.5h1M280.2 167.4h1M281.9 193.8h1M278 187h1M281.8 180.8h1M280.1 177.2h1M278.8 192.1h1M280.5 184.4h1M281.5 139.3h1M281.9 191.6h1M280.6 190.3h1M277.9 184.4h1M279 207.6h1M278.8 191.2h1M280.4 187.5h1M279 169.2h1M279.7 183.8h1M278 201.6h1M278.5 199.5h1M281.5 186.1h1M278.7 183.5h1M281.1 196.8h1M281.5 210.1h1M280.6 190.1h1M280.4 196.8h1M281.4 173.3h1M279.4 166.2h1M281 148.7h1M278.2 166.1h1M281.3 150h1M278.3 139.7h1M278.1 119.1h1M281.5 161.3h1M281.7 152.8h1M279 155.5h1M280.3 154.3h1M279.9 168.1h1M281.2 154.4h1M280.8 140.3h1M278.9 164.3h1M278.9 148.1h1M278.6 159.9h1M280.2 140.6h1M279.7 170.7h1M279 150.5h1M280.5 138.9h1M281.2 168.8h1M278.6 155.9h1M280.3 173h1M279.4 153.9h1M278.6 127.9h1M280.6 165.8h1M281.5 165.4h1M279 170.4h1M280.5 166.6h1M281.2 109.6h1M281.2 134h1M280.9 167.3h1M280.8 159.6h1M280.8 156.5h1M279.4 168h1M281.5 163.8h1M279.8 167.3h1M281.3 134.6h1M278.5 163.4h1M280.3 162.5h1M278.5 112.8h1M278.7 163.7h1M280.6 171.7h1M279.7 168.5h1M279.4 145h1M281 139.5h1M278.7 123.6h1M280 171.8h1M280 140.8h1M278.8 166.3h1M279.6 168h1M280.1 160.1h1M280.3 171.4h1M280.1 169.1h1M278.4 164.1h1M279.1 166.5h1M278.4 165.4h1M278.3 164.8h1M280.1 143.9h1M281.2 162.8h1M279.8 163.4h1M281.1 157.4h1M278.2 143.5h1M278.2 163.9h1M279.8 163.7h1M279 161.3h1M278.7 158.1h1M281.4 166.3h1M279.4 152.5h1M279.9 151.3h1M279.2 156.1h1M281.8 152.9h1M278.1 169.2h1M279.9 163.8h1M281.8 166.3h1M281.3 124.2h1M279.4 34.1h1M278.8 33.6h1M279.9 102h1M280.1 66h1M280.3 133.5h1M280.8 103.2h1M281.2 90.1h1M280.3 37.1h1M279.7 86.9h1M280.7 108.4h1M280.6 80.1h1M279.9 107.2h1M279.8 57.3h1M279.9 115.5h1M280.4 76h1M279 122.1h1M281 89.4h1M280.9 114.6h1M280.5 110.1h1M278.1 223.6h1M281.4 206.3h1M281.4 219.2h1M280.3 228h1M278.6 215.7h1M279.6 229.2h1M279.6 216.3h1M278.4 217.6h1M280.5 222.8h1M279.3 215.7h1M278.2 211.8h1M279.3 228.9h1M280.2 229.3h1M280.9 206.8h1M280.1 228.3h1M281 209.9h1M278.8 209.6h1M280.1 215.1h1M281.2 226.7h1M279.9 226.5h1M279.2 219.8h1M279.9 227.1h1M281.7 228.5h1M278.7 224.9h1M280 217.1h1M278.9 208.4h1M280.8 208.1h1M280.7 222.1h1M281.7 206.7h1M279.9 210.6h1M283.4 198.3h1M286.8 192.3h1M284.3 179.3h1M285.1 191.7h1M286 206.1h1M285.4 179.3h1M286.8 202.2h1M286.8 194.1h1M286.8 202.6h1M285.2 204.6h1M286 152.5h1M283.8 212.4h1M286.8 181.3h1M286.5 165.3h1M283.6 151.8h1M286 190.2h1M286.1 185.4h1M285.2 174h1M284 179.1h1M284.4 212.3h1M283.9 168.6h1M285.7 195.5h1M283.3 198.2h1M285.4 193h1M287.1 205.1h1M287.1 156.7h1M287 201.8h1M286.9 163.4h1M287.4 180.7h1M287.2 192.2h1M285.8 146.7h1M284.7 198.8h1M284.7 197.9h1M284.8 183.8h1M286.1 204.1h1M284 190.2h1M286.8 197.1h1M286.5 183.3h1M284.2 182.7h1M285.5 197.9h1M285.3 209.8h1M286.5 182.2h1M284.8 145.8h1M285.1 208.5h1M284.7 196h1M286.4 207.6h1M283.9 192.6h1M286 208.5h1M287.3 187.5h1M284.1 194.5h1M285 200.9h1M285.3 192.8h1M283.3 199.7h1M285.4 186.9h1M284.3 193.9h1M283.8 193.1h1M285.6 193h1M286 193.9h1M286.5 192h1M283.6 193.6h1M285.4 201.7h1M283.5 200h1M283.5 182.2h1M285.6 202.1h1M284 194h1M286.6 189.3h1M284.4 184.9h1M283.8 188.5h1M285.2 157.3h1M283.8 162.7h1M284.7 202.8h1M286.9 192.4h1M285.5 166.7h1M284 187.8h1M285.5 196.2h1M284.2 200.4h1M287.4 198.5h1M286.5 183.2h1M286.3 202.7h1M286 198.3h1M286.2 194.1h1M285.5 190.4h1M284.5 185.8h1M283.4 170.5h1M287.2 207.6h1M283.6 207.2h1M285.7 166.2h1M283.5 186.3h1M287.3 191.2h1M286 199.9h1M284.3 172h1M287 178.2h1M284 187h1M285.4 187.3h1M285.7 147.7h1M285.6 191.4h1M286.7 181.1h1M285.5 183.3h1M285.8 170.3h1M284 196h1M286.6 164.1h1M284.3 183.3h1M285.2 199.2h1M285.9 197.5h1M286.4 203.9h1M283.3 201.3h1M284.1 191.4h1M287.1 207h1M285.6 195.8h1M286.7 198.7h1M284.6 193.9h1M283.8 192.6h1M285.4 200.3h1M285.7 189.3h1M285.7 188.6h1M286.8 202.2h1M286.9 154.2h1M284.9 197.3h1M284.8 153.4h1M284.3 190.5h1M284.9 152.8h1M287.1 188.8h1M285.9 193.2h1M284.1 200.6h1M287.3 193.1h1M284.5 187.6h1M284 170.1h1M283.7 205.6h1M283.8 192h1M285.8 196.4h1M284.8 191.5h1M284.5 164.6h1M287.1 174.4h1M287.2 180.5h1M284.6 202.3h1M284.8 191.3h1M284.8 200.6h1M286.2 185.2h1M287 195.7h1M285.8 197.7h1M286.2 208h1M284.7 194.6h1M286.5 154.5h1M287.2 200.8h1M285.4 204.9h1M285.9 190.9h1M286.8 179.5h1M286.2 188.5h1M285.5 176h1M283.8 168.7h1M286.1 182.1h1M285.6 172.6h1M284.1 187.5h1M287 194.8h1M287.4 183.7h1M285.7 156.4h1M287 195.4h1M283.5 178.6h1M286 189.8h1M284.7 201.9h1M285.2 178.1h1M286.9 192.3h1M283.8 189.3h1M283.8 183.2h1M285.3 160.8h1M285.2 169h1M283.7 191.8h1M286.3 191.2h1M284.5 209.5h1M284.3 205.9h1M286.7 205.8h1M284.4 158.9h1M286.2 193.4h1M283.5 183.5h1M286.8 202.4h1M284.3 183.9h1M285.3 200.5h1M287.1 157.6h1M286.4 204.4h1M285 195.7h1M283.9 192.2h1M286.7 207h1M287.4 204.6h1M286.3 182.3h1M284.6 187.4h1M285 181.8h1M285 185.3h1M287.2 174.6h1M284.9 202.6h1M287.2 176.1h1M285.7 210.9h1M285.7 166.8h1M286.5 178.8h1M285.6 178.9h1M285.9 200.9h1M283.4 197.6h1M286.9 187.8h1M285.7 186.3h1M286.1 190.9h1M285.3 198.7h1M284.6 131.9h1M284.2 116.8h1M284.5 153.3h1M286.9 152.6h1M283.8 166.2h1M285.9 168.3h1M284.4 152.4h1M284.3 164.6h1M286.5 159.5h1M284 127.3h1M284.7 134.5h1M286.6 164.5h1M285 159.6h1M285.1 155.1h1M287 128.1h1M285.5 171.5h1M286.1 149.8h1M284 146.4h1M284.8 140.5h1M284.9 172.7h1M286.2 112.8h1M284.9 166.2h1M287 114.9h1M284.2 123.6h1M287.2 162.3h1M284.9 162.6h1M285.1 171.5h1M284.6 143.4h1M285.9 138.6h1M286.2 153.1h1M284.7 168h1M284.7 170.4h1M286.5 172.3h1M285.3 161.1h1M284.3 164.8h1M284.5 166.7h1M284.4 169.5h1M286.5 140h1M286.9 157.1h1M283.9 154.4h1M286.3 155.7h1M285.9 127h1M287.1 162.5h1M284.3 170.8h1M284.3 159.2h1M285.7 172.2h1M285.9 141h1M286.6 173h1M286.2 135.6h1M283.8 144.9h1M286.5 169.6h1M286.1 133.5h1M286.4 162.7h1M285.4 152.4h1M285.6 166.3h1M283.7 156.7h1M283.5 139.1h1M284.9 172.2h1M285.1 139.3h1M284.8 161.6h1M286.6 157.4h1M286.2 121h1M284.7 150.4h1M283.9 136.6h1M285.6 155.3h1M285.3 166.3h1M286.5 165.9h1M285.6 129h1M284.3 153.1h1M286.6 131.8h1M287.1 157.6h1M287.2 129.6h1M284.5 146.6h1M286.3 135.7h1M284.4 113.3h1M284.6 94.1h1M285.5 108h1M286.1 94.7h1M286.3 77.6h1M284.5 84.1h1M284.1 119.6h1M285 132.9h1M285.8 126.4h1M285.1 54.9h1M286.6 67h1M285.9 46.3h1M286.4 113.7h1M286.1 68.5h1M284.4 112.6h1M284.4 106.7h1M284.5 47.9h1M286.2 88.5h1M284.2 84.6h1M284 86.1h1M285.2 67.4h1M287 212.7h1M284.9 217.8h1M286.6 224.4h1M286.8 210.7h1M284.5 210.5h1M285.2 224h1M284.9 210.8h1M284.2 211.8h1M284.8 218.4h1M284.7 211.2h1M284.1 208.9h1M287.2 216.8h1M284.8 225.4h1M285.1 219.9h1M285.9 209.7h1M284.9 214.8h1M285.1 226h1M285.4 211.3h1M283.8 214.5h1M286.7 209.6h1M283.5 221.9h1M284 226.5h1M287 227.1h1M284.9 207.8h1M286.3 208h1M285.2 221.9h1M286.3 227.8h1M285.2 224.1h1M286.6 226.1h1M286.2 219.5h1M289.2 177.1h1M290.4 167.9h1M290.3 200.9h1M290.5 143.8h1M289.3 197.1h1M292.2 158.1h1M291.3 179.7h1M289.2 191.4h1M292.5 195.6h1M289.1 194.2h1M288.8 196.7h1M288.7 196.2h1M289 178.2h1M290.6 205.9h1M292.7 183h1M292.7 185.3h1M289.6 198.2h1M291.9 187.2h1M290.8 197.6h1M290.7 190.8h1M292.6 186.8h1M291.3 206.6h1M289.4 179.9h1M289.8 190.5h1M290.4 203.6h1M290.3 191.5h1M290.1 181h1M288.7 204.5h1M292.7 180.8h1M289 172.4h1M289.5 192.9h1M292.2 165.3h1M290.3 188.7h1M288.8 199.4h1M290 185.4h1M290 164.5h1M288.8 197.7h1M291.9 194.5h1M290.3 173.9h1M289.4 188.2h1M290.4 186.9h1M290 185.8h1M290.1 176.6h1M290.1 199.9h1M292.3 193.2h1M292.4 173h1M289.6 152.9h1M292.7 174.2h1M290.4 191.2h1M289.9 184.6h1M290.4 175.7h1M290.3 196.2h1M292.8 183h1M291.9 200.1h1M289.8 184.6h1M289.3 184.4h1M291.8 184h1M292.6 196.3h1M291.1 199.6h1M292.8 186.5h1M291.5 196.2h1M292.4 176.8h1M289.2 188h1M292.4 197.5h1M289.5 172.3h1M292.4 173.1h1M290.6 163.8h1M290 142.4h1M291.4 175.6h1M289.1 188.6h1M289.7 170.9h1M291.1 173.5h1M289.7 174.4h1M291.7 185.8h1M292.1 178.5h1M290.8 184.5h1M290.9 196.9h1M289.2 183h1M291.9 190.4h1M291.4 187.8h1M291.7 179.3h1M289.9 189.2h1M289.4 200.9h1M291.1 166.8h1M289.6 184h1M292.7 188.3h1M292.4 166h1M291.1 193.7h1M289.7 183.3h1M290.3 188.3h1M291.6 192.6h1M292.2 185.5h1M289 204.3h1M290.6 186.7h1M289.8 186.6h1M291.5 200.1h1M290.8 184.6h1M289.2 200.1h1M289.4 186.9h1M289.5 198.5h1M290.3 205.9h1M289.3 175.8h1M291 196.8h1M292.7 187.3h1M292.1 183.6h1M289.1 145.4h1M290.8 172.9h1M289.8 178h1M292.6 175.2h1M291.1 176h1M289.2 196.1h1M289.3 177.9h1M288.7 205.9h1M292.4 184.6h1M292.3 188.4h1M290 177.4h1M289.9 192.8h1M290.1 188.1h1M291.9 162.8h1M290 152.4h1M292.4 188.1h1M289.8 189.2h1M291 173.2h1M288.8 183.2h1M292.1 193.6h1M292 195.4h1M292.8 193.2h1M289.6 199h1M288.9 182.6h1M290.5 160.4h1M290.6 200.1h1M290.7 192.7h1M292.5 193.3h1M292.5 183.6h1M289.2 197.8h1M290.8 195.2h1M289 173h1M292.7 187.3h1M290 208.4h1M292.4 196h1M291.3 190.7h1M290.6 159.6h1M292.6 204.3h1M289.6 197.3h1M289.5 194.3h1M288.9 192.3h1M289.2 164.9h1M290.3 204h1M292.8 194.7h1M289.9 164.3h1M290.2 182.3h1M288.9 182.7h1M288.9 204.2h1M292.5 202.2h1M289.9 173.8h1M290 198.3h1M291.8 189.9h1M290.6 172.7h1M292.1 194.5h1M291.9 181.3h1M290.5 189.9h1M292.5 204h1M289.8 197h1M289.7 190.2h1M289.7 204.4h1M291.4 192.8h1M292 165.6h1M289 211.3h1M288.9 207.1h1M292.3 195.6h1M291.8 212.9h1M292.3 199.1h1M289.3 199h1M292.1 205.3h1M289.3 175.5h1M291.9 196.9h1M291.3 200.1h1M288.8 190.2h1M288.9 199h1M289.7 202h1M292.4 167.3h1M290.5 196.5h1M292.8 195.5h1M291.9 180.6h1M290.2 178.3h1M290 179.3h1M290.6 173.6h1M292.4 198.2h1M289.7 169.3h1M292 207.3h1M290.4 206.8h1M289.9 163.7h1M291.3 199.2h1M289.4 191.7h1M291.2 185.4h1M292.2 196.4h1M291.5 190.1h1M291.4 173.2h1M292.7 188.9h1M292 185.1h1M290.4 161.9h1M289 150.9h1M292.6 144.4h1M291.6 138.7h1M290.4 146.4h1M290.9 170.4h1M291.1 157.8h1M289.3 137.2h1M289.3 169.2h1M289.2 171.9h1M289.1 145.1h1M290.4 167.2h1M289 138.6h1M292.1 169.3h1M290 172h1M290.2 162.8h1M291.1 170.5h1M290.9 154h1M289.9 158.1h1M292.4 144.1h1M291 158.9h1M291.8 157.8h1M289.4 150.7h1M292 150h1M289.9 128.7h1M289.7 140h1M290.1 162.1h1M291.4 152h1M292.2 165.7h1M289.8 137.1h1M292.4 134h1M292 122.3h1M291.5 169.6h1M291.6 166.2h1M289.9 130.3h1M290.5 165.1h1M288.9 163.9h1M291 171.8h1M291 156h1M292.2 159h1M289.7 164.5h1M291.2 149.2h1M290.3 164.5h1M289.6 153.2h1M289.2 164.4h1M291.2 136.1h1M290.9 169.8h1M291.3 168.7h1M288.9 160.1h1M292.1 162.8h1M290.3 164.1h1M290.1 163.9h1M290 158.9h1M289.1 134h1M289.4 156.1h1M291.4 169.9h1M290.8 163.5h1M289.7 85.9h1M289.7 152.7h1M290.2 142.1h1M291.3 169.5h1M289.5 111.7h1M289.2 173h1M291.9 156.1h1M290.1 150.4h1M292 149.6h1M290.3 135.2h1M291.3 165.8h1M289 142h1M290.4 145.5h1M291.7 164.8h1M292.3 143.7h1M291.9 156.9h1M291.9 138.5h1M290.7 166.5h1M291.7 89.3h1M290.8 84.2h1M290.8 83.4h1M290.4 130.7h1M290.5 86.5h1M289.9 114.5h1M291.5 120.7h1M289.7 90.5h1M290.5 134.6h1M289.7 138.9h1M291.4 139.8h1M292.1 105.5h1M291.4 117.1h1M289.5 133.2h1M289.6 105.4h1M291.4 121.9h1M291.2 124h1M291.3 84h1M289.8 125.7h1M290.9 132.5h1M292.2 222.3h1M290.4 214.1h1M292.4 214h1M291 219.2h1M292.1 209h1M289.5 218.8h1M290.6 206.3h1M292.3 207.7h1M290.8 205.8h1M289.9 215.3h1M292.4 216.4h1M289.1 212.8h1M292.4 224.7h1M291.1 222.4h1M292.3 222.6h1M290.1 209.3h1M291.3 212.2h1M289.9 227h1M291.6 214.4h1M291.1 216.5h1M289.7 222.6h1M290.4 215h1M291.8 228.7h1M292.5 207.3h1M290.3 214.6h1M290.6 215.5h1M290.6 213.1h1M292.1 226.9h1M291.4 221.7h1M289.5 222h1M294.4 173.9h1M295.7 186.6h1M295 198.9h1M294.6 199.1h1M297 193.8h1M295.9 197.9h1M296 168.5h1M295.3 169.2h1M295.4 151.6h1M295 183.1h1M295.5 200.8h1M298 194.2h1M296.3 169.5h1M297.3 180.9h1M296.8 193.7h1M297.9 189.9h1M294.3 189.8h1M294.1 191.1h1M294.6 192.8h1M296 193.7h1M295.2 182.8h1M297.6 195.2h1M297.1 183.4h1M295.6 177.5h1M294.3 198h1M296.4 201.9h1M297.7 199.7h1M295.7 200.1h1M294.6 202.5h1M295.4 208.2h1M298.2 199.6h1M295.6 192.3h1M297.4 204.6h1M294.3 181.6h1M295.1 189.6h1M297.2 200h1M297.4 194h1M296.6 162h1M295 188.6h1M295.4 190.3h1M296.5 194.6h1M295.5 171.1h1M297 177.5h1M294.5 174.3h1M295.8 174.7h1M297.3 181.8h1M294.8 175.5h1M295.3 197.8h1M295.3 166.2h1M294.1 196.4h1M297.3 193.9h1M297.5 194.8h1M297.9 180.5h1M296.5 199.6h1M297.5 178.9h1M297.7 184.7h1M296.7 181.8h1M294.8 192.6h1M297.5 199.1h1M294.6 184.2h1M297.7 206.8h1M296.9 202.1h1M297.1 172.5h1M297.3 197.7h1M294.3 189.9h1M296.1 187.8h1M295.9 199h1M294.8 187.2h1M297.9 205.2h1M298 188.7h1M294.5 199.1h1M295.1 209.6h1M297.6 191.2h1M297.4 171.7h1M296.7 195h1M295.4 182.6h1M297.9 203.8h1M297.6 152.5h1M295.8 171.5h1M295 192.6h1M295 174.9h1M297.3 203.6h1M296.4 191h1M295.8 204.3h1M297.6 193.4h1M295 165.5h1M295.9 190h1M295.5 208.7h1M295.6 162.9h1M297.8 183.7h1M296.6 167.7h1M298.2 179.4h1M297.7 165.2h1M295 197.2h1M296.7 195.6h1M297.2 204h1M294.7 190.4h1M298.2 202.7h1M298.1 179.3h1M296.6 199.1h1M297.3 199.3h1M295.9 201.4h1M296.5 204h1M295.5 199.4h1M296.6 200.1h1M295.4 157.9h1M294.9 194.7h1M298.1 194.5h1M294.1 198h1M297.1 183.4h1M296.9 195.2h1M298.2 187.9h1M294.7 172.1h1M296.4 200h1M294.3 192.4h1M297 190.7h1M294.9 197.6h1M295.5 207.2h1M297.9 186.2h1M295 195.1h1M295.5 198.8h1M296.8 189h1M295.7 197.1h1M296.8 205.6h1M294.9 172h1M296 169.3h1M297 197h1M295.6 186h1M294.7 210.8h1M295.4 179.3h1M294.9 173.5h1M297.1 187.3h1M294.8 163h1M295 202.6h1M296.8 187.8h1M296.8 186.8h1M295.9 207.2h1M296.4 200.6h1M297.7 153.7h1M294.2 174.9h1M294.6 198.5h1M296.5 187.2h1M294.3 171.2h1M298.2 182.7h1M298.2 187.3h1M296.2 171.5h1M294.6 191.6h1M297.1 176.9h1M295 164.5h1M295.7 168.8h1M298 173.7h1M296.2 188h1M294.1 197.8h1M297 189.9h1M297.9 174.4h1M294.7 178.8h1M295.5 201.3h1M296.9 198.9h1M294.2 169.3h1M295.8 198.8h1M297.2 174.9h1M297.1 178.7h1M294.3 191.5h1M296.5 199.2h1M296.2 164.8h1M297.1 201.1h1M296.6 200.2h1M297.7 197.3h1M297.8 182.1h1M297 191.4h1M297.5 172.2h1M295.9 184.7h1M294.2 203.3h1M297.3 175.9h1M296.6 165.8h1M294.4 181.4h1M297.5 191.6h1M296.1 203h1M297.6 183.5h1M298 192.2h1M296.5 166.9h1M296.6 188.1h1M295.7 192.9h1M297 158.7h1M295.9 149.9h1M295.9 194.8h1M294.5 169.4h1M294.2 178.2h1M297 195.7h1M297 196.7h1M294.6 183.8h1M294.8 161.3h1M295.5 186.3h1M297.7 189.9h1M295.6 209.4h1M296.7 174.4h1M294 198.1h1M294.2 204.4h1M294.4 188.7h1M295.9 203.6h1M295.8 168.5h1M297.4 156.1h1M294.3 170.3h1M294.5 154.3h1M296.2 163.7h1M296.7 146.8h1M297.6 167.6h1M295.4 159.5h1M296.7 142.5h1M297.1 140.9h1M294.4 156.7h1M296.2 164.6h1M294.8 126.8h1M297 109.7h1M294.5 160h1M295 102.8h1M296.3 142.6h1M297.6 153.7h1M297.3 147.5h1M295.1 159.6h1M295.7 164.1h1M296.5 144.3h1M296.6 171.3h1M297.2 160.7h1M295 157.6h1M297.9 162.9h1M296.6 116.4h1M296.4 169.4h1M296.9 148.2h1M295.2 171.4h1M297.6 127.3h1M296.4 134h1M298 170h1M295.9 172.1h1M294.3 155.6h1M296.2 170.4h1M297.1 161.8h1M294.9 166.3h1M294.9 138.8h1M297.4 169.7h1M297.2 166.1h1M297.1 158.3h1M295.6 145.2h1M295.4 162.1h1M295.3 166.6h1M297 157.4h1M295.2 158.3h1M297.3 161.2h1M295.8 171.2h1M295.6 152.9h1M296.1 151.2h1M295.6 165.4h1M294.5 138.9h1M296.8 163.5h1M295.9 139.6h1M295.6 166h1M295.9 151.7h1M297 146.6h1M296.6 164.2h1M295.1 158.6h1M295.2 171.2h1M295.7 158.1h1M296.8 171.2h1M295 153.3h1M295.9 151.8h1M295.6 167.5h1M297.8 136.7h1M294.4 153.8h1M294.5 160.5h1M295.9 157.8h1M297.9 157.7h1M295.8 160.1h1M297.9 162.6h1M295.7 154.3h1M296.3 155.5h1M294.9 91.8h1M296.1 131h1M296.9 97.6h1M297.2 77.3h1M297.2 133h1M295.8 130.9h1M295.5 70.2h1M297.5 88.4h1M295.5 139.7h1M296.8 111h1M297 100.4h1M296.9 96.9h1M295 111.6h1M295.1 73.7h1M296.4 89.4h1M295.6 107.3h1M297.2 100.9h1M296.4 134.8h1M296.7 71.8h1M295.2 68.4h1M294.5 220.3h1M295.7 207.8h1M297.6 208.4h1M296.9 223.7h1M296.6 219.7h1M297.8 229.1h1M297.9 209.9h1M297.4 216.2h1M294.3 211h1M296.9 224.8h1M294.3 207.7h1M297.9 219.9h1M297.5 215.1h1M296 216.1h1M297.9 209.1h1M295.1 223.2h1M296.3 221.3h1M295.4 227.6h1M295.7 214.1h1M296.4 217.8h1M297.5 215.7h1M297 216.5h1M295.6 222.6h1M298 215.8h1M296.5 218.4h1M296.4 225.5h1M294.3 209.9h1M295.9 223.5h1M296.2 209.7h1M295.6 217.2h1M303.2 188.6h1M303 182.6h1M301.6 177h1M302 164.5h1M302.8 203.1h1M300 180.1h1M301.7 197.6h1M302.8 195.2h1M301.4 184.8h1M301.3 178.8h1M299.7 189.9h1M301.3 191.5h1M301.2 123.9h1M302.1 191.4h1M300.2 201.2h1M300 182.3h1M301.7 194.2h1M302.2 187.7h1M300.3 172.8h1M301.1 187.5h1M302.6 181.7h1M301.5 194.1h1M299.9 193.1h1M303.6 189.8h1M302.1 187.7h1M300.9 161h1M303.5 177.8h1M302.3 204.6h1M301.3 199.1h1M301.3 190.7h1M303.5 174h1M300.4 188.1h1M302.2 182.4h1M300.4 169h1M300.7 178.3h1M302.7 194.1h1M300.5 190.9h1M300.5 184.3h1M301.5 164.5h1M302.2 205.7h1M302.6 191h1M300.1 190.9h1M301.4 186.7h1M300.9 177.9h1M302 206.9h1M302.7 199.5h1M303.3 205.3h1M299.8 189.3h1M301.3 202.8h1M301.9 185.3h1M302.8 166.8h1M301.7 177.8h1M301.1 170.1h1M300.4 209.6h1M302.3 177.5h1M301 185.7h1M300 163.6h1M301.3 192.2h1M301.5 178.9h1M299.6 203.2h1M300.3 179.5h1M299.6 195.9h1M302.7 150.9h1M300 188.9h1M302.5 193.6h1M302.1 183.2h1M301.7 193.9h1M299.8 171.1h1M301.6 197.8h1M303 183.2h1M302.7 191.1h1M299.8 204.3h1M302.4 171.5h1M302.6 175.6h1M302.3 178.8h1M299.7 173.3h1M300.5 194.1h1M301.8 194.3h1M302.8 175h1M301.3 179.7h1M303.4 195.8h1M300.6 180.6h1M300.7 175.4h1M303.6 188.1h1M299.5 183.6h1M301.2 156.5h1M299.8 207.8h1M301.4 196.6h1M303.6 194h1M300.3 207.9h1M300.2 193.5h1M303.4 197.4h1M300.6 203.2h1M302.9 199.6h1M302.1 187.3h1M300 196.7h1M301.8 195.6h1M299.6 197.1h1M301 177.2h1M303.1 194.7h1M301.4 171.5h1M299.6 196.8h1M301.3 164.3h1M301.6 189.5h1M301.7 172h1M300.1 184.7h1M303.6 196.6h1M302.4 186.6h1M299.6 177.6h1M301.2 189.7h1M301.8 175.2h1M303 181.1h1M302.2 160.8h1M299.6 190.3h1M303.2 175h1M299.7 194.5h1M302.4 184.1h1M299.9 193.4h1M299.6 205.5h1M300.7 192.8h1M299.5 187.9h1M303.4 176.8h1M301.1 191.3h1M302 191.8h1M303.3 188.5h1M302 177.3h1M303.4 179.9h1M300.6 193.3h1M300.9 187.1h1M300.8 186.4h1M301.5 153.9h1M299.9 201.7h1M302.6 202.3h1M299.5 183.9h1M300.8 186.2h1M302.7 149.1h1M302.6 157.4h1M301.6 182.6h1M301.3 193.8h1M302.6 176.8h1M302.8 193h1M302.1 193.9h1M300.9 194.3h1M302.9 176.5h1M302.1 202.7h1M302.2 169.7h1M301.7 190.4h1M301.2 199.2h1M300.7 205.2h1M300.7 198.2h1M300.3 188.1h1M299.8 171.3h1M301.7 180.3h1M300 191.4h1M302.1 199.9h1M303.1 193.3h1M300.4 206.3h1M301.7 185.3h1M300.2 201.4h1M299.8 174h1M299.7 183.1h1M299.5 195.3h1M303.4 199.6h1M302.6 203.8h1M303.4 176.1h1M303.4 204.3h1M301.3 159.8h1M301.9 183.9h1M302.6 188.2h1M299.6 195.8h1M301.8 194h1M301.4 176.6h1M302.8 161.9h1M303.1 190.4h1M301.8 203.2h1M300.7 159.6h1M300.1 188.5h1M302.4 157.4h1M302.2 170.9h1M302 182.1h1M302.5 167.2h1M300.3 174.6h1M302.7 189.2h1M300.5 173.6h1M303 168.8h1M300.5 205.8h1M303.4 197.1h1M300.4 181.7h1M299.9 200.2h1M300.5 180.6h1M299.8 195.1h1M300 192h1M302.8 192.3h1M301.7 190.7h1M299.8 191.8h1M302.3 188.7h1M303.5 179.8h1M300.8 163.3h1M302.2 202.2h1M302.5 166.8h1M303.2 162h1M301.8 116h1M301 139.5h1M300.7 147.3h1M300.8 148.3h1M301 165.5h1M301.4 166h1M302.1 166.2h1M302.9 143.6h1M303 105h1M303 156.7h1M302.3 165.3h1M300.9 147.7h1M302 157.5h1M301.7 167.3h1M301.9 153.9h1M301 154.1h1M303.2 139.6h1M302.7 170.1h1M302.9 158.6h1M301.6 162.8h1M301.2 138.8h1M301.3 161.4h1M300.9 153.4h1M303.3 171.6h1M302.4 142.3h1M302.7 132.4h1M300.7 161.1h1M302.2 170.2h1M300.6 137.8h1M302.7 153.7h1M301.3 173.1h1M300.5 149.1h1M300.7 173.1h1M300.7 170.6h1M301.3 149.4h1M300.4 148.3h1M301.3 132.3h1M302 165.4h1M300.8 161.3h1M301.9 157.2h1M302.8 165.4h1M300.9 155.3h1M303.2 164.1h1M301.3 160.6h1M301.2 156.2h1M300.8 158.7h1M301.1 146.2h1M303.1 131.4h1M300.6 169.7h1M300 158.6h1M300.1 166.4h1M300.8 114.4h1M302.3 160.3h1M301.1 171.6h1M300.8 157.5h1M302.2 163.5h1M300.8 134.5h1M303 167.6h1M302.9 161.8h1M302.4 154.4h1M302.9 150.2h1M301.2 161.9h1M303.2 150h1M301 168.4h1M301.6 150h1M301.2 172.1h1M301.2 151.3h1M301.1 170.1h1M301.5 137.7h1M303.4 157.9h1M300 167.5h1M300.5 169h1M302.7 147h1M300.5 158.1h1M301.2 103.7h1M302.6 40.8h1M300.8 64.1h1M302.7 125.3h1M302 83.9h1M301.7 74.1h1M302 76.8h1M300.3 116h1M301.2 126.9h1M300.9 43.9h1M300.8 114.8h1M300.3 137.4h1M302.1 61.5h1M302.8 73.3h1M302.6 120.4h1M301.3 132.1h1M302.5 82.3h1M302.1 128.1h1M302.2 99.1h1M301.8 52.4h1M303.3 206.5h1M302.7 207.6h1M301 228.4h1M300.7 216.2h1M303 226.1h1M301.9 212.9h1M302.1 205.8h1M302.3 212.8h1M300 224.6h1M300.4 228.4h1M302.2 212.7h1M300.1 212.8h1M301.5 226h1M302.1 223.5h1M299.8 210.4h1M301.9 210.3h1M300.5 222.1h1M300.6 221.9h1M299.7 221.9h1M303 220.7h1M300.1 218.4h1M302.6 217h1M301.4 215.7h1M300.5 215.6h1M300.3 208.1h1M303.3 215.3h1M300.6 226.1h1M301.1 215.6h1M301.9 222.7h1M302.6 224h1M306.8 174.2h1M308.1 198h1M307 193.4h1M305.1 180.1h1M307.8 180h1M305.3 198.3h1M308.8 206h1M307.1 197.8h1M307.7 204.3h1M308.7 193.9h1M306.4 192.1h1M306.4 198.4h1M306.8 168.2h1M308.9 200.2h1M305.2 177.8h1M307.9 180.9h1M306.6 184h1M308.5 176.3h1M306.7 198.5h1M308.5 165.5h1M307.6 191h1M307.5 163.8h1M307.9 202.9h1M306.2 200.5h1M308.1 210.9h1M308.3 171.3h1M308.4 206.7h1M307.4 194.6h1M306.3 199.3h1M305.5 171.9h1M306.1 180.9h1M306.6 174h1M308 196.7h1M307.7 199.6h1M308.3 198.2h1M304.8 171.5h1M307.4 192.3h1M306 199h1M308 154.1h1M305.4 189.7h1M308 180.4h1M305.2 198.4h1M306.6 204.5h1M308.8 187h1M308.8 201.2h1M307.2 185.4h1M305.2 197.7h1M306.3 197.5h1M305.3 195.1h1M306 193.8h1M305.6 180.9h1M307.1 206.3h1M306.8 168.2h1M307.4 175.3h1M306 206h1M308.2 133.5h1M307 195.9h1M307.8 180.2h1M307.3 196.4h1M307.4 207.7h1M307.3 183.8h1M305.7 181.9h1M307.2 197.4h1M307.6 173.9h1M308.9 195h1M307.8 162.8h1M305.6 199.6h1M306.8 165.4h1M305.9 193.5h1M306.7 198.2h1M307.3 203.9h1M305.2 201.6h1M308.5 178.9h1M307.3 189.6h1M307.6 177h1M306.4 210.7h1M306.2 172.5h1M306.3 182.3h1M307.1 193.9h1M306 189.6h1M306.8 196.4h1M308.8 196h1M305.3 173h1M307.1 203.8h1M305.3 184.3h1M305.3 182.6h1M308.6 187.9h1M306.5 178.3h1M307.8 169.6h1M306.3 150h1M307.6 198.3h1M308 213.1h1M308.8 186.8h1M308.4 191.3h1M309 181.4h1M305.1 199.9h1M306 167.3h1M308.6 167.5h1M305.6 195.7h1M305.6 185.6h1M305 179h1M308.9 183.2h1M307.5 192.1h1M307.7 174.8h1M307.3 195.4h1M306.2 185.5h1M306 204.2h1M306 188.4h1M308 182.8h1M307 187.7h1M305.9 180.8h1M306.4 162.9h1M306.8 188h1M308.2 175.7h1M306 169h1M307.9 196.5h1M307 190.4h1M306.6 199.6h1M306.7 191.5h1M307.7 181.4h1M307.6 173.6h1M308.5 180h1M306.8 191.7h1M307.7 185.3h1M305.9 193.6h1M306.8 197h1M306.6 166.7h1M305.5 181.6h1M308.3 173.8h1M308.4 190.8h1M307.7 171.7h1M308.7 190.3h1M306.9 196.4h1M306.8 136.3h1M307.3 186.4h1M308 205.6h1M308.3 162.9h1M308.2 202.4h1M305.4 192.7h1M308.2 195.6h1M306.3 207.4h1M307.3 176h1M308.2 158.6h1M305.2 209.1h1M307.2 177.7h1M307.7 191.3h1M305.1 196h1M308.9 184.1h1M308.5 203.9h1M306.3 196.8h1M306.8 183.6h1M308.1 200.5h1M305.4 179.7h1M308.4 193.2h1M307.6 183.8h1M307.5 195.7h1M305.3 163.8h1M307.6 176.7h1M307.7 197.4h1M306.1 169.9h1M305 190.1h1M307.7 189.9h1M305.1 179.3h1M305.6 187.4h1M307.2 198.6h1M306.9 191.8h1M306.1 196.3h1M307.9 197.8h1M306.2 200.1h1M308 173.5h1M306.3 176.8h1M308.3 199h1M307.4 166.5h1M306.8 188.2h1M306.5 143.9h1M306.5 198.9h1M305.7 205.7h1M305.4 188.2h1M308.1 192.9h1M305.1 186.2h1M308.2 196.3h1M307.1 181.6h1M308.8 198.2h1M308.3 204.1h1M306.8 196.1h1M305.3 205.4h1M308.4 187.2h1M306.1 175.2h1M307.6 200.6h1M308 169h1M308.9 196h1M308.2 191.9h1M308.7 178.3h1M308.3 182.6h1M306.3 183.1h1M305.7 176.1h1M307.6 188.7h1M307.4 195.5h1M307.9 181h1M305.4 199.8h1M308.6 146h1M308.6 143.9h1M306.1 166.2h1M307.5 172.6h1M306.4 134.4h1M305.1 159.4h1M306.4 148.2h1M308.3 164.3h1M308.6 164.2h1M306.4 151.7h1M306.8 149.7h1M308.3 149.4h1M306.6 166.8h1M306.8 143.4h1M307.9 122.1h1M306.5 161.7h1M306.9 158.1h1M308 155.5h1M307.9 144.5h1M306.9 124.1h1M306.5 122h1M306.2 171.7h1M308.7 149.4h1M308.2 168.7h1M307.8 164.9h1M306.4 146.3h1M307.4 143.9h1M308.3 152.6h1M307.1 102.5h1M305.4 149.7h1M307.2 155.7h1M306.9 139.7h1M307.6 158.2h1M307.3 148.6h1M307.6 144.9h1M308.3 99.4h1M307 144.1h1M308.7 147.4h1M308.6 147.8h1M306.7 159.1h1M307.2 154.1h1M305.4 160.2h1M305.8 168.6h1M307 161.5h1M308.8 118.7h1M308.7 169.6h1M308.1 157.6h1M306.1 152.7h1M306.9 153.3h1M305.9 140.2h1M308 119.9h1M307.3 143.1h1M307.7 153.7h1M307.1 142.6h1M308.1 162.2h1M307.9 155.6h1M308.1 124.9h1M307.4 165.9h1M306.1 160.4h1M308.1 170.5h1M308.1 154h1M306.9 125.9h1M305.3 169.9h1M308.6 131.6h1M305.5 168.8h1M308.1 167h1M306.3 172.9h1M306.6 105.8h1M305.8 122.6h1M305.8 143.1h1M306.8 137.9h1M306.5 151.2h1M305.6 153.1h1M307.2 141.7h1M305.6 156.7h1M307.4 105.1h1M305.7 57h1M306.5 64.2h1M307.3 63.5h1M306.5 123.2h1M307.1 91.7h1M307.7 69.8h1M308.1 50.7h1M308 86.4h1M307.4 67.7h1M307.1 125.2h1M306.2 85.4h1M305.6 49.6h1M305.7 91.5h1M306.7 53.5h1M306.1 95.4h1M306.8 119.5h1M308.1 45.4h1M308 109.7h1M306 72.5h1M308.7 219.8h1M308 214.2h1M306.5 211h1M305.1 216.5h1M305.7 210.6h1M307.3 214.7h1M306.9 210.1h1M307.5 226.6h1M307.9 222.3h1M307.3 225.8h1M307.3 219.6h1M306 208h1M307.8 225.3h1M305 222.3h1M306.1 209.8h1M305.3 224.7h1M305.2 208.7h1M307.6 212.3h1M305.8 218.9h1M308.1 209.9h1M308.8 216.8h1M308.1 215.5h1M305.8 214.4h1M308.4 216.1h1M305.6 206.9h1M307 212.5h1M306.6 214.3h1M306.5 208.9h1M306.4 212.4h1M307.3 218.9h1M310.6 174.6h1M311.4 195h1M312 194.2h1M311.5 127.6h1M312.7 189.9h1M313 189.1h1M313 184.6h1M310.4 181.2h1M310.7 159.5h1M313.8 188.2h1M312.3 195.4h1M314.2 171.2h1M313.5 195.3h1M311.1 192.9h1M311.7 177.3h1M312.1 191.6h1M311 195.5h1M311.5 198.1h1M313.7 184.4h1M311.1 199.6h1M311 180.9h1M313.9 165.9h1M312.2 179.1h1M310.7 201.1h1M311.2 205.9h1M313.5 188.1h1M314.3 188.7h1M313.9 185.1h1M314.2 178.5h1M312.1 208.2h1M311.9 203.8h1M312 189.5h1M314.2 183.8h1M312.7 186.6h1M312 190.2h1M311.4 206.5h1M313.5 183.7h1M311 202.8h1M312.3 177.6h1M313.6 182h1M312.3 186.3h1M310.6 184h1M312.5 191.8h1M310.8 207h1M312.1 193.5h1M312.5 165.1h1M313 185.9h1M312.3 186.8h1M310.7 162.1h1M312.6 192h1M313.1 193h1M310.5 172.4h1M312.3 166.7h1M312.2 190.1h1M311 188.9h1M311.6 202.5h1M312.7 128.5h1M314 195h1M311.6 196.2h1M314 178.9h1M310.7 168.9h1M311.3 197.6h1M314.2 205.2h1M313.7 184.7h1M313.5 201.3h1M310.6 196h1M313 192.3h1M312.3 179.9h1M313.9 208.6h1M314.1 180.6h1M311.2 198.2h1M312.8 186.8h1M312.2 203.4h1M312.4 189.1h1M313 174.8h1M314 179.8h1M312.8 193.2h1M312.1 167.4h1M310.7 197.9h1M313 208.2h1M313.6 187.5h1M310.2 188h1M312.5 186.8h1M313.3 165.7h1M310.6 196.2h1M310.6 195.4h1M314.4 196h1M312 180.4h1M313.5 188.6h1M313.1 213.9h1M312.6 199.6h1M310.4 183.7h1M311.1 200h1M312.1 195.6h1M314.2 194h1M312 207.2h1M314 186h1M313.7 161.4h1M314.3 196.1h1M310.9 185.5h1M310.8 162.7h1M313.5 179.5h1M313.6 182.6h1M313 199.6h1M312.3 191.2h1M312.5 188.1h1M311.8 178.8h1M312.7 196.3h1M310.4 197.8h1M313.4 168h1M311 189.7h1M312.1 195.1h1M311.8 190.1h1M313.3 197.4h1M310.9 201.7h1M314.3 201.2h1M310.7 179.8h1M313.9 181.3h1M310.5 195.3h1M312.6 190.7h1M313.9 183.6h1M312.6 200.1h1M312.9 213h1M311.8 179h1M312 166.8h1M310.8 189.8h1M314 185.5h1M314.4 187.4h1M313.2 203.6h1M311.2 199.3h1M310.8 205.4h1M310.7 167.8h1M311.7 199.3h1M312.4 197.2h1M313.2 204.4h1M311.5 180.2h1M312.9 185.9h1M312.3 195.3h1M311.8 185.5h1M313.3 190.6h1M311.1 177.5h1M313.1 201.3h1M310.7 166.5h1M311.1 191.3h1M311.8 194.4h1M312.4 185.1h1M310.7 162.9h1M314.2 195.2h1M312.6 203.1h1M313.9 187.9h1M310.5 186.5h1M311.6 188.2h1M312.6 188.4h1M313.8 189.7h1M311.7 188.3h1M313.4 208.8h1M314.3 176.4h1M314.4 204.7h1M314.2 190.5h1M310.9 182.1h1M311.4 200.4h1M310.7 192.1h1M311.4 185.6h1M311.9 190.1h1M312.4 176.8h1M310.3 189.5h1M313 198h1M310.3 193.9h1M311.5 142.1h1M313.3 183.5h1M310.3 200.9h1M312 189h1M310.7 188.1h1M310.7 197.2h1M314.2 195.3h1M312 187h1M312.4 186.2h1M314.4 197.6h1M310.8 168h1M312.4 185.2h1M313.8 202.6h1M313.4 146.1h1M312.7 197.4h1M313.8 189.6h1M313.3 169.1h1M310.3 196h1M313.6 201h1M314.2 191h1M313.8 192.7h1M312 189h1M310.7 171.1h1M311.5 199.5h1M310.3 187.2h1M310.4 182.4h1M312.6 145.7h1M310.9 172.8h1M310.5 184h1M311.6 192.9h1M310.8 178h1M311.4 163.5h1M311.1 156.2h1M310.5 131.7h1M313.1 144.2h1M311.9 150h1M314 137.4h1M314 125.3h1M311.8 171.4h1M314.2 161.3h1M313.6 122.3h1M312.4 163.2h1M312.8 131.3h1M313.2 143.2h1M312.7 138.2h1M310.6 138h1M311.7 149.2h1M312.1 143h1M311.1 139.5h1M311.9 159.4h1M311.7 163.1h1M310.7 166.1h1M311.4 151.4h1M311.8 154.4h1M312.1 151.5h1M311.6 144.7h1M310.9 155.2h1M313 154.2h1M312.8 156.2h1M313.6 163.5h1M312.9 164.8h1M310.6 158.7h1M313.6 165.4h1M310.4 146.2h1M314.2 154.8h1M314 135.7h1M313.8 162.5h1M310.9 137.6h1M310.9 172.4h1M312.1 136.7h1M312.6 156.1h1M311.1 157h1M310.5 147.6h1M312.6 150.8h1M311.1 146.6h1M313.9 152.9h1M311.9 166.8h1M312.4 143.9h1M312.9 159.4h1M312.6 167h1M314.1 127.9h1M312.7 166.2h1M312.1 148.6h1M312.5 112.6h1M313.5 159.4h1M311.5 122.9h1M312.1 123.6h1M313.9 151.8h1M310.8 157.6h1M312.8 146.2h1M311.1 159.9h1M311.7 134h1M311.1 164.3h1M313.7 173.2h1M313.9 158.9h1M312.8 164.2h1M313.7 106.8h1M313 164.5h1M312.2 164.6h1M311.7 166.7h1M314.2 158.3h1M311.4 167.7h1M313.9 165.6h1M313 159.1h1M313 137.5h1M311.5 134.7h1M311.4 169.7h1M312.8 102.7h1M311 94.9h1M312.7 106.5h1M310.9 45h1M311.1 82.1h1M311.7 113.5h1M311.7 127.4h1M311.7 46.3h1M312.3 97.2h1M313.6 61.1h1M311.8 60.5h1M312.3 51.4h1M311.8 53.5h1M312.7 75.1h1M311.5 105.1h1M312.1 33.3h1M312.9 96.6h1M311.7 114.2h1M311.6 100.3h1M311.8 49.5h1M312.1 213.8h1M312.9 216.2h1M310.7 210.9h1M313.1 215.9h1M311.3 221.7h1M313.8 218.7h1M311.4 216.5h1M314.2 209.3h1M312.5 228.9h1M310.9 222.3h1M310.6 224.8h1M311.7 227.5h1M312.1 206.6h1M311 210.6h1M311.7 227.8h1M312.4 210h1M311.5 205.9h1M311.2 228.4h1M313.7 220.5h1M310.7 208.7h1M313.5 223.2h1M313.5 228.4h1M312.4 227.7h1M311.7 227.4h1M313.4 222.7h1M311.3 227.5h1M310.8 217.3h1M313.3 229.3h1M312.8 227.5h1M313.5 207.5h1M318.5 199.4h1M319.7 186.1h1M317.6 201.2h1M317.6 183.6h1M318.6 208.4h1M317.9 193.3h1M315.8 203.3h1M315.9 159.7h1M317.9 183.1h1M319.1 196.9h1M318.1 195.8h1M316.2 184.4h1M317 189.3h1M317.9 172.9h1M316.8 159.4h1M317 178.2h1M317.5 189.6h1M317.4 200.7h1M316.1 178.9h1M315.8 182.3h1M317.3 185.5h1M316 208.4h1M318.6 188.3h1M319.7 194.2h1M317.1 209.8h1M318.8 176.5h1M318.1 143.9h1M318.3 205.9h1M319.4 190h1M316.7 174.4h1M318.4 180.3h1M318.9 166.2h1M316.6 182.1h1M316.7 169.2h1M317.8 200.3h1M319.5 195.1h1M319.8 200.4h1M318.4 206.2h1M317.8 194.4h1M319.6 188.1h1M319.2 171.8h1M316.7 208.5h1M318.4 193.3h1M317.8 196.9h1M318 198.4h1M319.8 203.6h1M316.4 197.4h1M318.8 188.3h1M316.1 198.7h1M319.6 185.8h1M318.3 193.9h1M315.8 207.4h1M316.3 188.8h1M317.3 184.7h1M317.2 186.8h1M316.3 185.1h1M316.1 191.8h1M316.8 196.5h1M319.3 198h1M316.3 194.1h1M318.9 195.7h1M317.9 155h1M317.9 199h1M316.5 177.3h1M317.3 180.6h1M319.6 197.7h1M319.2 196.9h1M316 171.4h1M317.5 177.9h1M317.4 163.8h1M316.8 190.6h1M319.6 199h1M319.4 186h1M317 192.8h1M315.7 199.3h1M315.9 194h1M317.7 187.8h1M318.4 160.2h1M317.6 186.7h1M317.4 138.3h1M318.1 169.6h1M316.9 196.8h1M318 139.2h1M319.1 199.7h1M316.8 179.4h1M317.5 203.8h1M318.8 190.9h1M318.2 187.6h1M316 186.7h1M317.5 157.5h1M316.3 179.9h1M318.8 195.6h1M318.9 183.8h1M317.7 188.5h1M317.2 190.7h1M319 168.4h1M315.8 193.4h1M319.7 171.1h1M317.6 202.2h1M316 189.4h1M315.9 197.6h1M317.9 183.8h1M318.6 184.2h1M318.5 181.7h1M319.3 185.2h1M318.6 201.8h1M318 199h1M317.9 188.8h1M318 190.4h1M317.2 151.5h1M315.8 201.6h1M319.5 203.3h1M316 174.3h1M317.2 189.7h1M316.7 198.9h1M319.1 193.8h1M319.2 201.4h1M318.3 180.6h1M315.7 185.8h1M319.1 176.5h1M316.8 153.4h1M319.7 196.3h1M319.2 197.7h1M316.2 175.4h1M317.3 178.4h1M317.3 171.1h1M318 189.6h1M317.1 192.8h1M318.2 185.9h1M319.1 179.6h1M316.2 201.7h1M319.1 178.2h1M316.2 190.9h1M318.8 195.5h1M318.5 209.7h1M317.3 197h1M319 186.3h1M316.8 178.1h1M318.1 200.1h1M318.2 163.1h1M315.9 188.9h1M316.7 163.5h1M318.9 200.6h1M319.8 191.2h1M317.5 196.8h1M318.2 187.4h1M319.1 198h1M318.2 146.7h1M318.8 199.6h1M318.5 198h1M318 195h1M317.1 168.9h1M318 180.9h1M318.5 192.8h1M318.5 203.6h1M319.8 180.2h1M316.9 188.5h1M317.6 200.1h1M316.4 207.4h1M316.4 185.3h1M316.8 184.5h1M317.6 204.3h1M317.5 194.9h1M315.9 196.1h1M319 169.1h1M316.7 166.8h1M316.7 193.4h1M317.4 185h1M318.3 191.6h1M315.8 189.8h1M318.1 172.8h1M316.3 188.2h1M317.2 179.9h1M316 194.5h1M315.7 189.1h1M315.7 178.8h1M315.8 180.4h1M316.5 168h1M317.3 196.5h1M318.8 152.7h1M315.6 187.4h1M319.4 190.6h1M318.1 197.2h1M319.3 199.5h1M317.3 185.6h1M317 196.6h1M318.3 161.7h1M317.4 210.3h1M318.9 187.8h1M317.5 192.9h1M317.8 193.7h1M316.6 182h1M316.1 159.4h1M317.3 151.9h1M318.7 196.1h1M316.6 190.8h1M317 185.8h1M316.5 180.9h1M316.6 182h1M318.4 179.8h1M317.8 161.6h1M316.1 168.2h1M316.1 168.9h1M318 145.1h1M316.9 172.8h1M318.1 135.4h1M318.9 139h1M319.3 168.8h1M319 157.1h1M318.2 155.9h1M315.9 172.7h1M318.8 165.6h1M319.5 157.4h1M316.7 135.4h1M318.9 166.2h1M318.4 145.5h1M317.3 168.8h1M318.6 151.9h1M316.7 154.4h1M317.6 172.5h1M316.5 163.7h1M319.6 171.3h1M317.2 164.9h1M316.9 172.8h1M318 164.1h1M316.3 144.4h1M318.3 140.9h1M317.6 172.6h1M318 146h1M318.4 96h1M319 164.9h1M315.9 147.5h1M316.3 161.9h1M317.5 169.7h1M316.8 154.1h1M316.9 171h1M318.4 169.4h1M316 148.6h1M317 162.4h1M319.2 136h1M319.6 169.8h1M317.3 157.7h1M316.1 156.3h1M318.9 122.3h1M317.5 160.1h1M319.5 167.7h1M316.6 168.5h1M316.3 113.4h1M316.2 144.1h1M316 156.4h1M318.1 152.1h1M316.4 138h1M318.8 129.4h1M318.7 163.5h1M317 155.8h1M319.1 132.4h1M319.6 140.9h1M317.2 138.1h1M315.9 134.4h1M317.8 135.6h1M315.9 125.4h1M319.5 159.5h1M315.9 151.7h1M317.1 160.8h1M316.5 163.7h1M315.9 112h1M319.4 173.2h1M317.5 151.7h1M319 157.7h1M318.6 134.7h1M318.8 172.8h1M316 170.7h1M319.6 139.8h1M317.7 171.4h1M319.6 139h1M317.6 140.3h1M318.7 87.7h1M318.3 78.8h1M316.4 109.5h1M317.9 116.2h1M318.6 120.1h1M316.7 116.8h1M316.8 108.1h1M317.9 103.1h1M318.2 129.8h1M318 85.3h1M316.4 118.6h1M317 95.7h1M317.6 123.4h1M318.9 97h1M318.3 107h1M318.7 85.8h1M318.4 94.6h1M318.5 84.9h1M318.4 93.6h1M318.9 208.2h1M319.1 213.6h1M317.6 228.2h1M316.6 211.2h1M317.7 225.1h1M316.6 213.9h1M319.1 211h1M319.4 214.7h1M319.4 214.1h1M319 220.1h1M317.8 215.2h1M318.5 209.8h1M317.5 215.3h1M318.6 228.3h1M317.2 208.9h1M317.9 207.7h1M315.9 214.4h1M319.6 220.1h1M317.6 223.3h1M315.9 214.7h1M318.4 225.7h1M316.4 229.4h1M318.8 216.8h1M315.9 206.4h1M317.3 207.6h1M317.6 216.5h1M316.2 206.2h1M319 217.8h1M317.9 210h1M319.5 211.8h1M324 196.4h1M322.5 208.9h1M324.5 182.8h1M324.9 185.1h1M325.2 175h1M321.9 196.4h1M322.6 176.6h1M321.9 174.7h1M321.5 181.6h1M323.3 185.6h1M322.9 177.8h1M324.2 177.5h1M322.5 180.4h1M322.3 189.4h1M323.5 208.3h1M321.3 181.5h1M322.1 187.7h1M323.5 181.3h1M321.1 204.3h1M322.4 195.1h1M323.5 199h1M321.2 170.2h1M324.4 201.4h1M324.6 174h1M323.9 202.2h1M322.7 196.3h1M323.1 200.4h1M321.4 167.9h1M322.1 183.9h1M324.9 184.7h1M322.6 187.7h1M324.4 189.7h1M322.2 196.3h1M322.8 200.7h1M323.6 193.4h1M321.5 159.4h1M322.1 201.4h1M323.4 195.2h1M323.7 148.2h1M323.9 189.5h1M323.5 200.4h1M322 173.4h1M322 197.3h1M324.2 188.8h1M322.5 174.4h1M324.4 194h1M324.8 191.9h1M323.1 208.8h1M322 152.9h1M322.9 191.8h1M322.7 128h1M322 196.4h1M325 193h1M321.2 203.4h1M323 192.5h1M324.5 182.9h1M323.4 201.5h1M323.6 188.9h1M324.3 206.4h1M322.8 204.4h1M324.4 194h1M325.2 197.7h1M323.6 171.6h1M323.8 201.7h1M324.5 166.4h1M323.9 195.8h1M322 191.3h1M324.5 177.9h1M323.3 202.7h1M324.6 212.3h1M324.2 180.6h1M321.5 185.3h1M325.1 170.2h1M324.7 180.4h1M324.9 208.1h1M322.2 188.5h1M323.5 183.6h1M322.9 196.4h1M323.7 176h1M321.8 207.1h1M321.6 205.3h1M324.3 182.4h1M321.9 155h1M321.4 199.4h1M324.9 196.6h1M322.5 176.3h1M323.6 195.7h1M324.2 121h1M322.1 191h1M324.4 193.3h1M321.3 196.4h1M322.7 166h1M322.3 176.6h1M322.4 196.6h1M321.2 185h1M323.1 182.5h1M323 200.9h1M324.1 184.7h1M325 194.9h1M321.5 197h1M321.9 191.2h1M321.5 188.5h1M325.1 201.2h1M322.7 188h1M323.1 197.3h1M323.4 190.6h1M321.2 195.7h1M325.1 199.2h1M323.3 170.5h1M321.9 199.5h1M323.2 198.3h1M324.6 166.5h1M324.3 162.8h1M323.4 180.9h1M322.4 198.4h1M325.1 177.5h1M321.3 199.6h1M325 186.1h1M324.5 198.2h1M324.6 167.3h1M325.1 188.1h1M323.5 159.8h1M325 186.5h1M323.5 179h1M324.5 200.8h1M324.6 184.4h1M322 174.2h1M324.9 184.2h1M321.5 191.1h1M324.4 183.8h1M324.1 183.7h1M323.7 182.7h1M322.8 185.5h1M323.2 195.9h1M324.6 180.4h1M323.1 205.3h1M324.3 179.4h1M322.2 188.4h1M322.9 193.1h1M322.7 157.9h1M322.8 194.6h1M325 194h1M324.4 170.2h1M321.6 196.9h1M324.8 189.6h1M323.4 187.4h1M321.9 164.9h1M322.4 180.3h1M323.6 178.8h1M322.8 188.3h1M324.6 200.2h1M321.3 188.2h1M324.2 177.6h1M323.1 175.9h1M324.3 192.5h1M325.2 195.1h1M323.1 188.4h1M324.8 197.2h1M323.2 179.5h1M322.3 192.1h1M322.2 202.3h1M321.1 198.5h1M325.2 207h1M323.8 172.7h1M323.9 199.4h1M321.9 193.7h1M323.9 191h1M321.5 192.8h1M324.7 195.3h1M321.7 184.1h1M324.5 183.8h1M323.4 186.4h1M321.7 198h1M322.2 204.6h1M324.5 200.4h1M323.4 187.7h1M325 198.3h1M321.8 192.4h1M323 199.3h1M323.1 182.8h1M325.2 188.4h1M322.1 185.9h1M323.9 198.6h1M323.2 170.2h1M322.7 182.1h1M322.8 196.6h1M321.7 197.5h1M324.5 187.9h1M322 202.5h1M321.5 184h1M323.6 196h1M322.6 185.9h1M321.9 184.5h1M324 193.2h1M323.6 199.7h1M324.8 184.6h1M323.9 182.4h1M321.1 185.6h1M323 169.2h1M322.9 180h1M324.5 144.5h1M324.6 165.8h1M324.8 161.1h1M324.4 169.1h1M322.5 157.9h1M324.4 135.6h1M324.8 142.2h1M323.3 171.6h1M321.9 173h1M323.2 164.5h1M322 164.4h1M322.5 159.5h1M322.3 110.5h1M323 165.3h1M323.5 163.5h1M321.4 148.7h1M322.2 136.2h1M321.5 136.8h1M322.3 154.4h1M323.3 162.8h1M324.7 145.2h1M323.6 136.6h1M322.7 129.7h1M322.4 165.9h1M323.1 165.4h1M321.9 163.6h1M321.7 135.2h1M321.5 157h1M323.5 144.1h1M325 144.7h1M321.9 165.5h1M323.7 170.1h1M322 145.1h1M324.7 120.4h1M322.4 173.1h1M322.5 155.2h1M321.5 169.1h1M322.8 172.6h1M323.7 162.1h1M321.8 133.4h1M324.5 170.3h1M322.5 156.2h1M323.3 161.4h1M321.5 159.5h1M324.8 148.7h1M324.6 154.6h1M324.8 108.3h1M323.4 156.8h1M323.3 163.8h1M321.7 163.4h1M324.8 125.5h1M323.8 121h1M323.3 173.2h1M325 159.7h1M324.9 171.8h1M324.1 171.3h1M322.2 159.2h1M325 150.2h1M321.3 138.4h1M321.4 164h1M321.7 163.8h1M323.4 155.3h1M323.8 151.2h1M323.4 160.5h1M323.4 162.4h1M322.1 135.6h1M322.9 163h1M323.2 139.7h1M321.4 167.3h1M324.7 110.8h1M325 151h1M321.5 170.7h1M322.2 166.4h1M323.5 154.4h1M322.1 161.1h1M324 94.2h1M322.5 111.5h1M323 94.4h1M322.5 76.9h1M324.5 136.3h1M321.9 138.1h1M322.4 125.3h1M321.7 45.1h1M322.9 107.7h1M324 123.7h1M322.4 109.5h1M323.9 140.1h1M323.5 88.7h1M322.6 104.5h1M322.7 113.6h1M321.9 74.5h1M323.3 35.5h1M322.4 100.2h1M323.9 53.4h1M323 34.1h1M324.8 224.6h1M325 222.4h1M321.6 213.8h1M324.1 219.1h1M323.8 227.6h1M321.3 226.6h1M323.8 227.9h1M324.2 222.8h1M322.1 215.2h1M324 207.2h1M324.4 228.4h1M321.9 208.1h1M324.2 218h1M323.2 210.6h1M323 213.2h1M321.6 222.9h1M323 207.7h1M324.2 216h1M322.5 213h1M324.4 225h1M322.7 216.9h1M324.7 214.4h1M322.6 223.9h1M324.3 217.1h1M324.8 220.3h1M323.7 209.5h1M323.2 209.1h1M323.3 226.9h1M323 211.8h1M322.2 206.9h1M330 188.9h1M330 200.7h1M326.5 202.8h1M329.2 202.3h1M328 175.6h1M327.2 202.5h1M327.1 189.1h1M328.7 199.6h1M328.4 153.3h1M329 168.6h1M327.1 198h1M327.9 186.6h1M328.2 191.3h1M327.1 181.8h1M329.2 213.3h1M326.6 195.2h1M327.4 198.5h1M326.9 195.2h1M328.8 173h1M328.8 198.3h1M328.3 166.5h1M328.2 183.8h1M329.6 176.2h1M327.6 176.9h1M326.7 186h1M328.9 177.4h1M328.9 201.3h1M329.5 187.7h1M329.5 208.9h1M328.9 187.2h1M329.6 177.1h1M327.5 211.8h1M326.7 176.8h1M327.1 183.9h1M329 191.4h1M328.1 203.8h1M329.4 198.2h1M327.1 179.2h1M329.8 193.4h1M330.3 189.3h1M329.5 166.7h1M326.7 191.8h1M326.8 197.2h1M327.5 199.4h1M328.5 188.2h1M328.6 203.8h1M328.3 191.1h1M327 190.1h1M329.7 178.3h1M328.2 166.5h1M329.3 195h1M328.7 201h1M329.1 165.7h1M328.2 188.7h1M330.4 192.1h1M329.8 176.3h1M329.9 186.2h1M330 197.1h1M328.5 162.6h1M329.8 181h1M326.5 184h1M330 179.5h1M328 194.5h1M328.8 199.2h1M329.2 190.5h1M328.5 195.1h1M326.6 204.7h1M327.4 169.6h1M329.7 208h1M330.4 195.4h1M327.7 177.7h1M326.9 195.8h1M327.3 188.7h1M327 192.2h1M330.3 187.8h1M328.3 196.8h1M327.2 166.5h1M330.1 195h1M327.3 189.1h1M329.5 165.5h1M329.4 179.5h1M330.5 173.9h1M327.6 179.8h1M327.2 195.3h1M329.7 194.4h1M326.7 184.3h1M328.7 152.3h1M329.5 192.2h1M329 162.3h1M328.5 184.6h1M327.2 188.2h1M326.5 185h1M330.3 184.6h1M327.3 191.9h1M328.7 164.3h1M327.1 179.4h1M328.1 186.9h1M330.5 199.8h1M326.7 178.2h1M327.3 199.6h1M330.6 206.2h1M327.7 193.2h1M326.5 170h1M329.8 188.2h1M330.5 196.9h1M326.9 158.4h1M328.8 180.4h1M327.9 207h1M329.9 187.5h1M329.6 166.7h1M328.6 213.6h1M327.2 193.8h1M329.7 199.6h1M326.4 194.8h1M330.3 193h1M329.8 197.2h1M329.3 197.8h1M329 199.7h1M326.9 168.9h1M327.1 183.2h1M328.8 158.9h1M328.4 184.2h1M330 194.1h1M327.1 188.3h1M327.8 191.8h1M327.7 187.5h1M327.4 189.2h1M327.3 174.4h1M330.5 174h1M330.5 192.7h1M329.4 183.8h1M329.6 185.9h1M329.6 159.7h1M330.3 191.5h1M328.8 194.9h1M330.1 185.6h1M329.3 183.7h1M326.6 200h1M328.6 174.5h1M330.3 188.3h1M328.3 164h1M330.4 177.7h1M326.8 188.1h1M327.9 198.9h1M330.1 208.9h1M327.7 184.6h1M330 185.6h1M330 177h1M328 193.7h1M330.5 187.5h1M327.9 189.4h1M328.5 164.1h1M328 187.1h1M329.2 179.7h1M326.9 189.9h1M327.2 184.4h1M330.6 188.1h1M326.6 189.3h1M327.6 201.4h1M329.8 205.2h1M327.1 204.3h1M328.2 196.8h1M326.7 182.3h1M327.1 196.6h1M328.1 191.4h1M330.3 189.8h1M328.5 176.3h1M327.9 186.8h1M326.9 201.7h1M328.9 163h1M327.4 189.8h1M329.3 195.4h1M327.3 162.9h1M327.6 188.3h1M329.3 183.3h1M328.8 194.8h1M326.9 204.2h1M330.3 185.5h1M327 200.2h1M328.9 188.5h1M330.4 197.5h1M328.5 196.7h1M326.7 191.2h1M326.6 171.5h1M328.6 145.8h1M327.3 186.2h1M329.3 155.3h1M329.9 197.8h1M328 180h1M328.9 201.1h1M329.7 207.3h1M326.9 177.7h1M326.5 191.8h1M328.5 174.5h1M326.8 191h1M327.4 196.3h1M329.7 195.2h1M326.7 175.3h1M330.4 173h1M330 188.4h1M328.8 152.7h1M330.2 165.3h1M327.6 171.3h1M329.4 163.9h1M328.2 130.3h1M330.4 170.4h1M327.2 158.3h1M328.4 154.4h1M330.2 145.6h1M330.2 168.7h1M328.7 168.5h1M328.9 168.7h1M326.8 162.2h1M327.4 165.1h1M327.7 123.9h1M328.1 129.6h1M329.7 145.4h1M328.4 132.5h1M327.5 158.5h1M326.7 136.8h1M329.5 159.5h1M327.6 171.5h1M328.5 171.8h1M327.5 150h1M330 152.4h1M328.7 173.2h1M327 103.8h1M327.4 159h1M327 170.7h1M328.8 136.5h1M328.7 150.3h1M329.7 122.7h1M328.1 163.4h1M329.9 151.6h1M330.4 156.9h1M327 135.7h1M328.3 141.2h1M330 145h1M328.4 164.9h1M330.2 134.4h1M328.6 170.4h1M329.5 165.3h1M328.6 135.4h1M327.4 149.4h1M327.2 167.3h1M329.1 173.1h1M329.4 167.7h1M328.9 147.3h1M327.8 166.3h1M329.8 149.6h1M328 161.4h1M329.3 146.8h1M327.9 156.5h1M330.2 170.2h1M328 167.5h1M329.6 164.8h1M328.4 131h1M328.9 147h1M328.6 169.7h1M327.2 152.2h1M329.8 150.9h1M327.3 164.2h1M329.2 169.7h1M329.9 164h1M327.9 146.4h1M328.7 165.5h1M328.9 166.6h1M327.4 131.4h1M327.4 148.1h1M330.4 152.8h1M327.8 156.3h1M329.7 171.1h1M327.2 151h1M329.7 142.7h1M329.8 139h1M329.9 83.1h1M329.8 128.4h1M329.5 50.6h1M329.7 37.8h1M329.4 131.7h1M329.1 65.3h1M328.9 132.4h1M328.4 47.5h1M327.4 127.5h1M327.6 47.8h1M329.6 32.9h1M327.5 93.3h1M328.5 128.3h1M328.5 99.6h1M328.2 95.2h1M327.4 81.1h1M328.9 101.6h1M328 81h1M327.5 117.8h1M328.1 84.7h1M328.4 214.1h1M329.7 221.1h1M330 225.8h1M327.9 216.1h1M326.9 209.8h1M329.8 221.7h1M330.4 227.5h1M327.2 227.5h1M327 220.5h1M327.1 215h1M327.7 208.1h1M328.1 221.3h1M327.5 211.8h1M328.5 219.5h1M327.1 219.8h1M329.4 208.8h1M327.2 215h1M330.3 227.9h1M327.9 220.3h1M329.2 228.4h1M326.8 209.1h1M327.9 220.7h1M330.4 218.6h1M327.7 228.5h1M328.4 216.1h1M327.9 217.5h1M328.8 206.8h1M327.1 210.1h1M328.6 213.8h1M329.2 208.6h1M338.7 201h1M340.4 186h1M337.8 201.7h1M339.7 191.1h1M337.5 184.3h1M340.4 208.4h1M341.3 200.7h1M339 190.7h1M340 153.3h1M337.2 178.6h1M337.7 177.9h1M337.3 185.7h1M338.9 200.7h1M340.4 190.6h1M337.5 200h1M338 177h1M341 170.5h1M341.3 176.3h1M339.1 202h1M337.3 191.6h1M340.1 197.8h1M339.3 196.4h1M339.3 201.4h1M338.2 203.7h1M338 177.5h1M337.3 185.1h1M340.6 187.5h1M339.1 175.2h1M340.6 188.5h1M337.6 215.5h1M338.4 175.3h1M340.8 168.8h1M341.1 186h1M338.1 141.4h1M338.8 185.7h1M341 194.5h1M338.7 206.4h1M341.4 173.9h1M340.8 111.5h1M339.6 180h1M338.7 195.6h1M340.1 196.1h1M340.2 182h1M341.4 178.3h1M339.9 198.9h1M339.2 191.6h1M338.6 197.3h1M341.2 203.9h1M338.5 199.7h1M338 185.9h1M337.9 201.2h1M340.9 192.2h1M337.7 197.7h1M337.9 179.5h1M340.9 185.2h1M339.7 181h1M338.7 160.9h1M341 192.2h1M337.2 206.9h1M338.7 200.8h1M340 192.4h1M338.7 178.3h1M338.9 175.8h1M338.6 189.3h1M341.1 193.9h1M337.8 180h1M340.8 177h1M339.1 176.6h1M339.7 192.8h1M340.6 179.4h1M339.4 186.8h1M338.1 186.3h1M337.2 193.2h1M341.2 205.9h1M341.1 204.3h1M341 184.3h1M338.8 199.7h1M340.6 169.2h1M338.6 190.9h1M340 179.8h1M341 185.8h1M338.7 200.1h1M339.3 203.8h1M338.5 178h1M340.7 183.9h1M337.2 199.6h1M337.7 198.6h1M339 194.5h1M338.8 177.2h1M338.8 166.6h1M338.7 194.3h1M339.4 169.8h1M340.1 199.6h1M341.4 202.2h1M339.2 204.1h1M338.4 210h1M338 200.6h1M338 196.6h1M341.1 189.4h1M337.4 185.8h1M339.3 188h1M339.6 198.6h1M338.1 203.4h1M338 139h1M340.8 187.6h1M338.3 192.1h1M338.6 199.6h1M340.6 191.9h1M339.4 197.6h1M339.6 205.3h1M340.4 182.5h1M339.7 200.2h1M340.3 201.5h1M340.3 151h1M338 200.7h1M340.7 178.4h1M338.4 192.2h1M337.4 176.8h1M337.7 198.6h1M340.6 195h1M337.4 199.1h1M339.2 187.9h1M340.7 204.3h1M338.2 168.2h1M339.3 146.8h1M340.3 179h1M339.5 167h1M337.2 198.1h1M337.8 192.1h1M337.3 180.1h1M340.8 203.9h1M337.4 185.7h1M340.6 188.9h1M340.4 203.7h1M337.5 191.5h1M339.6 177.1h1M340.8 198.8h1M337.4 195.1h1M338.4 175.4h1M341.4 197.3h1M337.7 178.1h1M337.5 187.9h1M339.5 188.4h1M339.2 192.9h1M338.9 187.9h1M339.7 165.9h1M338.1 183h1M338.9 198h1M338.2 167.1h1M340.8 210.7h1M339.8 186.6h1M338.2 184.9h1M340.6 197h1M340.5 189.4h1M338.8 156.4h1M337.8 193.2h1M340.7 204.9h1M341.1 179.7h1M341 177.3h1M338.4 195.6h1M338.1 174.1h1M341.4 197.2h1M339.7 188.7h1M339.9 181.4h1M339.5 213.1h1M339.1 209.7h1M338.1 188.6h1M339.2 203.7h1M341.1 199.4h1M339.7 181.8h1M338.7 180.7h1M338.5 183.3h1M340.9 181.5h1M338.9 200.6h1M339.9 190.4h1M339.6 186.4h1M339.4 192.7h1M339.9 208.3h1M339.3 199.8h1M337.3 204.4h1M340.3 141.2h1M339.4 170.6h1M338.9 161h1M338 157h1M337.8 170.1h1M338 140.1h1M340.1 163.8h1M339 133h1M340.5 172.7h1M339.6 153.7h1M339 167.3h1M339 151.1h1M338.4 145.9h1M339.5 171.7h1M337.6 139.5h1M339 138.3h1M340.1 144.6h1M339.7 158.5h1M341 170.4h1M337.5 164.4h1M340.6 160.2h1M340.6 125.3h1M340.1 170.6h1M340.9 161.4h1M337.5 160h1M339.4 149.1h1M337.6 166.9h1M340 138.5h1M340.9 154.7h1M337.6 164.7h1M339.7 150.4h1M340.4 167.1h1M339.6 141.3h1M340 138.1h1M339.3 125h1M339.1 129.6h1M339.6 152.4h1M338.4 155.5h1M338.6 167.2h1M338.3 146.6h1M341.1 152.1h1M338.8 158.6h1M339.9 130.6h1M338.7 171.8h1M338.8 161.8h1M338.2 170.8h1M339.3 157.7h1M338.3 166.1h1M340.3 132.8h1M338.4 144.1h1M339.6 171h1M341 157.2h1M340.2 166.7h1M337.9 148.2h1M339.2 123.4h1M340.5 163.4h1M338.6 162.7h1M339.6 140.1h1M338 155.4h1M338.4 149.1h1M339.9 165.9h1M340.5 159.9h1M340.6 152.3h1M340.1 155.4h1M340.7 160.1h1M339.4 171.8h1M337.6 161.1h1M338.1 87.3h1M338.4 120.4h1M339.5 135.7h1M340.3 87.1h1M339.6 60.7h1M339.7 99.7h1M339.8 61.7h1M339 88.7h1M340.4 107.4h1M340.4 79h1M339.6 95.2h1M338.6 121.8h1M337.9 132.7h1M338.3 112h1M338.5 87.7h1M338.9 93h1M338.4 92.4h1M339.1 85.2h1M337.8 210.2h1M337.6 207.5h1M340.9 213.4h1M338.1 216.3h1M338.6 213.1h1M340.8 217.2h1M341.1 222h1M337.7 210.3h1M337.9 216.6h1M338.6 219.4h1M338.3 224.5h1M339.2 213.4h1M339.9 209.2h1M338 224.3h1M338.3 210.3h1M338.7 217h1M339.7 212.1h1M338.2 208.5h1M339 210.8h1M338.6 223.2h1M338.2 220.9h1M339.5 213.4h1M338.1 215.6h1M339 206.1h1M339.8 224.8h1M340.5 223.1h1M340.2 222.4h1M342.9 195.3h1M343.3 203.4h1M343.7 194.2h1M343.5 200.7h1M346.7 186.7h1M346.1 174.6h1M344.7 204.6h1M345.9 203.4h1M344.2 199.2h1M345.9 187.2h1M343.9 207.5h1M344.7 200.4h1M346.8 189.7h1M343.3 205.5h1M344.8 191.1h1M342.7 197.5h1M342.7 184.9h1M343.6 187.1h1M346 152.3h1M345 164h1M344.4 185h1M345.2 207.4h1M345.7 167.5h1M344.3 169.2h1M344.4 191.2h1M345.3 143.4h1M344.1 195.3h1M343.2 143.9h1M343 181.9h1M346.4 190.7h1M345.1 210.1h1M344.8 176.4h1M345.1 176.6h1M344.8 201h1M345.1 166.8h1M343.5 170h1M346.6 197.7h1M345.9 189.3h1M343.2 194.5h1M346.1 170.7h1M343.9 177.1h1M345 178.7h1M344.8 194.2h1M343.9 204.4h1M343.5 158.1h1M343 208.5h1M344.9 187.4h1M343.8 197.6h1M345.8 184h1M346.3 162.7h1M345.6 198.6h1M343.8 189.9h1M345.9 199.1h1M344.7 206.4h1M344.7 188.4h1M344.5 192.4h1M343.7 205.6h1M346.5 181.6h1M344.1 202.1h1M345 185.2h1M342.9 186h1M346 180.1h1M344.3 179.1h1M345.6 151h1M346.4 170.7h1M342.7 197.1h1M345 192.1h1M343.8 191.2h1M345.2 193.9h1M342.6 190.3h1M344.7 187.8h1M344.8 177.7h1M343.8 200.6h1M342.9 196.9h1M345.7 199.3h1M345.9 192h1M346.4 184.2h1M344.8 194.9h1M346 203.5h1M344.2 189.4h1M344.6 179.8h1M344 171.8h1M345.5 156.3h1M344 191.5h1M346.1 206.5h1M345.1 209.8h1M343.1 190.6h1M346.6 207.4h1M345.7 182.6h1M344.7 167.6h1M346.3 163.8h1M345.9 158.9h1M342.9 189.9h1M344.8 189.6h1M345.2 199.5h1M344.2 187.3h1M345.4 187.2h1M346.2 201.8h1M345.2 202.7h1M344 187.1h1M343.3 170.4h1M346.8 189.1h1M344.2 197.9h1M343.3 156.8h1M345.7 185.8h1M345.1 198.1h1M343.1 151.3h1M346.8 185.8h1M343.9 191.7h1M344.3 186.9h1M345.4 194.1h1M346 196.6h1M343.5 205.6h1M343.6 183.2h1M345.3 201h1M343.2 200.3h1M344.7 210.7h1M344.7 204.2h1M342.7 185.8h1M342.8 198.5h1M344.9 187.4h1M344.4 185.1h1M345 199.7h1M342.9 175.5h1M343.3 178.3h1M345.1 177.4h1M342.7 192.1h1M344.4 166.7h1M344.4 165.5h1M346.4 181.2h1M343 188.7h1M345.1 194.2h1M342.6 196.7h1M343.8 195.3h1M342.7 193.8h1M343.8 200.1h1M344.6 183.1h1M346.5 195.7h1M345.8 188.1h1M344.5 202.1h1M343.1 164.5h1M344 157.6h1M344.7 129.3h1M344.3 172.2h1M345.6 170.6h1M345.9 172.1h1M345.9 162.1h1M346.5 170.2h1M345.5 171.7h1M344.2 138.5h1M345.3 168.9h1M346.4 161h1M344.3 153.5h1M342.9 168.7h1M346.5 168.6h1M346 169.1h1M344.4 139.3h1M343.2 166.2h1M342.9 163.6h1M342.8 145.3h1M346.5 169h1M343.5 154.4h1M346.2 162.7h1M345.4 112.5h1M345.2 160.2h1M345.3 166.6h1M344 166.1h1M345.4 119.7h1M343.4 129.9h1M345.8 172.8h1M342.8 151.7h1M346.1 171.5h1M346.2 165.8h1M344.7 148.3h1M343 171.3h1M346 167.5h1M346.5 147.7h1M345.4 165.2h1M344.7 167h1M344.4 167.9h1M344.7 154.6h1M345.6 159.1h1M346.6 143.4h1M343.6 133h1M346.2 147.3h1M345.5 158.8h1M345.5 107.2h1M343.6 161h1M343.1 115.6h1M343 161.5h1M344.8 152.7h1M345.8 158.9h1M344.9 60.5h1M343.9 85.1h1M345.5 99.4h1M345.4 69.6h1M345.8 75h1M345.7 135.4h1M345.7 54.3h1M343.7 64.7h1M345.1 64h1M344.8 71.6h1M344.9 91.8h1M343.7 103.1h1M346.1 129.2h1M344.8 136.1h1M344.6 220.4h1M343.9 209.2h1M345.7 207.2h1M343.2 208.3h1M345.1 225.1h1M344.6 226.8h1M343.6 213.8h1M346.3 223.9h1M343.3 218.1h1M346 216.3h1M344.7 215.6h1M346 207.7h1M344.4 218.9h1M344.3 225.1h1M344.9 214.3h1M343.9 228.2h1M343.2 207.1h1M346.1 222.3h1M343.9 215.3h1M344 223h1M345.1 207.9h1M349.3 202.5h1M351.7 194.3h1M348.9 187.9h1M348.7 212.4h1M350.1 193.5h1M351.5 214.2h1M349.6 185.7h1M351.1 209.8h1M348.3 198h1M349.6 178.9h1M350.6 177.3h1M348.1 201.7h1M350 211.3h1M350.2 190.3h1M349.8 187.5h1M350.7 178.8h1M349.3 175.3h1M349.3 177.5h1M352.1 192.1h1M351.5 201.7h1M350.6 187.6h1M350.1 204.3h1M349.2 199.1h1M351.6 211.8h1M349.6 175.6h1M348 175.6h1M350.4 190.7h1M348.9 183h1M350.7 185.7h1M350 191.9h1M348.8 208.6h1M351.7 177.7h1M349.4 192.4h1M350.5 210h1M349.6 194.4h1M349.8 201.5h1M351.3 194.8h1M349.3 207.9h1M351.8 201.9h1M351.8 213.5h1" stroke="#737373" stroke-width="1" fill="none"/>
<path d="M226.5 174V205M231.9 174V205M237.3 174V205M242.7 174V205M248.1 174V205M253.5 174V205M258.9 174V205M264.3 174V205M269.7 174V205M275.1 174V205M280.5 174V205M285.9 174V205M291.3 174V205M296.6 174V205M302 174V205M307.4 174V205M312.8 174V205M318.2 174V205M323.6 174V205M329 174V205M339.8 174V205M345.2 174V205" stroke="#d8d8d8" stroke-width="0.5" stroke-opacity="0.7" fill="none"/>
<line x1="334.4" y1="93.4" x2="334.4" y2="230" stroke="#333" stroke-width="0.6"/>
<g fill="#c6389c" stroke="#8a2070" stroke-width="0.25"><circle cx="334.7" cy="101" r="1.15"/><circle cx="334.4" cy="108" r="1.15"/><circle cx="333.6" cy="117" r="1.15"/><circle cx="336" cy="117" r="1.15"/><circle cx="334" cy="122" r="1.15"/><circle cx="335.5" cy="126" r="1.15"/><circle cx="334.4" cy="204.5" r="1.15"/><circle cx="335" cy="217.6" r="1.15"/><circle cx="334" cy="221.6" r="1.15"/><circle cx="334.5" cy="164.8" r="1.15"/><circle cx="335.3" cy="188.9" r="1.15"/><circle cx="333.2" cy="157.2" r="1.15"/><circle cx="333.1" cy="167.1" r="1.15"/><circle cx="335.7" cy="154.6" r="1.15"/><circle cx="335.6" cy="204.9" r="1.15"/><circle cx="333.8" cy="203.5" r="1.15"/><circle cx="333.4" cy="188" r="1.15"/><circle cx="334" cy="179.3" r="1.15"/><circle cx="334.8" cy="145" r="1.15"/><circle cx="334.4" cy="157.8" r="1.15"/><circle cx="333.8" cy="164.2" r="1.15"/><circle cx="333.6" cy="186.7" r="1.15"/><circle cx="335.5" cy="150.6" r="1.15"/><circle cx="333.7" cy="154.9" r="1.15"/><circle cx="334.2" cy="168.4" r="1.15"/><circle cx="333.9" cy="153.9" r="1.15"/><circle cx="335.6" cy="157.6" r="1.15"/><circle cx="334.2" cy="204.9" r="1.15"/><circle cx="334" cy="177.7" r="1.15"/><circle cx="334.3" cy="174.6" r="1.15"/><circle cx="333.5" cy="150.5" r="1.15"/><circle cx="334" cy="164" r="1.15"/><circle cx="334.4" cy="182.6" r="1.15"/><circle cx="335.2" cy="157.8" r="1.15"/><circle cx="333.6" cy="153.1" r="1.15"/><circle cx="333.7" cy="183.1" r="1.15"/><circle cx="335.3" cy="174.3" r="1.15"/><circle cx="335.3" cy="173.6" r="1.15"/><circle cx="335.1" cy="205.1" r="1.15"/><circle cx="333.2" cy="156.8" r="1.15"/><circle cx="334.2" cy="143.5" r="1.15"/><circle cx="335.1" cy="141.5" r="1.15"/><circle cx="334.9" cy="171.4" r="1.15"/><circle cx="335.1" cy="162.2" r="1.15"/><circle cx="334.1" cy="160" r="1.15"/><circle cx="334.6" cy="184" r="1.15"/><circle cx="334.6" cy="149.4" r="1.15"/><circle cx="335.7" cy="144.6" r="1.15"/><circle cx="335.5" cy="186.5" r="1.15"/><circle cx="333.9" cy="155.2" r="1.15"/><circle cx="334" cy="154.9" r="1.15"/><circle cx="334.1" cy="145" r="1.15"/><circle cx="334.8" cy="185.1" r="1.15"/><circle cx="335.2" cy="151.7" r="1.15"/><circle cx="334.3" cy="171.8" r="1.15"/><circle cx="333.7" cy="175.7" r="1.15"/><circle cx="334" cy="189.5" r="1.15"/><circle cx="333.6" cy="176.3" r="1.15"/><circle cx="334.5" cy="173.9" r="1.15"/><circle cx="333.9" cy="149.9" r="1.15"/><circle cx="334.1" cy="161.9" r="1.15"/><circle cx="334.5" cy="188.6" r="1.15"/><circle cx="334.4" cy="138.3" r="1.15"/><circle cx="333.5" cy="175.3" r="1.15"/><circle cx="335.5" cy="150.1" r="1.15"/><circle cx="333.1" cy="137.7" r="1.15"/><circle cx="333.5" cy="147.6" r="1.15"/><circle cx="334.5" cy="187.9" r="1.15"/><circle cx="334.8" cy="163.3" r="1.15"/><circle cx="334.6" cy="157" r="1.15"/><circle cx="335.6" cy="163.7" r="1.15"/><circle cx="334.9" cy="182.6" r="1.15"/><circle cx="335.3" cy="160.5" r="1.15"/><circle cx="334" cy="172" r="1.15"/><circle cx="334.9" cy="157.5" r="1.15"/><circle cx="334.4" cy="165.7" r="1.15"/><circle cx="335.6" cy="148" r="1.15"/><circle cx="334.6" cy="186.9" r="1.15"/><circle cx="334.5" cy="143.4" r="1.15"/><circle cx="334.4" cy="175.7" r="1.15"/><circle cx="333.6" cy="145.7" r="1.15"/><circle cx="335.1" cy="195.6" r="1.15"/><circle cx="333.3" cy="166.3" r="1.15"/><circle cx="335.4" cy="203.5" r="1.15"/></g>
<line x1="356" y1="184.3" x2="356" y2="197.5" stroke="#999" stroke-width="0.5"/>
<path d="M356 185.8 L358 188.6 L356 191.4 L354 188.6 Z" fill="#fff" stroke="#555" stroke-width="0.55"/>
<rect x="220.6" y="26.8" width="140" height="207" fill="none" stroke="#333" stroke-width="0.9"/>
<line x1="218.2" y1="230.2" x2="220.6" y2="230.2" stroke="#333" stroke-width="0.7"/>
<text x="0" y="0" font-size="8.8" text-anchor="middle" fill="#222" transform="translate(216.4 230.6) rotate(-90)" stroke="#222" stroke-width="0.05">0</text>
<line x1="218.2" y1="189.5" x2="220.6" y2="189.5" stroke="#333" stroke-width="0.7"/>
<text x="0" y="0" font-size="8.8" text-anchor="middle" fill="#222" transform="translate(216.4 189.9) rotate(-90)" stroke="#222" stroke-width="0.05">1</text>
<line x1="218.2" y1="148.8" x2="220.6" y2="148.8" stroke="#333" stroke-width="0.7"/>
<text x="0" y="0" font-size="8.8" text-anchor="middle" fill="#222" transform="translate(216.4 149.2) rotate(-90)" stroke="#222" stroke-width="0.05">2</text>
<line x1="218.2" y1="108.1" x2="220.6" y2="108.1" stroke="#333" stroke-width="0.7"/>
<text x="0" y="0" font-size="8.8" text-anchor="middle" fill="#222" transform="translate(216.4 108.5) rotate(-90)" stroke="#222" stroke-width="0.05">3</text>
<line x1="218.2" y1="67.4" x2="220.6" y2="67.4" stroke="#333" stroke-width="0.7"/>
<text x="0" y="0" font-size="8.8" text-anchor="middle" fill="#222" transform="translate(216.4 67.8) rotate(-90)" stroke="#222" stroke-width="0.05">4</text>
<line x1="218.2" y1="26.7" x2="220.6" y2="26.7" stroke="#333" stroke-width="0.7"/>
<text x="0" y="0" font-size="8.8" text-anchor="middle" fill="#222" transform="translate(216.4 27.1) rotate(-90)" stroke="#222" stroke-width="0.05">5</text>
<text x="0" y="0" font-size="8.8" text-anchor="middle" fill="#d064b8" transform="translate(216.4 169.9) rotate(-90)" stroke="#d064b8" stroke-width="0.05">1.5</text>
<line x1="226.5" y1="233.8" x2="226.5" y2="235.8" stroke="#333" stroke-width="0.6"/>
<text x="0" y="0" font-size="5.8" text-anchor="end" fill="#1a1a1a" transform="translate(228.5 238.5) rotate(-45)" stroke="#1a1a1a" stroke-width="0.05">chr1</text>
<line x1="231.9" y1="233.8" x2="231.9" y2="235.8" stroke="#333" stroke-width="0.6"/>
<text x="0" y="0" font-size="5.8" text-anchor="end" fill="#1a1a1a" transform="translate(233.9 238.5) rotate(-45)" stroke="#1a1a1a" stroke-width="0.05">chr2</text>
<line x1="237.3" y1="233.8" x2="237.3" y2="235.8" stroke="#333" stroke-width="0.6"/>
<text x="0" y="0" font-size="5.8" text-anchor="end" fill="#1a1a1a" transform="translate(239.3 238.5) rotate(-45)" stroke="#1a1a1a" stroke-width="0.05">chr3</text>
<line x1="242.7" y1="233.8" x2="242.7" y2="235.8" stroke="#333" stroke-width="0.6"/>
<text x="0" y="0" font-size="5.8" text-anchor="end" fill="#1a1a1a" transform="translate(244.7 238.5) rotate(-45)" stroke="#1a1a1a" stroke-width="0.05">chr4</text>
<line x1="248.1" y1="233.8" x2="248.1" y2="235.8" stroke="#333" stroke-width="0.6"/>
<text x="0" y="0" font-size="5.8" text-anchor="end" fill="#1a1a1a" transform="translate(250.1 238.5) rotate(-45)" stroke="#1a1a1a" stroke-width="0.05">chr5</text>
<line x1="253.5" y1="233.8" x2="253.5" y2="235.8" stroke="#333" stroke-width="0.6"/>
<text x="0" y="0" font-size="5.8" text-anchor="end" fill="#1a1a1a" transform="translate(255.5 238.5) rotate(-45)" stroke="#1a1a1a" stroke-width="0.05">chr6</text>
<line x1="258.9" y1="233.8" x2="258.9" y2="235.8" stroke="#333" stroke-width="0.6"/>
<text x="0" y="0" font-size="5.8" text-anchor="end" fill="#1a1a1a" transform="translate(260.9 238.5) rotate(-45)" stroke="#1a1a1a" stroke-width="0.05">chr7</text>
<line x1="264.3" y1="233.8" x2="264.3" y2="235.8" stroke="#333" stroke-width="0.6"/>
<text x="0" y="0" font-size="5.8" text-anchor="end" fill="#1a1a1a" transform="translate(266.3 238.5) rotate(-45)" stroke="#1a1a1a" stroke-width="0.05">chr8</text>
<line x1="269.7" y1="233.8" x2="269.7" y2="235.8" stroke="#333" stroke-width="0.6"/>
<text x="0" y="0" font-size="5.8" text-anchor="end" fill="#1a1a1a" transform="translate(271.7 238.5) rotate(-45)" stroke="#1a1a1a" stroke-width="0.05">chr9</text>
<line x1="275.1" y1="233.8" x2="275.1" y2="235.8" stroke="#333" stroke-width="0.6"/>
<text x="0" y="0" font-size="5.8" text-anchor="end" fill="#1a1a1a" transform="translate(277.1 238.5) rotate(-45)" stroke="#1a1a1a" stroke-width="0.05">chr10</text>
<line x1="280.5" y1="233.8" x2="280.5" y2="235.8" stroke="#333" stroke-width="0.6"/>
<text x="0" y="0" font-size="5.8" text-anchor="end" fill="#1a1a1a" transform="translate(282.5 238.5) rotate(-45)" stroke="#1a1a1a" stroke-width="0.05">chr11</text>
<line x1="285.9" y1="233.8" x2="285.9" y2="235.8" stroke="#333" stroke-width="0.6"/>
<text x="0" y="0" font-size="5.8" text-anchor="end" fill="#1a1a1a" transform="translate(287.9 238.5) rotate(-45)" stroke="#1a1a1a" stroke-width="0.05">chr12</text>
<line x1="291.3" y1="233.8" x2="291.3" y2="235.8" stroke="#333" stroke-width="0.6"/>
<text x="0" y="0" font-size="5.8" text-anchor="end" fill="#1a1a1a" transform="translate(293.3 238.5) rotate(-45)" stroke="#1a1a1a" stroke-width="0.05">chr13</text>
<line x1="296.6" y1="233.8" x2="296.6" y2="235.8" stroke="#333" stroke-width="0.6"/>
<text x="0" y="0" font-size="5.8" text-anchor="end" fill="#1a1a1a" transform="translate(298.6 238.5) rotate(-45)" stroke="#1a1a1a" stroke-width="0.05">chr14</text>
<line x1="302" y1="233.8" x2="302" y2="235.8" stroke="#333" stroke-width="0.6"/>
<text x="0" y="0" font-size="5.8" text-anchor="end" fill="#1a1a1a" transform="translate(304 238.5) rotate(-45)" stroke="#1a1a1a" stroke-width="0.05">chr15</text>
<line x1="307.4" y1="233.8" x2="307.4" y2="235.8" stroke="#333" stroke-width="0.6"/>
<text x="0" y="0" font-size="5.8" text-anchor="end" fill="#1a1a1a" transform="translate(309.4 238.5) rotate(-45)" stroke="#1a1a1a" stroke-width="0.05">chr16</text>
<line x1="312.8" y1="233.8" x2="312.8" y2="235.8" stroke="#333" stroke-width="0.6"/>
<text x="0" y="0" font-size="5.8" text-anchor="end" fill="#1a1a1a" transform="translate(314.8 238.5) rotate(-45)" stroke="#1a1a1a" stroke-width="0.05">chr17</text>
<line x1="318.2" y1="233.8" x2="318.2" y2="235.8" stroke="#333" stroke-width="0.6"/>
<text x="0" y="0" font-size="5.8" text-anchor="end" fill="#1a1a1a" transform="translate(320.2 238.5) rotate(-45)" stroke="#1a1a1a" stroke-width="0.05">chr18</text>
<line x1="323.6" y1="233.8" x2="323.6" y2="235.8" stroke="#333" stroke-width="0.6"/>
<text x="0" y="0" font-size="5.8" text-anchor="end" fill="#1a1a1a" transform="translate(325.6 238.5) rotate(-45)" stroke="#1a1a1a" stroke-width="0.05">chr19</text>
<line x1="329" y1="233.8" x2="329" y2="235.8" stroke="#333" stroke-width="0.6"/>
<text x="0" y="0" font-size="5.8" text-anchor="end" fill="#1a1a1a" transform="translate(331 238.5) rotate(-45)" stroke="#1a1a1a" stroke-width="0.05">chr20</text>
<line x1="334.4" y1="233.8" x2="334.4" y2="235.8" stroke="#333" stroke-width="0.6"/>
<text x="0" y="0" font-size="5.8" text-anchor="end" fill="#c6389c" transform="translate(336.4 238.5) rotate(-45)" stroke="#c6389c" stroke-width="0.05">chr21</text>
<line x1="339.8" y1="233.8" x2="339.8" y2="235.8" stroke="#333" stroke-width="0.6"/>
<text x="0" y="0" font-size="5.8" text-anchor="end" fill="#1a1a1a" transform="translate(341.8 238.5) rotate(-45)" stroke="#1a1a1a" stroke-width="0.05">chr22</text>
<line x1="345.2" y1="233.8" x2="345.2" y2="235.8" stroke="#333" stroke-width="0.6"/>
<text x="0" y="0" font-size="5.8" text-anchor="end" fill="#1a1a1a" transform="translate(347.2 238.5) rotate(-45)" stroke="#1a1a1a" stroke-width="0.05">chrX</text>
<line x1="350.6" y1="233.8" x2="350.6" y2="235.8" stroke="#333" stroke-width="0.6"/>
<text x="0" y="0" font-size="5.8" text-anchor="end" fill="#1a1a1a" transform="translate(352.6 238.5) rotate(-45)" stroke="#1a1a1a" stroke-width="0.05">chrY</text>
<line x1="356" y1="233.8" x2="356" y2="235.8" stroke="#333" stroke-width="0.6"/>
<text x="0" y="0" font-size="5.8" text-anchor="end" fill="#1a1a1a" transform="translate(358 238.5) rotate(-45)" stroke="#1a1a1a" stroke-width="0.05">MT</text>
<text x="0" y="0" font-size="10.45" text-anchor="middle" fill="#222" transform="translate(188.4 126) rotate(-90)" stroke="#222" stroke-width="0.05">Median pooled fold-change</text>
<text x="0" y="0" font-size="10.3" text-anchor="middle" fill="#222" transform="translate(201.9 127.6) rotate(-90)" stroke="#222" stroke-width="0.05">per chromosome</text>
<text x="183.2" y="16.9" font-size="23.6" font-weight="bold" fill="#000">B</text>
<path d="M404.24 28.51h1.58V232.1h-1.58zM406.08 42.79h1.58V232.1h-1.58zM407.93 143.35h1.58V232.1h-1.58zM409.77 144.54h1.58V232.1h-1.58zM411.61 149.3h1.58V232.1h-1.58zM413.45 162.99h1.58V232.1h-1.58zM415.29 163.58h1.58V232.1h-1.58zM417.13 168.94h1.58V232.1h-1.58zM418.98 171.31h1.58V232.1h-1.58zM420.82 173.1h1.58V232.1h-1.58zM422.66 173.99h1.58V232.1h-1.58zM424.5 174.88h1.58V232.1h-1.58zM426.35 175.88h1.58V232.1h-1.58zM428.19 176.87h1.58V232.1h-1.58zM430.03 177.86h1.58V232.1h-1.58zM431.87 178.85h1.58V232.1h-1.58zM433.71 179.84h1.58V232.1h-1.58zM435.56 180.83h1.58V232.1h-1.58zM437.4 182.03h1.58V232.1h-1.58zM439.24 183.22h1.58V232.1h-1.58zM441.08 184.09h1.58V232.1h-1.58zM442.92 184.96h1.58V232.1h-1.58zM444.76 185.83h1.58V232.1h-1.58zM446.61 186.55h1.58V232.1h-1.58zM448.45 187.26h1.58V232.1h-1.58zM450.29 187.97h1.58V232.1h-1.58zM452.13 188.69h1.58V232.1h-1.58zM453.98 189.4h1.58V232.1h-1.58zM455.82 189.79h1.58V232.1h-1.58zM457.66 190.19h1.58V232.1h-1.58zM459.5 190.58h1.58V232.1h-1.58zM461.34 190.97h1.58V232.1h-1.58zM463.19 191.36h1.58V232.1h-1.58zM465.03 191.75h1.58V232.1h-1.58zM466.87 192.14h1.58V232.1h-1.58zM468.71 192.44h1.58V232.1h-1.58zM470.55 192.73h1.58V232.1h-1.58zM472.4 193.03h1.58V232.1h-1.58zM474.24 193.33h1.58V232.1h-1.58zM476.08 193.63h1.58V232.1h-1.58zM477.92 193.84h1.58V232.1h-1.58zM479.76 194.04h1.58V232.1h-1.58zM481.61 194.25h1.58V232.1h-1.58zM483.45 194.46h1.58V232.1h-1.58zM485.29 194.67h1.58V232.1h-1.58zM487.13 194.88h1.58V232.1h-1.58zM488.97 195.09h1.58V232.1h-1.58zM490.81 195.29h1.58V232.1h-1.58zM492.66 195.5h1.58V232.1h-1.58zM494.5 195.71h1.58V232.1h-1.58zM496.34 195.83h1.58V232.1h-1.58zM498.18 195.95h1.58V232.1h-1.58zM500.03 196.07h1.58V232.1h-1.58zM501.87 196.19h1.58V232.1h-1.58zM503.71 196.31h1.58V232.1h-1.58zM505.55 196.42h1.58V232.1h-1.58zM507.39 196.54h1.58V232.1h-1.58zM509.24 196.66h1.58V232.1h-1.58zM511.08 196.78h1.58V232.1h-1.58zM512.92 196.9h1.58V232.1h-1.58zM514.76 197.03h1.58V232.1h-1.58zM516.6 197.16h1.58V232.1h-1.58zM518.44 197.28h1.58V232.1h-1.58zM520.29 197.41h1.58V232.1h-1.58zM522.13 197.54h1.58V232.1h-1.58zM523.97 197.66h1.58V232.1h-1.58zM525.81 197.79h1.58V232.1h-1.58zM527.65 197.91h1.58V232.1h-1.58zM529.5 198.02h1.58V232.1h-1.58zM531.34 198.14h1.58V232.1h-1.58zM533.18 198.25h1.58V232.1h-1.58zM535.02 198.36h1.58V232.1h-1.58zM536.86 198.48h1.58V232.1h-1.58zM538.71 198.59h1.58V232.1h-1.58zM540.55 198.71h1.58V232.1h-1.58zM542.39 198.82h1.58V232.1h-1.58zM544.23 198.94h1.58V232.1h-1.58zM546.07 199.05h1.58V232.1h-1.58zM547.92 199.17h1.58V232.1h-1.58zM549.76 199.28h1.58V232.1h-1.58zM551.6 199.35h1.58V232.1h-1.58zM553.44 199.42h1.58V232.1h-1.58zM555.28 199.49h1.58V232.1h-1.58zM557.13 199.56h1.58V232.1h-1.58zM558.97 199.63h1.58V232.1h-1.58zM560.81 199.7h1.58V232.1h-1.58zM562.65 199.77h1.58V232.1h-1.58zM564.5 199.84h1.58V232.1h-1.58zM566.34 199.9h1.58V232.1h-1.58zM568.18 199.97h1.58V232.1h-1.58zM570.02 200.04h1.58V232.1h-1.58zM571.86 200.11h1.58V232.1h-1.58zM573.7 200.17h1.58V232.1h-1.58zM575.55 200.23h1.58V232.1h-1.58zM577.39 200.29h1.58V232.1h-1.58zM579.23 200.35h1.58V232.1h-1.58zM581.07 200.41h1.58V232.1h-1.58zM582.91 200.47h1.58V232.1h-1.58zM584.76 200.56h1.58V232.1h-1.58zM586.6 200.64h1.58V232.1h-1.58zM588.44 200.72h1.58V232.1h-1.58zM590.28 200.81h1.58V232.1h-1.58zM592.12 200.89h1.58V232.1h-1.58zM593.97 200.98h1.58V232.1h-1.58zM595.81 201.06h1.58V232.1h-1.58zM597.65 201.2h1.58V232.1h-1.58zM599.49 201.33h1.58V232.1h-1.58zM601.33 201.46h1.58V232.1h-1.58zM603.18 201.59h1.58V232.1h-1.58zM605.02 201.73h1.58V232.1h-1.58zM606.86 201.86h1.58V232.1h-1.58zM608.7 201.99h1.58V232.1h-1.58zM610.54 202.12h1.58V232.1h-1.58zM612.39 202.25h1.58V232.1h-1.58zM614.23 202.37h1.58V232.1h-1.58zM616.07 202.48h1.58V232.1h-1.58zM617.91 202.59h1.58V232.1h-1.58zM619.75 202.7h1.58V232.1h-1.58zM621.6 202.81h1.58V232.1h-1.58zM623.44 202.92h1.58V232.1h-1.58zM625.28 203.04h1.58V232.1h-1.58zM627.12 203.15h1.58V232.1h-1.58zM628.96 203.34h1.58V232.1h-1.58zM630.81 203.54h1.58V232.1h-1.58zM632.65 203.73h1.58V232.1h-1.58zM634.49 203.93h1.58V232.1h-1.58zM636.33 204.12h1.58V232.1h-1.58zM638.17 204.32h1.58V232.1h-1.58zM640.02 204.52h1.58V232.1h-1.58zM641.86 204.72h1.58V232.1h-1.58zM643.7 204.92h1.58V232.1h-1.58zM645.54 205.12h1.58V232.1h-1.58zM647.38 205.33h1.58V232.1h-1.58zM649.23 205.53h1.58V232.1h-1.58zM651.07 205.9h1.58V232.1h-1.58zM652.91 206.27h1.58V232.1h-1.58zM654.75 206.64h1.58V232.1h-1.58zM656.59 207.01h1.58V232.1h-1.58zM658.44 207.41h1.58V232.1h-1.58zM660.28 207.81h1.58V232.1h-1.58zM662.12 208.2h1.58V232.1h-1.58zM663.96 208.5h1.58V232.1h-1.58zM665.8 208.8h1.58V232.1h-1.58zM667.65 209.1h1.58V232.1h-1.58zM669.49 210.91h1.58V232.1h-1.58zM671.33 212.73h1.58V232.1h-1.58zM673.17 214.33h1.58V232.1h-1.58zM675.01 215.94h1.58V232.1h-1.58zM676.86 218.62h1.58V232.1h-1.58z" fill="#ecc9e7"/>
<path d="M417.94 168.94V232.1 M445.57 185.83V232.1 M454.78 189.4V232.1 M495.3 195.71V232.1 M526.61 197.79V232.1 M570.82 200.04V232.1 M581.87 200.41V232.1 M613.19 202.25V232.1 M640.82 204.52V232.1" stroke="#c6389c" stroke-width="1.4" fill="none"/>
<line x1="402.6" y1="25.5" x2="402.6" y2="233" stroke="#444" stroke-width="0.7"/>
<line x1="402.3" y1="233.7" x2="677.8" y2="233.7" stroke="#929292" stroke-width="1.7"/>
<line x1="400.3" y1="232.6" x2="402.6" y2="232.6" stroke="#333" stroke-width="0.7"/>
<text x="0" y="0" font-size="8.8" text-anchor="middle" fill="#222" transform="translate(399.3 232.6) rotate(-90)" stroke="#222" stroke-width="0.05">0</text>
<line x1="400.3" y1="173.1" x2="402.6" y2="173.1" stroke="#333" stroke-width="0.7"/>
<text x="0" y="0" font-size="8.8" text-anchor="middle" fill="#222" transform="translate(399.3 173.1) rotate(-90)" stroke="#222" stroke-width="0.05">1</text>
<line x1="400.3" y1="113.6" x2="402.6" y2="113.6" stroke="#333" stroke-width="0.7"/>
<text x="0" y="0" font-size="8.8" text-anchor="middle" fill="#222" transform="translate(399.3 113.6) rotate(-90)" stroke="#222" stroke-width="0.05">2</text>
<line x1="400.3" y1="54.1" x2="402.6" y2="54.1" stroke="#333" stroke-width="0.7"/>
<text x="0" y="0" font-size="8.8" text-anchor="middle" fill="#222" transform="translate(399.3 54.1) rotate(-90)" stroke="#222" stroke-width="0.05">3</text>
<line x1="405.3" y1="234.4" x2="405.3" y2="236.4" stroke="#333" stroke-width="0.7"/>
<text x="405.3" y="243.8" font-size="8.6" text-anchor="middle" fill="#222" stroke="#222" stroke-width="0.05">1</text>
<line x1="495.4" y1="234.4" x2="495.4" y2="236.4" stroke="#333" stroke-width="0.7"/>
<text x="495.4" y="243.8" font-size="8.6" text-anchor="middle" fill="#222" stroke="#222" stroke-width="0.05">50</text>
<line x1="589.3" y1="234.4" x2="589.3" y2="236.4" stroke="#333" stroke-width="0.7"/>
<text x="589.3" y="243.8" font-size="8.6" text-anchor="middle" fill="#222" stroke="#222" stroke-width="0.05">100</text>
<line x1="677.3" y1="234.4" x2="677.3" y2="236.4" stroke="#333" stroke-width="0.7"/>
<text x="677.3" y="243.8" font-size="8.6" text-anchor="middle" fill="#222" stroke="#222" stroke-width="0.05">149</text>
<text x="452.2" y="255.8" font-size="8.8" fill="#222" textLength="179" lengthAdjust="spacingAndGlyphs" stroke="#222" stroke-width="0.05">Ranked significant Chr 21 genes (FDR&lt;1%)</text>
<text x="0" y="0" font-size="10.25" text-anchor="middle" fill="#222" transform="translate(383.9 129.7) rotate(-90)" stroke="#222" stroke-width="0.05">Pooled log<tspan font-size="6.8" dy="1.8">2</tspan><tspan dy="-1.8"> Fold-change</tspan></text>
<text x="372.7" y="17.5" font-size="23.6" font-weight="bold" fill="#000">C</text>
<text x="420.5" y="157.5" font-size="9.0" font-style="italic" fill="#c6389c" textLength="26.3" lengthAdjust="spacingAndGlyphs" stroke="#c6389c" stroke-width="0.05">RIPK4</text>
<text x="448.9" y="174.6" font-size="9.0" font-style="italic" fill="#c6389c" textLength="18.1" lengthAdjust="spacingAndGlyphs" stroke="#c6389c" stroke-width="0.05">MX1</text>
<text x="480.1" y="166.5" font-size="9.0" font-style="italic" fill="#c6389c" textLength="30.3" lengthAdjust="spacingAndGlyphs" stroke="#c6389c" stroke-width="0.05">IL10RB</text>
<text x="497.7" y="189.6" font-size="9.0" font-style="italic" fill="#c6389c" textLength="31.8" lengthAdjust="spacingAndGlyphs" stroke="#c6389c" stroke-width="0.05">IFNAR1</text>
<text x="538.5" y="189.6" font-size="9.0" font-style="italic" fill="#c6389c" textLength="18.4" lengthAdjust="spacingAndGlyphs" stroke="#c6389c" stroke-width="0.05">APP</text>
<text x="576.9" y="176.1" font-size="9.0" font-style="italic" fill="#c6389c" textLength="31.5" lengthAdjust="spacingAndGlyphs" stroke="#c6389c" stroke-width="0.05">IFNAR2</text>
<text x="588.7" y="190.1" font-size="9.0" font-style="italic" fill="#c6389c" textLength="35.5" lengthAdjust="spacingAndGlyphs" stroke="#c6389c" stroke-width="0.05">ADARB1</text>
<text x="635" y="190.1" font-size="9.0" font-style="italic" fill="#c6389c" textLength="32.5" lengthAdjust="spacingAndGlyphs" stroke="#c6389c" stroke-width="0.05">IFNGR2</text>
<text x="647.3" y="200.7" font-size="9.0" font-style="italic" fill="#c6389c" textLength="36" lengthAdjust="spacingAndGlyphs" stroke="#c6389c" stroke-width="0.05">DYRK1A</text>
<path d="M418.2 164.5L420.6 157.6 M445.8 183.5L449.6 174.8 M455.2 187.5L480.4 167.2 M495.5 193.5L498.5 190.2 M526.6 196.2L538.2 190 M571 198.5L576.8 177 M582.2 198.5L588.8 190.6 M612.9 200.6L634.8 190.4 M640.6 203.4L647.2 200.9" stroke="#c6389c" stroke-width="0.5" fill="none"/>
<text x="-0.7" y="288" font-size="24" font-weight="bold" fill="#000">D</text>
<text x="16.6" y="295.9" font-size="8.75" font-weight="bold" fill="#c6389c" stroke="#c6389c" stroke-width="0.05">Meta-analysis (Control vs T21): <tspan font-weight="normal" font-style="italic">ADARB1</tspan></text>
<line x1="17.5" y1="299.6" x2="335.8" y2="299.6" stroke="#747474" stroke-width="1.2"/>
<text x="129.8" y="305.6" font-size="6" font-weight="bold" textLength="55.6" lengthAdjust="spacingAndGlyphs" stroke="#111" stroke-width="0.05">Number of samples</text>
<text x="18.4" y="312.9" font-size="6" font-weight="bold" stroke="#111" stroke-width="0.05">Study</text>
<text x="62.6" y="312.9" font-size="6" font-weight="bold" stroke="#111" stroke-width="0.05">Cell type / Tissue type</text>
<text x="138.8" y="312.9" font-size="6" fill="#222" textLength="19.3" lengthAdjust="spacingAndGlyphs" stroke="#222" stroke-width="0.05">Control</text>
<text x="161.6" y="312.9" font-size="6" fill="#222" textLength="13.7" lengthAdjust="spacingAndGlyphs" stroke="#222" stroke-width="0.05">TS21</text>
<text x="236.8" y="312.9" font-size="6" text-anchor="end" font-weight="bold" textLength="45" lengthAdjust="spacingAndGlyphs" stroke="#111" stroke-width="0.05">RE est. [LB, LU]</text>
<line x1="17.5" y1="315.5" x2="335.8" y2="315.5" stroke="#747474" stroke-width="1.1"/>
<path d="M17.5 319.05H335.8V326.8H17.5ZM17.5 334.95H335.8V342.7H17.5ZM17.5 350.85H335.8V358.6H17.5ZM17.5 366.75H335.8V374.5H17.5ZM17.5 382.65H335.8V390.4H17.5ZM17.5 398.55H335.8V406.3H17.5ZM17.5 414.45H335.8V422.2H17.5ZM17.5 430.35H335.8V438.1H17.5ZM17.5 446.25H335.8V454H17.5Z" fill="#f1f1f6"/>
<line x1="263" y1="316.5" x2="263" y2="476.1" stroke="#2a2a2a" stroke-width="1.0" stroke-dasharray="2.4 1.6"/>
<g font-size="6" fill="#2a2a2a" stroke="#2a2a2a" stroke-width="0.05"><text x="18.4" y="325.1" stroke="#111" stroke-width="0.05">GSE55504</text><text x="62.6" y="325.1" stroke="#111" stroke-width="0.05">Fetal primary fibroblasts</text><text x="148.5" y="325.1" text-anchor="middle" stroke="#111" stroke-width="0.05">6</text><text x="168.1" y="325.1" text-anchor="middle" stroke="#111" stroke-width="0.05">6</text><text x="236.8" y="325.1" text-anchor="end" stroke="#111" stroke-width="0.05">0.04 [–0.45, 0.54]</text><text x="18.4" y="333.07" stroke="#111" stroke-width="0.05">GSE128621</text><text x="62.6" y="333.07" stroke="#111" stroke-width="0.05">WBCs</text><text x="148.5" y="333.07" text-anchor="middle" stroke="#111" stroke-width="0.05">6</text><text x="168.1" y="333.07" text-anchor="middle" stroke="#111" stroke-width="0.05">8</text><text x="236.8" y="333.07" text-anchor="end" stroke="#111" stroke-width="0.05">0.14 [–0.08, 0.36]</text><text x="18.4" y="341.04" stroke="#111" stroke-width="0.05">GSE101942</text><text x="62.6" y="341.04" stroke="#111" stroke-width="0.05">Cortical neurons</text><text x="148.5" y="341.04" text-anchor="middle" stroke="#111" stroke-width="0.05">3</text><text x="168.1" y="341.04" text-anchor="middle" stroke="#111" stroke-width="0.05">3</text><text x="236.8" y="341.04" text-anchor="end" stroke="#111" stroke-width="0.05">0.28 [–0.54, 1.10]</text><text x="18.4" y="349.01" stroke="#111" stroke-width="0.05">GSE84531</text><text x="62.6" y="349.01" stroke="#111" stroke-width="0.05">T cells</text><text x="148.5" y="349.01" text-anchor="middle" stroke="#111" stroke-width="0.05">7</text><text x="168.1" y="349.01" text-anchor="middle" stroke="#111" stroke-width="0.05">10</text><text x="236.8" y="349.01" text-anchor="end" stroke="#111" stroke-width="0.05">0.38 [ 0.16, 0.59]</text><text x="18.4" y="356.98" stroke="#111" stroke-width="0.05">GSE55504</text><text x="62.6" y="356.98" stroke="#111" stroke-width="0.05">Primary fibroblasts</text><text x="148.5" y="356.98" text-anchor="middle" stroke="#111" stroke-width="0.05">8</text><text x="168.1" y="356.98" text-anchor="middle" stroke="#111" stroke-width="0.05">8</text><text x="236.8" y="356.98" text-anchor="end" stroke="#111" stroke-width="0.05">0.38 [–0.10, 0.86]</text><text x="18.4" y="364.95" stroke="#111" stroke-width="0.05">GSE144857</text><text x="62.6" y="364.95" stroke="#111" stroke-width="0.05">Glutamatergic neurons</text><text x="148.5" y="364.95" text-anchor="middle" stroke="#111" stroke-width="0.05">5</text><text x="168.1" y="364.95" text-anchor="middle" stroke="#111" stroke-width="0.05">5</text><text x="236.8" y="364.95" text-anchor="end" stroke="#111" stroke-width="0.05">0.39 [ 0.14, 0.63]</text><text x="18.4" y="372.92" stroke="#111" stroke-width="0.05">GSE144857</text><text x="62.6" y="372.92" stroke="#111" stroke-width="0.05">hiPSCs</text><text x="148.5" y="372.92" text-anchor="middle" stroke="#111" stroke-width="0.05">5</text><text x="168.1" y="372.92" text-anchor="middle" stroke="#111" stroke-width="0.05">5</text><text x="236.8" y="372.92" text-anchor="end" stroke="#111" stroke-width="0.05">0.41 [ 0.21, 0.62]</text><text x="18.4" y="380.89" stroke="#111" stroke-width="0.05">Current study</text><text x="62.6" y="380.89" stroke="#111" stroke-width="0.05">Hippocampus</text><text x="148.5" y="380.89" text-anchor="middle" stroke="#111" stroke-width="0.05">27</text><text x="168.1" y="380.89" text-anchor="middle" stroke="#111" stroke-width="0.05">20</text><text x="236.8" y="380.89" text-anchor="end" stroke="#111" stroke-width="0.05">0.44 [ 0.19, 0.68]</text><text x="18.4" y="388.86" stroke="#111" stroke-width="0.05">GSE79842</text><text x="62.6" y="388.86" stroke="#111" stroke-width="0.05">Fibroblasts</text><text x="148.5" y="388.86" text-anchor="middle" stroke="#111" stroke-width="0.05">12</text><text x="168.1" y="388.86" text-anchor="middle" stroke="#111" stroke-width="0.05">12</text><text x="236.8" y="388.86" text-anchor="end" stroke="#111" stroke-width="0.05">0.44 [–0.05, 0.93]</text><text x="18.4" y="396.83" stroke="#111" stroke-width="0.05">Current study</text><text x="62.6" y="396.83" stroke="#111" stroke-width="0.05">PFC</text><text x="148.5" y="396.83" text-anchor="middle" stroke="#111" stroke-width="0.05">27</text><text x="168.1" y="396.83" text-anchor="middle" stroke="#111" stroke-width="0.05">20</text><text x="236.8" y="396.83" text-anchor="end" stroke="#111" stroke-width="0.05">0.50 [ 0.38, 0.63]</text><text x="18.4" y="404.8" stroke="#111" stroke-width="0.05">GSE101942</text><text x="62.6" y="404.8" stroke="#111" stroke-width="0.05">iPSCs</text><text x="148.5" y="404.8" text-anchor="middle" stroke="#111" stroke-width="0.05">3</text><text x="168.1" y="404.8" text-anchor="middle" stroke="#111" stroke-width="0.05">3</text><text x="236.8" y="404.8" text-anchor="end" stroke="#111" stroke-width="0.05">0.54 [ 0.18, 0.90]</text><text x="18.4" y="412.77" stroke="#111" stroke-width="0.05">GSE52249</text><text x="62.6" y="412.77" stroke="#111" stroke-width="0.05">iPSCs</text><text x="148.5" y="412.77" text-anchor="middle" stroke="#111" stroke-width="0.05">4</text><text x="168.1" y="412.77" text-anchor="middle" stroke="#111" stroke-width="0.05">3</text><text x="236.8" y="412.77" text-anchor="end" stroke="#111" stroke-width="0.05">0.62 [ 0.34, 0.89]</text><text x="18.4" y="420.74" stroke="#111" stroke-width="0.05">GSE185192</text><text x="62.6" y="420.74" stroke="#111" stroke-width="0.05">NPCs</text><text x="148.5" y="420.74" text-anchor="middle" stroke="#111" stroke-width="0.05">3</text><text x="168.1" y="420.74" text-anchor="middle" stroke="#111" stroke-width="0.05">3</text><text x="236.8" y="420.74" text-anchor="end" stroke="#111" stroke-width="0.05">0.63 [ 0.50, 0.76]</text><text x="18.4" y="428.71" stroke="#111" stroke-width="0.05">PRJNA751601</text><text x="62.6" y="428.71" stroke="#111" stroke-width="0.05">Monocytes</text><text x="148.5" y="428.71" text-anchor="middle" stroke="#111" stroke-width="0.05">6</text><text x="168.1" y="428.71" text-anchor="middle" stroke="#111" stroke-width="0.05">6</text><text x="236.8" y="428.71" text-anchor="end" stroke="#111" stroke-width="0.05">0.72 [ 0.57, 0.87]</text><text x="18.4" y="436.68" stroke="#111" stroke-width="0.05">GSE84531</text><text x="62.6" y="436.68" stroke="#111" stroke-width="0.05">Monocytes</text><text x="148.5" y="436.68" text-anchor="middle" stroke="#111" stroke-width="0.05">7</text><text x="168.1" y="436.68" text-anchor="middle" stroke="#111" stroke-width="0.05">10</text><text x="236.8" y="436.68" text-anchor="end" stroke="#111" stroke-width="0.05">0.78 [ 0.40, 1.17]</text><text x="18.4" y="444.65" stroke="#111" stroke-width="0.05">PRJNA751601</text><text x="62.6" y="444.65" stroke="#111" stroke-width="0.05">Ventralized NPCs</text><text x="148.5" y="444.65" text-anchor="middle" stroke="#111" stroke-width="0.05">6</text><text x="168.1" y="444.65" text-anchor="middle" stroke="#111" stroke-width="0.05">6</text><text x="236.8" y="444.65" text-anchor="end" stroke="#111" stroke-width="0.05">1.14 [ 0.93, 1.36]</text><text x="18.4" y="452.62" stroke="#111" stroke-width="0.05">GSE185192</text><text x="62.6" y="452.62" stroke="#111" stroke-width="0.05">NPCs</text><text x="148.5" y="452.62" text-anchor="middle" stroke="#111" stroke-width="0.05">9</text><text x="168.1" y="452.62" text-anchor="middle" stroke="#111" stroke-width="0.05">9</text><text x="236.8" y="452.62" text-anchor="end" stroke="#111" stroke-width="0.05">1.25 [ 0.61, 1.89]</text></g>
<path d="M247.25 323.1H281.9M260.2 331.08H275.6M244.1 339.05H301.5M268.6 347.03H283.65M259.5 355H293.1M267.9 362.98H285.05M270.35 370.95H284.7M269.65 378.93H286.8M261.25 386.9H295.55M276.3 394.88H285.05M269.3 402.85H294.5M274.9 410.83H294.15M280.5 418.8H289.6M282.95 426.78H293.45M277 434.75H303.95M295.55 442.73H310.6M284.35 450.7H329.15M247.25 321.85v2.5M281.9 321.85v2.5M260.2 329.83v2.5M275.6 329.83v2.5M244.1 337.8v2.5M301.5 337.8v2.5M268.6 345.78v2.5M283.65 345.78v2.5M259.5 353.75v2.5M293.1 353.75v2.5M267.9 361.73v2.5M285.05 361.73v2.5M270.35 369.7v2.5M284.7 369.7v2.5M269.65 377.68v2.5M286.8 377.68v2.5M261.25 385.65v2.5M295.55 385.65v2.5M276.3 393.62v2.5M285.05 393.62v2.5M269.3 401.6v2.5M294.5 401.6v2.5M274.9 409.58v2.5M294.15 409.58v2.5M280.5 417.55v2.5M289.6 417.55v2.5M282.95 425.53v2.5M293.45 425.53v2.5M277 433.5v2.5M303.95 433.5v2.5M295.55 441.48v2.5M310.6 441.48v2.5M284.35 449.45v2.5M329.15 449.45v2.5" stroke="#c6389c" stroke-width="0.75" fill="none"/>
<path d="M263.32 322.02h2.16v2.16h-2.16zM266.28 329.45h3.24v3.24h-3.24zM271.95 338.2h1.7v1.7h-1.7zM274.66 345.39h3.28v3.28h-3.28zM275.2 353.9h2.19v2.19h-2.19zM275.11 361.44h3.07v3.07h-3.07zM275.67 369.27h3.36v3.36h-3.36zM276.86 377.39h3.07v3.07h-3.07zM277.31 385.81h2.17v2.17h-2.17zM278.35 392.73h4.3v4.3h-4.3zM280.63 401.58h2.53v2.53h-2.53zM283.25 409.38h2.9v2.9h-2.9zM282.94 416.69h4.22v4.22h-4.22zM286.24 424.81h3.93v3.93h-3.93zM289.07 433.52h2.45v2.45h-2.45zM301.26 441.09h3.28v3.28h-3.28zM305.8 449.75h1.9v1.9h-1.9z" fill="#c6389c"/>
<line x1="17.5" y1="457.8" x2="335.8" y2="457.8" stroke="#747474" stroke-width="1.3"/>
<rect x="17.5" y="461" width="318.3" height="7.7" fill="#e3e3ec"/>
<text x="18.4" y="466.8" font-size="6" fill="#c6389c" stroke="#c6389c" stroke-width="0.05"><tspan font-weight="bold">RE Model</tspan> (<tspan font-style="italic">P</tspan> = 3.5 x 10<tspan font-size="4" dy="-2.4">−15</tspan><tspan dy="2.4">)</tspan></text>
<text x="236.8" y="466.8" font-size="6" text-anchor="end" fill="#c6389c" stroke="#c6389c" stroke-width="0.05">0.54 [ 0.40, 0.67]</text>
<path d="M277 464.9L281.9 463L286.45 464.9L281.9 466.8Z" fill="#c6389c"/>
<line x1="245.5" y1="476.1" x2="333" y2="476.1" stroke="#333" stroke-width="0.7"/>
<path d="M245.5 476.1v2M263 476.1v2M280.5 476.1v2M298 476.1v2M315.5 476.1v2M333 476.1v2" stroke="#333" stroke-width="0.6"/>
<text x="245.5" y="482.4" font-size="5.9" text-anchor="middle" fill="#222" stroke="#222" stroke-width="0.05">-0.5</text>
<text x="263" y="482.4" font-size="5.9" text-anchor="middle" fill="#222" stroke="#222" stroke-width="0.05">0.0</text>
<text x="280.5" y="482.4" font-size="5.9" text-anchor="middle" fill="#222" stroke="#222" stroke-width="0.05">0.5</text>
<text x="298" y="482.4" font-size="5.9" text-anchor="middle" fill="#222" stroke="#222" stroke-width="0.05">1.0</text>
<text x="315.5" y="482.4" font-size="5.9" text-anchor="middle" fill="#222" stroke="#222" stroke-width="0.05">1.5</text>
<text x="333" y="482.4" font-size="5.9" text-anchor="middle" fill="#222" stroke="#222" stroke-width="0.05">2.0</text>
<text x="288.5" y="491.6" font-size="6.8" text-anchor="middle" fill="#222" stroke="#222" stroke-width="0.05">Standard mean difference</text>
<text x="346.3" y="286.9" font-size="24" font-weight="bold" fill="#000">E</text>
<text x="363" y="295.9" font-size="8.75" font-weight="bold" fill="#c6389c" stroke="#c6389c" stroke-width="0.05">Meta-analysis (Control vs T21): <tspan font-weight="normal" font-style="italic">DYRK1A</tspan></text>
<line x1="363.9" y1="299.6" x2="682.2" y2="299.6" stroke="#747474" stroke-width="1.2"/>
<text x="476.2" y="305.6" font-size="6" font-weight="bold" textLength="55.6" lengthAdjust="spacingAndGlyphs" stroke="#111" stroke-width="0.05">Number of samples</text>
<text x="364.8" y="312.9" font-size="6" font-weight="bold" stroke="#111" stroke-width="0.05">Study</text>
<text x="409" y="312.9" font-size="6" font-weight="bold" stroke="#111" stroke-width="0.05">Cell type / Tissue type</text>
<text x="485.2" y="312.9" font-size="6" fill="#222" textLength="19.3" lengthAdjust="spacingAndGlyphs" stroke="#222" stroke-width="0.05">Control</text>
<text x="508" y="312.9" font-size="6" fill="#222" textLength="13.7" lengthAdjust="spacingAndGlyphs" stroke="#222" stroke-width="0.05">TS21</text>
<text x="583.2" y="312.9" font-size="6" text-anchor="end" font-weight="bold" textLength="45" lengthAdjust="spacingAndGlyphs" stroke="#111" stroke-width="0.05">RE est. [LB, LU]</text>
<line x1="363.9" y1="315.5" x2="682.2" y2="315.5" stroke="#747474" stroke-width="1.1"/>
<path d="M363.9 319.05H682.2V326.8H363.9ZM363.9 334.95H682.2V342.7H363.9ZM363.9 350.85H682.2V358.6H363.9ZM363.9 366.75H682.2V374.5H363.9ZM363.9 382.65H682.2V390.4H363.9ZM363.9 398.55H682.2V406.3H363.9ZM363.9 414.45H682.2V422.2H363.9ZM363.9 430.35H682.2V438.1H363.9ZM363.9 446.25H682.2V454H363.9Z" fill="#f1f1f6"/>
<line x1="616.5" y1="316.5" x2="616.5" y2="476.1" stroke="#2a2a2a" stroke-width="1.0" stroke-dasharray="2.4 1.6"/>
<g font-size="6" fill="#2a2a2a" stroke="#2a2a2a" stroke-width="0.05"><text x="364.8" y="325.1" stroke="#111" stroke-width="0.05">GSE101942</text><text x="409" y="325.1" stroke="#111" stroke-width="0.05">Cortical neurons</text><text x="494.9" y="325.1" text-anchor="middle" stroke="#111" stroke-width="0.05">3</text><text x="514.5" y="325.1" text-anchor="middle" stroke="#111" stroke-width="0.05">3</text><text x="583.2" y="325.1" text-anchor="end" stroke="#111" stroke-width="0.05">0.10 [–0.63, 0.83]</text><text x="364.8" y="333.07" stroke="#111" stroke-width="0.05">GSE128621</text><text x="409" y="333.07" stroke="#111" stroke-width="0.05">WBCs</text><text x="494.9" y="333.07" text-anchor="middle" stroke="#111" stroke-width="0.05">6</text><text x="514.5" y="333.07" text-anchor="middle" stroke="#111" stroke-width="0.05">8</text><text x="583.2" y="333.07" text-anchor="end" stroke="#111" stroke-width="0.05">0.22 [–0.04, 0.48]</text><text x="364.8" y="341.04" stroke="#111" stroke-width="0.05">GSE84531</text><text x="409" y="341.04" stroke="#111" stroke-width="0.05">T cells</text><text x="494.9" y="341.04" text-anchor="middle" stroke="#111" stroke-width="0.05">7</text><text x="514.5" y="341.04" text-anchor="middle" stroke="#111" stroke-width="0.05">10</text><text x="583.2" y="341.04" text-anchor="end" stroke="#111" stroke-width="0.05">0.24 [ 0.10, 0.38]</text><text x="364.8" y="349.01" stroke="#111" stroke-width="0.05">GSE144857</text><text x="409" y="349.01" stroke="#111" stroke-width="0.05">Glutamatergic neurons</text><text x="494.9" y="349.01" text-anchor="middle" stroke="#111" stroke-width="0.05">5</text><text x="514.5" y="349.01" text-anchor="middle" stroke="#111" stroke-width="0.05">5</text><text x="583.2" y="349.01" text-anchor="end" stroke="#111" stroke-width="0.05">0.24 [ 0.06, 0.42]</text><text x="364.8" y="356.98" stroke="#111" stroke-width="0.05">Current study</text><text x="409" y="356.98" stroke="#111" stroke-width="0.05">Hippocampus</text><text x="494.9" y="356.98" text-anchor="middle" stroke="#111" stroke-width="0.05">27</text><text x="514.5" y="356.98" text-anchor="middle" stroke="#111" stroke-width="0.05">20</text><text x="583.2" y="356.98" text-anchor="end" stroke="#111" stroke-width="0.05">0.40 [ 0.26, 0.53]</text><text x="364.8" y="364.95" stroke="#111" stroke-width="0.05">GSE101942</text><text x="409" y="364.95" stroke="#111" stroke-width="0.05">iPSCs</text><text x="494.9" y="364.95" text-anchor="middle" stroke="#111" stroke-width="0.05">3</text><text x="514.5" y="364.95" text-anchor="middle" stroke="#111" stroke-width="0.05">3</text><text x="583.2" y="364.95" text-anchor="end" stroke="#111" stroke-width="0.05">0.40 [ 0.01, 0.80]</text><text x="364.8" y="372.92" stroke="#111" stroke-width="0.05">GSE52249</text><text x="409" y="372.92" stroke="#111" stroke-width="0.05">iPSCs</text><text x="494.9" y="372.92" text-anchor="middle" stroke="#111" stroke-width="0.05">4</text><text x="514.5" y="372.92" text-anchor="middle" stroke="#111" stroke-width="0.05">3</text><text x="583.2" y="372.92" text-anchor="end" stroke="#111" stroke-width="0.05">0.41 [ 0.22, 0.60]</text><text x="364.8" y="380.89" stroke="#111" stroke-width="0.05">GSE185192</text><text x="409" y="380.89" stroke="#111" stroke-width="0.05">iPSCs</text><text x="494.9" y="380.89" text-anchor="middle" stroke="#111" stroke-width="0.05">3</text><text x="514.5" y="380.89" text-anchor="middle" stroke="#111" stroke-width="0.05">3</text><text x="583.2" y="380.89" text-anchor="end" stroke="#111" stroke-width="0.05">0.41 [ 0.32, 0.50]</text><text x="364.8" y="388.86" stroke="#111" stroke-width="0.05">GSE79842</text><text x="409" y="388.86" stroke="#111" stroke-width="0.05">Fibroblasts</text><text x="494.9" y="388.86" text-anchor="middle" stroke="#111" stroke-width="0.05">12</text><text x="514.5" y="388.86" text-anchor="middle" stroke="#111" stroke-width="0.05">12</text><text x="583.2" y="388.86" text-anchor="end" stroke="#111" stroke-width="0.05">0.43 [ 0.25, 0.62]</text><text x="364.8" y="396.83" stroke="#111" stroke-width="0.05">GSE84531</text><text x="409" y="396.83" stroke="#111" stroke-width="0.05">Monocytes</text><text x="494.9" y="396.83" text-anchor="middle" stroke="#111" stroke-width="0.05">7</text><text x="514.5" y="396.83" text-anchor="middle" stroke="#111" stroke-width="0.05">10</text><text x="583.2" y="396.83" text-anchor="end" stroke="#111" stroke-width="0.05">0.45 [ 0.32, 0.59]</text><text x="364.8" y="404.8" stroke="#111" stroke-width="0.05">PRJNA751601</text><text x="409" y="404.8" stroke="#111" stroke-width="0.05">NPCs</text><text x="494.9" y="404.8" text-anchor="middle" stroke="#111" stroke-width="0.05">6</text><text x="514.5" y="404.8" text-anchor="middle" stroke="#111" stroke-width="0.05">6</text><text x="583.2" y="404.8" text-anchor="end" stroke="#111" stroke-width="0.05">0.52 [ 0.30, 0.73]</text><text x="364.8" y="412.77" stroke="#111" stroke-width="0.05">Current study</text><text x="409" y="412.77" stroke="#111" stroke-width="0.05">PFC</text><text x="494.9" y="412.77" text-anchor="middle" stroke="#111" stroke-width="0.05">27</text><text x="514.5" y="412.77" text-anchor="middle" stroke="#111" stroke-width="0.05">20</text><text x="583.2" y="412.77" text-anchor="end" stroke="#111" stroke-width="0.05">0.53 [ 0.43, 0.63]</text><text x="364.8" y="420.74" stroke="#111" stroke-width="0.05">GSE55504</text><text x="409" y="420.74" stroke="#111" stroke-width="0.05">Primary fibroblasts</text><text x="494.9" y="420.74" text-anchor="middle" stroke="#111" stroke-width="0.05">8</text><text x="514.5" y="420.74" text-anchor="middle" stroke="#111" stroke-width="0.05">8</text><text x="583.2" y="420.74" text-anchor="end" stroke="#111" stroke-width="0.05">0.54 [ 0.41, 0.66]</text><text x="364.8" y="428.71" stroke="#111" stroke-width="0.05">PRJNA751601</text><text x="409" y="428.71" stroke="#111" stroke-width="0.05">Ventralized NPCs</text><text x="494.9" y="428.71" text-anchor="middle" stroke="#111" stroke-width="0.05">6</text><text x="514.5" y="428.71" text-anchor="middle" stroke="#111" stroke-width="0.05">6</text><text x="583.2" y="428.71" text-anchor="end" stroke="#111" stroke-width="0.05">0.60 [ 0.30, 0.90]</text><text x="364.8" y="436.68" stroke="#111" stroke-width="0.05">GSE144857</text><text x="409" y="436.68" stroke="#111" stroke-width="0.05">hiPSCs</text><text x="494.9" y="436.68" text-anchor="middle" stroke="#111" stroke-width="0.05">5</text><text x="514.5" y="436.68" text-anchor="middle" stroke="#111" stroke-width="0.05">5</text><text x="583.2" y="436.68" text-anchor="end" stroke="#111" stroke-width="0.05">0.76 [ 0.64, 0.88]</text><text x="364.8" y="444.65" stroke="#111" stroke-width="0.05">PRJNA751601</text><text x="409" y="444.65" stroke="#111" stroke-width="0.05">Ventralized NPCs</text><text x="494.9" y="444.65" text-anchor="middle" stroke="#111" stroke-width="0.05">9</text><text x="514.5" y="444.65" text-anchor="middle" stroke="#111" stroke-width="0.05">9</text><text x="583.2" y="444.65" text-anchor="end" stroke="#111" stroke-width="0.05">0.78 [ 0.50, 1.06]</text><text x="364.8" y="452.62" stroke="#111" stroke-width="0.05">GSE55504</text><text x="409" y="452.62" stroke="#111" stroke-width="0.05">Fetal primary fibroblasts</text><text x="494.9" y="452.62" text-anchor="middle" stroke="#111" stroke-width="0.05">6</text><text x="514.5" y="452.62" text-anchor="middle" stroke="#111" stroke-width="0.05">6</text><text x="583.2" y="452.62" text-anchor="end" stroke="#111" stroke-width="0.05">1.12 [ 0.58, 1.65]</text></g>
<path d="M592.5 323.1H648.12M614.98 331.08H634.79M620.31 339.05H630.98M618.79 347.03H632.5M626.41 355H636.69M616.88 362.98H646.98M624.88 370.95H639.36M628.69 378.93H635.55M626.02 386.9H640.12M628.69 394.88H638.98M627.93 402.85H644.31M632.88 410.83H640.5M632.12 418.8H641.65M627.93 426.78H650.79M640.88 434.75H650.03M635.55 442.73H656.89M638.6 450.7H679.37M592.5 321.85v2.5M648.12 321.85v2.5M614.98 329.83v2.5M634.79 329.83v2.5M620.31 337.8v2.5M630.98 337.8v2.5M618.79 345.78v2.5M632.5 345.78v2.5M626.41 353.75v2.5M636.69 353.75v2.5M616.88 361.73v2.5M646.98 361.73v2.5M624.88 369.7v2.5M639.36 369.7v2.5M628.69 377.68v2.5M635.55 377.68v2.5M626.02 385.65v2.5M640.12 385.65v2.5M628.69 393.62v2.5M638.98 393.62v2.5M627.93 401.6v2.5M644.31 401.6v2.5M632.88 409.58v2.5M640.5 409.58v2.5M632.12 417.55v2.5M641.65 417.55v2.5M627.93 425.53v2.5M650.79 425.53v2.5M640.88 433.5v2.5M650.03 433.5v2.5M635.55 441.48v2.5M656.89 441.48v2.5M638.6 449.45v2.5M679.37 449.45v2.5" stroke="#c6389c" stroke-width="0.75" fill="none"/>
<path d="M619.42 322.21h1.78v1.78h-1.78zM623.39 329.58h2.98v2.98h-2.98zM623.61 337.02h4.06v4.06h-4.06zM623.85 345.23h3.58v3.58h-3.58zM629.67 352.93h4.14v4.14h-4.14zM630.53 361.77h2.42v2.42h-2.42zM630.38 369.21h3.49v3.49h-3.49zM629.92 376.73h4.4v4.4h-4.4zM631.12 385.13h3.53v3.53h-3.53zM631.58 392.81h4.14v4.14h-4.14zM634.67 401.21h3.28v3.28h-3.28zM634.49 408.63h4.4v4.4h-4.4zM634.92 416.65h4.3v4.3h-4.3zM637.97 425.39h2.78v2.78h-2.78zM643.26 432.56h4.39v4.39h-4.39zM644.78 441.29h2.87v2.87h-2.87zM658.13 449.66h2.08v2.08h-2.08z" fill="#c6389c"/>
<line x1="363.9" y1="457.8" x2="682.2" y2="457.8" stroke="#747474" stroke-width="1.3"/>
<rect x="363.9" y="461" width="318.3" height="7.7" fill="#e3e3ec"/>
<text x="364.8" y="466.8" font-size="6" fill="#c6389c" stroke="#c6389c" stroke-width="0.05"><tspan font-weight="bold">RE Model</tspan> (<tspan font-style="italic">P</tspan> = 1.69 x 10<tspan font-size="4" dy="-2.4">−61</tspan><tspan dy="2.4">)</tspan></text>
<text x="583.2" y="466.8" font-size="6" text-anchor="end" fill="#c6389c" stroke="#c6389c" stroke-width="0.05">0.47 [ 0.39, 0.55]</text>
<path d="M631.36 464.9L634.41 463L637.46 464.9L634.41 466.8Z" fill="#c6389c"/>
<line x1="597.45" y1="476.1" x2="673.65" y2="476.1" stroke="#333" stroke-width="0.7"/>
<path d="M597.45 476.1v2M616.5 476.1v2M635.55 476.1v2M654.6 476.1v2M673.65 476.1v2" stroke="#333" stroke-width="0.6"/>
<text x="597.45" y="482.4" font-size="5.9" text-anchor="middle" fill="#222" stroke="#222" stroke-width="0.05">-0.5</text>
<text x="616.5" y="482.4" font-size="5.9" text-anchor="middle" fill="#222" stroke="#222" stroke-width="0.05">0.0</text>
<text x="635.55" y="482.4" font-size="5.9" text-anchor="middle" fill="#222" stroke="#222" stroke-width="0.05">0.5</text>
<text x="654.6" y="482.4" font-size="5.9" text-anchor="middle" fill="#222" stroke="#222" stroke-width="0.05">1.0</text>
<text x="673.65" y="482.4" font-size="5.9" text-anchor="middle" fill="#222" stroke="#222" stroke-width="0.05">1.5</text>
<text x="635.55" y="491.6" font-size="6.8" text-anchor="middle" fill="#222" stroke="#222" stroke-width="0.05">Standard mean difference</text>
<text x="-0.7" y="521.5" font-size="24" font-weight="bold" fill="#000">F</text>
<text x="15.85" y="528.2" font-size="8.75" font-weight="bold" fill="#c6389c" stroke="#c6389c" stroke-width="0.05">Meta-analysis (Control vs T21): <tspan font-weight="normal" font-style="italic">IFNAR1</tspan></text>
<line x1="16.75" y1="531.9" x2="335.05" y2="531.9" stroke="#747474" stroke-width="1.2"/>
<text x="129.05" y="537.9" font-size="6" font-weight="bold" textLength="55.6" lengthAdjust="spacingAndGlyphs" stroke="#111" stroke-width="0.05">Number of samples</text>
<text x="17.65" y="545.2" font-size="6" font-weight="bold" stroke="#111" stroke-width="0.05">Study</text>
<text x="61.85" y="545.2" font-size="6" font-weight="bold" stroke="#111" stroke-width="0.05">Cell type / Tissue type</text>
<text x="138.05" y="545.2" font-size="6" fill="#222" textLength="19.3" lengthAdjust="spacingAndGlyphs" stroke="#222" stroke-width="0.05">Control</text>
<text x="160.85" y="545.2" font-size="6" fill="#222" textLength="13.7" lengthAdjust="spacingAndGlyphs" stroke="#222" stroke-width="0.05">TS21</text>
<text x="236.05" y="545.2" font-size="6" text-anchor="end" font-weight="bold" textLength="45" lengthAdjust="spacingAndGlyphs" stroke="#111" stroke-width="0.05">RE est. [LB, LU]</text>
<line x1="16.75" y1="547.8" x2="335.05" y2="547.8" stroke="#747474" stroke-width="1.1"/>
<path d="M16.75 551.35H335.05V559.1H16.75ZM16.75 567.25H335.05V575H16.75ZM16.75 583.15H335.05V590.9H16.75ZM16.75 599.05H335.05V606.8H16.75ZM16.75 614.95H335.05V622.7H16.75ZM16.75 630.85H335.05V638.6H16.75ZM16.75 646.75H335.05V654.5H16.75ZM16.75 662.65H335.05V670.4H16.75ZM16.75 678.55H335.05V686.3H16.75Z" fill="#f1f1f6"/>
<line x1="261.4" y1="548.8" x2="261.4" y2="708.5" stroke="#2a2a2a" stroke-width="1.0" stroke-dasharray="2.4 1.6"/>
<g font-size="6" fill="#2a2a2a" stroke="#2a2a2a" stroke-width="0.05"><text x="17.65" y="557.4" stroke="#111" stroke-width="0.05">GSE52249</text><text x="61.85" y="557.4" stroke="#111" stroke-width="0.05">iPSCs</text><text x="147.75" y="557.4" text-anchor="middle" stroke="#111" stroke-width="0.05">4</text><text x="167.35" y="557.4" text-anchor="middle" stroke="#111" stroke-width="0.05">3</text><text x="236.05" y="557.4" text-anchor="end" textLength="49.62" lengthAdjust="spacingAndGlyphs" stroke="#111" stroke-width="0.05">0.15 [–0.13, 0.43]</text><text x="17.65" y="565.37" stroke="#111" stroke-width="0.05">GSE101942</text><text x="61.85" y="565.37" stroke="#111" stroke-width="0.05">Cortical neurons</text><text x="147.75" y="565.37" text-anchor="middle" stroke="#111" stroke-width="0.05">3</text><text x="167.35" y="565.37" text-anchor="middle" stroke="#111" stroke-width="0.05">3</text><text x="236.05" y="565.37" text-anchor="end" textLength="49.62" lengthAdjust="spacingAndGlyphs" stroke="#111" stroke-width="0.05">0.28 [–0.31, 0.87]</text><text x="17.65" y="573.34" stroke="#111" stroke-width="0.05">GSE55504</text><text x="61.85" y="573.34" stroke="#111" stroke-width="0.05">Primary fibroblasts</text><text x="147.75" y="573.34" text-anchor="middle" stroke="#111" stroke-width="0.05">8</text><text x="167.35" y="573.34" text-anchor="middle" stroke="#111" stroke-width="0.05">8</text><text x="236.05" y="573.34" text-anchor="end" textLength="47.85" lengthAdjust="spacingAndGlyphs" stroke="#111" stroke-width="0.05">0.31 [ 0.08, 0.54]</text><text x="17.65" y="581.31" stroke="#111" stroke-width="0.05">GSE79842</text><text x="61.85" y="581.31" stroke="#111" stroke-width="0.05">Fibroblasts</text><text x="147.75" y="581.31" text-anchor="middle" stroke="#111" stroke-width="0.05">12</text><text x="167.35" y="581.31" text-anchor="middle" stroke="#111" stroke-width="0.05">12</text><text x="236.05" y="581.31" text-anchor="end" textLength="47.85" lengthAdjust="spacingAndGlyphs" stroke="#111" stroke-width="0.05">0.41 [ 0.16, 0.65]</text><text x="17.65" y="589.28" stroke="#111" stroke-width="0.05">GSE101942</text><text x="61.85" y="589.28" stroke="#111" stroke-width="0.05">iPSCs</text><text x="147.75" y="589.28" text-anchor="middle" stroke="#111" stroke-width="0.05">3</text><text x="167.35" y="589.28" text-anchor="middle" stroke="#111" stroke-width="0.05">3</text><text x="236.05" y="589.28" text-anchor="end" textLength="49.62" lengthAdjust="spacingAndGlyphs" stroke="#111" stroke-width="0.05">0.49 [–0.10, 1.08]</text><text x="17.65" y="597.25" stroke="#111" stroke-width="0.05">Current study</text><text x="61.85" y="597.25" stroke="#111" stroke-width="0.05">PFC</text><text x="147.75" y="597.25" text-anchor="middle" stroke="#111" stroke-width="0.05">27</text><text x="167.35" y="597.25" text-anchor="middle" stroke="#111" stroke-width="0.05">20</text><text x="236.05" y="597.25" text-anchor="end" textLength="47.85" lengthAdjust="spacingAndGlyphs" stroke="#111" stroke-width="0.05">0.49 [ 0.39, 0.60]</text><text x="17.65" y="605.22" stroke="#111" stroke-width="0.05">Current study</text><text x="61.85" y="605.22" stroke="#111" stroke-width="0.05">Hippocampus</text><text x="147.75" y="605.22" text-anchor="middle" stroke="#111" stroke-width="0.05">27</text><text x="167.35" y="605.22" text-anchor="middle" stroke="#111" stroke-width="0.05">20</text><text x="236.05" y="605.22" text-anchor="end" textLength="47.85" lengthAdjust="spacingAndGlyphs" stroke="#111" stroke-width="0.05">0.53 [ 0.41, 0.66]</text><text x="17.65" y="613.19" stroke="#111" stroke-width="0.05">GSE128621</text><text x="61.85" y="613.19" stroke="#111" stroke-width="0.05">WBCs</text><text x="147.75" y="613.19" text-anchor="middle" stroke="#111" stroke-width="0.05">6</text><text x="167.35" y="613.19" text-anchor="middle" stroke="#111" stroke-width="0.05">8</text><text x="236.05" y="613.19" text-anchor="end" textLength="47.85" lengthAdjust="spacingAndGlyphs" stroke="#111" stroke-width="0.05">0.55 [ 0.33, 0.78]</text><text x="17.65" y="621.16" stroke="#111" stroke-width="0.05">GSE144857</text><text x="61.85" y="621.16" stroke="#111" stroke-width="0.05">Glutamatergic neurons</text><text x="147.75" y="621.16" text-anchor="middle" stroke="#111" stroke-width="0.05">5</text><text x="167.35" y="621.16" text-anchor="middle" stroke="#111" stroke-width="0.05">5</text><text x="236.05" y="621.16" text-anchor="end" textLength="47.85" lengthAdjust="spacingAndGlyphs" stroke="#111" stroke-width="0.05">0.58 [ 0.33, 0.83]</text><text x="17.65" y="629.13" stroke="#111" stroke-width="0.05">PRJNA751601</text><text x="61.85" y="629.13" stroke="#111" stroke-width="0.05">NPCs</text><text x="147.75" y="629.13" text-anchor="middle" stroke="#111" stroke-width="0.05">6</text><text x="167.35" y="629.13" text-anchor="middle" stroke="#111" stroke-width="0.05">6</text><text x="236.05" y="629.13" text-anchor="end" textLength="47.85" lengthAdjust="spacingAndGlyphs" stroke="#111" stroke-width="0.05">0.69 [ 0.54, 0.84]</text><text x="17.65" y="637.1" stroke="#111" stroke-width="0.05">PRJNA751601</text><text x="61.85" y="637.1" stroke="#111" stroke-width="0.05">Ventralized NPCs</text><text x="147.75" y="637.1" text-anchor="middle" stroke="#111" stroke-width="0.05">6</text><text x="167.35" y="637.1" text-anchor="middle" stroke="#111" stroke-width="0.05">6</text><text x="236.05" y="637.1" text-anchor="end" textLength="47.85" lengthAdjust="spacingAndGlyphs" stroke="#111" stroke-width="0.05">0.70 [ 0.54, 0.86]</text><text x="17.65" y="645.07" stroke="#111" stroke-width="0.05">GSE84531</text><text x="61.85" y="645.07" stroke="#111" stroke-width="0.05">Monocytes</text><text x="147.75" y="645.07" text-anchor="middle" stroke="#111" stroke-width="0.05">7</text><text x="167.35" y="645.07" text-anchor="middle" stroke="#111" stroke-width="0.05">10</text><text x="236.05" y="645.07" text-anchor="end" textLength="47.85" lengthAdjust="spacingAndGlyphs" stroke="#111" stroke-width="0.05">0.76 [ 0.58, 0.94]</text><text x="17.65" y="653.04" stroke="#111" stroke-width="0.05">GSE185192</text><text x="61.85" y="653.04" stroke="#111" stroke-width="0.05">iPSCs</text><text x="147.75" y="653.04" text-anchor="middle" stroke="#111" stroke-width="0.05">3</text><text x="167.35" y="653.04" text-anchor="middle" stroke="#111" stroke-width="0.05">3</text><text x="236.05" y="653.04" text-anchor="end" textLength="47.85" lengthAdjust="spacingAndGlyphs" stroke="#111" stroke-width="0.05">0.77 [ 0.60, 0.95]</text><text x="17.65" y="661.01" stroke="#111" stroke-width="0.05">GSE84531</text><text x="61.85" y="661.01" stroke="#111" stroke-width="0.05">T cells</text><text x="147.75" y="661.01" text-anchor="middle" stroke="#111" stroke-width="0.05">7</text><text x="167.35" y="661.01" text-anchor="middle" stroke="#111" stroke-width="0.05">10</text><text x="236.05" y="661.01" text-anchor="end" textLength="47.85" lengthAdjust="spacingAndGlyphs" stroke="#111" stroke-width="0.05">0.86 [ 0.61, 1.10]</text><text x="17.65" y="668.98" stroke="#111" stroke-width="0.05">GSE144857</text><text x="61.85" y="668.98" stroke="#111" stroke-width="0.05">hiPSCs</text><text x="147.75" y="668.98" text-anchor="middle" stroke="#111" stroke-width="0.05">5</text><text x="167.35" y="668.98" text-anchor="middle" stroke="#111" stroke-width="0.05">5</text><text x="236.05" y="668.98" text-anchor="end" textLength="47.85" lengthAdjust="spacingAndGlyphs" stroke="#111" stroke-width="0.05">0.90 [ 0.54, 1.26]</text><text x="17.65" y="676.95" stroke="#111" stroke-width="0.05">GSE18592</text><text x="61.85" y="676.95" stroke="#111" stroke-width="0.05">NPCs</text><text x="147.75" y="676.95" text-anchor="middle" stroke="#111" stroke-width="0.05">9</text><text x="167.35" y="676.95" text-anchor="middle" stroke="#111" stroke-width="0.05">9</text><text x="236.05" y="676.95" text-anchor="end" textLength="47.39" lengthAdjust="spacingAndGlyphs" stroke="#111" stroke-width="0.05">1.11 [ 0.60, 1.61]</text><text x="17.65" y="684.92" stroke="#111" stroke-width="0.05">GSE55504</text><text x="61.85" y="684.92" stroke="#111" stroke-width="0.05">Fetal primary fibrolasts</text><text x="147.75" y="684.92" text-anchor="middle" stroke="#111" stroke-width="0.05">6</text><text x="167.35" y="684.92" text-anchor="middle" stroke="#111" stroke-width="0.05">6</text><text x="236.05" y="684.92" text-anchor="end" textLength="47.85" lengthAdjust="spacingAndGlyphs" stroke="#111" stroke-width="0.05">1.37 [ 0.77, 1.96]</text></g>
<path d="M256.78 555.4H276.66M250.39 563.38H292.28M264.24 571.35H280.57M267.08 579.33H284.47M257.85 587.3H299.74M275.25 595.28H282.7M275.95 603.25H284.83M273.11 611.23H289.09M273.11 619.2H290.86M280.57 627.17H291.22M280.57 635.15H291.93M281.99 643.12H294.77M282.7 651.1H295.12M283.05 659.08H300.45M280.57 667.05H306.13M282.7 675.03H318.55M288.73 683H330.98M256.78 554.15v2.5M276.66 554.15v2.5M250.39 562.12v2.5M292.28 562.12v2.5M264.24 570.1v2.5M280.57 570.1v2.5M267.08 578.08v2.5M284.47 578.08v2.5M257.85 586.05v2.5M299.74 586.05v2.5M275.25 594.03v2.5M282.7 594.03v2.5M275.95 602v2.5M284.83 602v2.5M273.11 609.98v2.5M289.09 609.98v2.5M273.11 617.95v2.5M290.86 617.95v2.5M280.57 625.92v2.5M291.22 625.92v2.5M280.57 633.9v2.5M291.93 633.9v2.5M281.99 641.88v2.5M294.77 641.88v2.5M282.7 649.85v2.5M295.12 649.85v2.5M283.05 657.83v2.5M300.45 657.83v2.5M280.57 665.8v2.5M306.13 665.8v2.5M282.7 673.78v2.5M318.55 673.78v2.5M288.73 681.75v2.5M330.98 681.75v2.5" stroke="#c6389c" stroke-width="0.75" fill="none"/>
<path d="M265.29 553.96h2.87v2.87h-2.87zM270.35 562.39h1.98v1.98h-1.98zM270.82 569.76h3.17v3.17h-3.17zM274.42 577.79h3.07v3.07h-3.07zM277.81 586.31h1.98v1.98h-1.98zM276.59 593.08h4.4v4.4h-4.4zM278.06 601.1h4.3v4.3h-4.3zM279.32 609.62h3.21v3.21h-3.21zM280.47 617.68h3.04v3.04h-3.04zM283.93 625.21h3.93v3.93h-3.93zM284.35 633.25h3.8v3.8h-3.8zM286.59 641.33h3.58v3.58h-3.58zM286.92 649.28h3.63v3.63h-3.63zM290.39 657.54h3.07v3.07h-3.07zM292.08 665.78h2.53v2.53h-2.53zM299.74 673.96h2.14v2.14h-2.14zM309.05 682.01h1.97v1.97h-1.97z" fill="#c6389c"/>
<line x1="16.75" y1="690.1" x2="335.05" y2="690.1" stroke="#747474" stroke-width="1.3"/>
<rect x="16.75" y="693.3" width="318.3" height="7.7" fill="#e3e3ec"/>
<text x="17.65" y="699.1" font-size="6" fill="#c6389c" stroke="#c6389c" stroke-width="0.05"><tspan font-weight="bold">RE Model</tspan> (<tspan font-style="italic">P</tspan> = 5.22 x 10<tspan font-size="4" dy="-2.4">−26</tspan><tspan dy="2.4">)</tspan></text>
<text x="236.05" y="699.1" font-size="6" text-anchor="end" fill="#c6389c" stroke="#c6389c" stroke-width="0.05">0.62 [ 0.51, 0.72]</text>
<path d="M279.5 697.2L283.41 695.3L286.96 697.2L283.41 699.1Z" fill="#c6389c"/>
<line x1="243.65" y1="708.5" x2="332.4" y2="708.5" stroke="#333" stroke-width="0.7"/>
<path d="M243.65 708.5v2M261.4 708.5v2M279.15 708.5v2M296.9 708.5v2M314.65 708.5v2M332.4 708.5v2" stroke="#333" stroke-width="0.6"/>
<text x="243.65" y="714.8" font-size="5.9" text-anchor="middle" fill="#222" stroke="#222" stroke-width="0.05">-0.5</text>
<text x="261.4" y="714.8" font-size="5.9" text-anchor="middle" fill="#222" stroke="#222" stroke-width="0.05">0.0</text>
<text x="279.15" y="714.8" font-size="5.9" text-anchor="middle" fill="#222" stroke="#222" stroke-width="0.05">0.5</text>
<text x="296.9" y="714.8" font-size="5.9" text-anchor="middle" fill="#222" stroke="#222" stroke-width="0.05">1.0</text>
<text x="314.65" y="714.8" font-size="5.9" text-anchor="middle" fill="#222" stroke="#222" stroke-width="0.05">1.5</text>
<text x="332.4" y="714.8" font-size="5.9" text-anchor="middle" fill="#222" stroke="#222" stroke-width="0.05">2.0</text>
<text x="288.02" y="723.9" font-size="6.8" text-anchor="middle" fill="#222" stroke="#222" stroke-width="0.05">Standard mean difference</text>
<text x="344.3" y="521.1" font-size="24" font-weight="bold" fill="#000">G</text>
<text x="362.7" y="528.2" font-size="8.75" font-weight="bold" fill="#c6389c" stroke="#c6389c" stroke-width="0.05">Meta-analysis (Control vs T21): <tspan font-weight="normal" font-style="italic">IFNAR2</tspan></text>
<line x1="363.6" y1="531.9" x2="681.9" y2="531.9" stroke="#747474" stroke-width="1.2"/>
<text x="475.9" y="537.9" font-size="6" font-weight="bold" textLength="55.6" lengthAdjust="spacingAndGlyphs" stroke="#111" stroke-width="0.05">Number of samples</text>
<text x="364.5" y="545.2" font-size="6" font-weight="bold" stroke="#111" stroke-width="0.05">Study</text>
<text x="408.7" y="545.2" font-size="6" font-weight="bold" stroke="#111" stroke-width="0.05">Cell type / Tissue type</text>
<text x="484.9" y="545.2" font-size="6" fill="#222" textLength="19.3" lengthAdjust="spacingAndGlyphs" stroke="#222" stroke-width="0.05">Control</text>
<text x="507.7" y="545.2" font-size="6" fill="#222" textLength="13.7" lengthAdjust="spacingAndGlyphs" stroke="#222" stroke-width="0.05">TS21</text>
<text x="582.9" y="545.2" font-size="6" text-anchor="end" font-weight="bold" textLength="45" lengthAdjust="spacingAndGlyphs" stroke="#111" stroke-width="0.05">RE est. [LB, LU]</text>
<line x1="363.6" y1="547.8" x2="681.9" y2="547.8" stroke="#747474" stroke-width="1.1"/>
<path d="M363.6 551.35H681.9V559.1H363.6ZM363.6 567.25H681.9V575H363.6ZM363.6 583.15H681.9V590.9H363.6ZM363.6 599.05H681.9V606.8H363.6ZM363.6 614.95H681.9V622.7H363.6ZM363.6 630.85H681.9V638.6H363.6ZM363.6 646.75H681.9V654.5H363.6ZM363.6 662.65H681.9V670.4H363.6ZM363.6 678.55H681.9V686.3H363.6Z" fill="#f1f1f6"/>
<line x1="616.9" y1="548.8" x2="616.9" y2="707.5" stroke="#2a2a2a" stroke-width="1.0" stroke-dasharray="2.4 1.6"/>
<g font-size="6" fill="#2a2a2a" stroke="#2a2a2a" stroke-width="0.05"><text x="364.5" y="557.4" stroke="#111" stroke-width="0.05">GSE52249</text><text x="408.7" y="557.4" stroke="#111" stroke-width="0.05">iPSCs</text><text x="494.6" y="557.4" text-anchor="middle" stroke="#111" stroke-width="0.05">4</text><text x="514.2" y="557.4" text-anchor="middle" stroke="#111" stroke-width="0.05">3</text><text x="582.9" y="557.4" text-anchor="end" textLength="49.39" lengthAdjust="spacingAndGlyphs" stroke="#111" stroke-width="0.05">0.14 [–0.15, 0.43]</text><text x="364.5" y="565.37" stroke="#111" stroke-width="0.05">GSE55504</text><text x="408.7" y="565.37" stroke="#111" stroke-width="0.05">Primary fibroblasts</text><text x="494.6" y="565.37" text-anchor="middle" stroke="#111" stroke-width="0.05">8</text><text x="514.2" y="565.37" text-anchor="middle" stroke="#111" stroke-width="0.05">8</text><text x="582.9" y="565.37" text-anchor="end" textLength="49.39" lengthAdjust="spacingAndGlyphs" stroke="#111" stroke-width="0.05">0.23 [–0.02, 0.47]</text><text x="364.5" y="573.34" stroke="#111" stroke-width="0.05">Current study</text><text x="408.7" y="573.34" stroke="#111" stroke-width="0.05">Hippocampus</text><text x="494.6" y="573.34" text-anchor="middle" stroke="#111" stroke-width="0.05">27</text><text x="514.2" y="573.34" text-anchor="middle" stroke="#111" stroke-width="0.05">20</text><text x="582.9" y="573.34" text-anchor="end" textLength="47.16" lengthAdjust="spacingAndGlyphs" stroke="#111" stroke-width="0.05">0.30 [ 0.11, 0.49]</text><text x="364.5" y="581.31" stroke="#111" stroke-width="0.05">PRJNA751601</text><text x="408.7" y="581.31" stroke="#111" stroke-width="0.05">Ventralized NPCs</text><text x="494.6" y="581.31" text-anchor="middle" stroke="#111" stroke-width="0.05">6</text><text x="514.2" y="581.31" text-anchor="middle" stroke="#111" stroke-width="0.05">6</text><text x="582.9" y="581.31" text-anchor="end" textLength="49.39" lengthAdjust="spacingAndGlyphs" stroke="#111" stroke-width="0.05">0.36 [–0.08, 0.80]</text><text x="364.5" y="589.28" stroke="#111" stroke-width="0.05">Current study</text><text x="408.7" y="589.28" stroke="#111" stroke-width="0.05">PFC</text><text x="494.6" y="589.28" text-anchor="middle" stroke="#111" stroke-width="0.05">27</text><text x="514.2" y="589.28" text-anchor="middle" stroke="#111" stroke-width="0.05">20</text><text x="582.9" y="589.28" text-anchor="end" textLength="47.62" lengthAdjust="spacingAndGlyphs" stroke="#111" stroke-width="0.05">0.42 [ 0.27, 0.57]</text><text x="364.5" y="597.25" stroke="#111" stroke-width="0.05">GSE55504</text><text x="408.7" y="597.25" stroke="#111" stroke-width="0.05">Fetal primary fibroblasts</text><text x="494.6" y="597.25" text-anchor="middle" stroke="#111" stroke-width="0.05">6</text><text x="514.2" y="597.25" text-anchor="middle" stroke="#111" stroke-width="0.05">6</text><text x="582.9" y="597.25" text-anchor="end" textLength="47.62" lengthAdjust="spacingAndGlyphs" stroke="#111" stroke-width="0.05">0.47 [ 0.06, 0.88]</text><text x="364.5" y="605.22" stroke="#111" stroke-width="0.05">PRJNA751601</text><text x="408.7" y="605.22" stroke="#111" stroke-width="0.05">NPCs</text><text x="494.6" y="605.22" text-anchor="middle" stroke="#111" stroke-width="0.05">6</text><text x="514.2" y="605.22" text-anchor="middle" stroke="#111" stroke-width="0.05">6</text><text x="582.9" y="605.22" text-anchor="end" textLength="47.62" lengthAdjust="spacingAndGlyphs" stroke="#111" stroke-width="0.05">0.49 [ 0.38, 0.60]</text><text x="364.5" y="613.19" stroke="#111" stroke-width="0.05">GSE84531</text><text x="408.7" y="613.19" stroke="#111" stroke-width="0.05">T cells</text><text x="494.6" y="613.19" text-anchor="middle" stroke="#111" stroke-width="0.05">7</text><text x="514.2" y="613.19" text-anchor="middle" stroke="#111" stroke-width="0.05">10</text><text x="582.9" y="613.19" text-anchor="end" textLength="47.62" lengthAdjust="spacingAndGlyphs" stroke="#111" stroke-width="0.05">0.57 [ 0.35, 0.79]</text><text x="364.5" y="621.16" stroke="#111" stroke-width="0.05">GSE185192</text><text x="408.7" y="621.16" stroke="#111" stroke-width="0.05">NPCs</text><text x="494.6" y="621.16" text-anchor="middle" stroke="#111" stroke-width="0.05">9</text><text x="514.2" y="621.16" text-anchor="middle" stroke="#111" stroke-width="0.05">9</text><text x="582.9" y="621.16" text-anchor="end" textLength="47.62" lengthAdjust="spacingAndGlyphs" stroke="#111" stroke-width="0.05">0.57 [ 0.20, 0.95]</text><text x="364.5" y="629.13" stroke="#111" stroke-width="0.05">GSE101942</text><text x="408.7" y="629.13" stroke="#111" stroke-width="0.05">Cortical neurons</text><text x="494.6" y="629.13" text-anchor="middle" stroke="#111" stroke-width="0.05">3</text><text x="514.2" y="629.13" text-anchor="middle" stroke="#111" stroke-width="0.05">3</text><text x="582.9" y="629.13" text-anchor="end" textLength="47.62" lengthAdjust="spacingAndGlyphs" stroke="#111" stroke-width="0.05">0.58 [ 0.18, 0.99]</text><text x="364.5" y="637.1" stroke="#111" stroke-width="0.05">GSE128621</text><text x="408.7" y="637.1" stroke="#111" stroke-width="0.05">WBCs</text><text x="494.6" y="637.1" text-anchor="middle" stroke="#111" stroke-width="0.05">6</text><text x="514.2" y="637.1" text-anchor="middle" stroke="#111" stroke-width="0.05">8</text><text x="582.9" y="637.1" text-anchor="end" textLength="47.62" lengthAdjust="spacingAndGlyphs" stroke="#111" stroke-width="0.05">0.61 [ 0.42, 0.79]</text><text x="364.5" y="645.07" stroke="#111" stroke-width="0.05">GSE79842</text><text x="408.7" y="645.07" stroke="#111" stroke-width="0.05">Fibroblasts</text><text x="494.6" y="645.07" text-anchor="middle" stroke="#111" stroke-width="0.05">12</text><text x="514.2" y="645.07" text-anchor="middle" stroke="#111" stroke-width="0.05">12</text><text x="582.9" y="645.07" text-anchor="end" textLength="47.62" lengthAdjust="spacingAndGlyphs" stroke="#111" stroke-width="0.05">0.63 [ 0.40, 0.87]</text><text x="364.5" y="653.04" stroke="#111" stroke-width="0.05">GSE144857</text><text x="408.7" y="653.04" stroke="#111" stroke-width="0.05">Glutamatergic neurons</text><text x="494.6" y="653.04" text-anchor="middle" stroke="#111" stroke-width="0.05">5</text><text x="514.2" y="653.04" text-anchor="middle" stroke="#111" stroke-width="0.05">5</text><text x="582.9" y="653.04" text-anchor="end" textLength="47.62" lengthAdjust="spacingAndGlyphs" stroke="#111" stroke-width="0.05">0.66 [ 0.25, 1.08]</text><text x="364.5" y="661.01" stroke="#111" stroke-width="0.05">GSE84531</text><text x="408.7" y="661.01" stroke="#111" stroke-width="0.05">Monocytes</text><text x="494.6" y="661.01" text-anchor="middle" stroke="#111" stroke-width="0.05">7</text><text x="514.2" y="661.01" text-anchor="middle" stroke="#111" stroke-width="0.05">10</text><text x="582.9" y="661.01" text-anchor="end" textLength="47.62" lengthAdjust="spacingAndGlyphs" stroke="#111" stroke-width="0.05">0.70 [ 0.58, 0.83]</text><text x="364.5" y="668.98" stroke="#111" stroke-width="0.05">GSE144857</text><text x="408.7" y="668.98" stroke="#111" stroke-width="0.05">hiPSCs</text><text x="494.6" y="668.98" text-anchor="middle" stroke="#111" stroke-width="0.05">5</text><text x="514.2" y="668.98" text-anchor="middle" stroke="#111" stroke-width="0.05">5</text><text x="582.9" y="668.98" text-anchor="end" textLength="47.62" lengthAdjust="spacingAndGlyphs" stroke="#111" stroke-width="0.05">0.79 [ 0.25, 1.34]</text><text x="364.5" y="676.95" stroke="#111" stroke-width="0.05">GSE101942</text><text x="408.7" y="676.95" stroke="#111" stroke-width="0.05">iPSCs</text><text x="494.6" y="676.95" text-anchor="middle" stroke="#111" stroke-width="0.05">3</text><text x="514.2" y="676.95" text-anchor="middle" stroke="#111" stroke-width="0.05">3</text><text x="582.9" y="676.95" text-anchor="end" textLength="47.62" lengthAdjust="spacingAndGlyphs" stroke="#111" stroke-width="0.05">0.85 [ 0.41, 1.29]</text><text x="364.5" y="684.92" stroke="#111" stroke-width="0.05">GSE185192</text><text x="408.7" y="684.92" stroke="#111" stroke-width="0.05">iPSCs</text><text x="494.6" y="684.92" text-anchor="middle" stroke="#111" stroke-width="0.05">3</text><text x="514.2" y="684.92" text-anchor="middle" stroke="#111" stroke-width="0.05">3</text><text x="582.9" y="684.92" text-anchor="end" textLength="47.62" lengthAdjust="spacingAndGlyphs" stroke="#111" stroke-width="0.05">0.90 [ 0.80, 0.99]</text></g>
<path d="M611.02 555.4H633.76M616.12 563.38H635.32M621.21 571.35H636.11M613.76 579.33H648.26M627.48 587.3H639.24M619.25 595.28H651.4M631.8 603.25H640.42M630.62 611.23H647.87M624.74 619.2H654.14M623.96 627.17H655.71M633.36 635.15H647.87M632.58 643.12H651M626.7 651.1H659.24M639.64 659.08H649.44M626.7 667.05H669.43M632.97 675.03H667.47M648.26 683H655.71M611.02 554.15v2.5M633.76 554.15v2.5M616.12 562.12v2.5M635.32 562.12v2.5M621.21 570.1v2.5M636.11 570.1v2.5M613.76 578.08v2.5M648.26 578.08v2.5M627.48 586.05v2.5M639.24 586.05v2.5M619.25 594.03v2.5M651.4 594.03v2.5M631.8 602v2.5M640.42 602v2.5M630.62 609.98v2.5M647.87 609.98v2.5M624.74 617.95v2.5M654.14 617.95v2.5M623.96 625.92v2.5M655.71 625.92v2.5M633.36 633.9v2.5M647.87 633.9v2.5M632.58 641.88v2.5M651 641.88v2.5M626.7 649.85v2.5M659.24 649.85v2.5M639.64 657.83v2.5M649.44 657.83v2.5M626.7 665.8v2.5M669.43 665.8v2.5M632.97 673.78v2.5M667.47 673.78v2.5M648.26 681.75v2.5M655.71 681.75v2.5" stroke="#c6389c" stroke-width="0.75" fill="none"/>
<path d="M620.98 553.99h2.82v2.82h-2.82zM624.38 561.84h3.07v3.07h-3.07zM626.92 569.61h3.49v3.49h-3.49zM629.87 578.18h2.29v2.29h-2.29zM631.4 585.34h3.93v3.93h-3.93zM634.14 594.09h2.37v2.37h-2.37zM633.91 601.05h4.4v4.4h-4.4zM637.62 609.6h3.24v3.24h-3.24zM638 617.96h2.48v2.48h-2.48zM638.44 625.98h2.39v2.39h-2.39zM639.04 633.38h3.53v3.53h-3.53zM640.03 641.56h3.14v3.14h-3.14zM641.59 649.92h2.36v2.36h-2.36zM642.19 656.93h4.3v4.3h-4.3zM646.84 666.02h2.06v2.06h-2.06zM649.07 673.88h2.29v2.29h-2.29zM649.98 680.8h4.4v4.4h-4.4z" fill="#c6389c"/>
<line x1="363.6" y1="690.1" x2="681.9" y2="690.1" stroke="#747474" stroke-width="1.3"/>
<rect x="363.6" y="693.3" width="318.3" height="7.7" fill="#e3e3ec"/>
<text x="364.5" y="699.1" font-size="6" fill="#c6389c" stroke="#c6389c" stroke-width="0.05"><tspan font-weight="bold">RE Model</tspan> (<tspan font-style="italic">P</tspan> = 1.69 x 10<tspan font-size="4" dy="-2.4">−27</tspan><tspan dy="2.4">)</tspan></text>
<text x="582.9" y="699.1" font-size="6" text-anchor="end" fill="#c6389c" stroke="#c6389c" stroke-width="0.05">0.54 [ 0.43, 0.65]</text>
<path d="M633.76 697.2L638.07 695.3L642.38 697.2L638.07 699.1Z" fill="#c6389c"/>
<line x1="597.3" y1="707.5" x2="675.7" y2="707.5" stroke="#333" stroke-width="0.7"/>
<path d="M597.3 707.5v2M616.9 707.5v2M636.5 707.5v2M656.1 707.5v2M675.7 707.5v2" stroke="#333" stroke-width="0.6"/>
<text x="597.3" y="714.7" font-size="5.9" text-anchor="middle" fill="#222" stroke="#222" stroke-width="0.05">-0.5</text>
<text x="616.9" y="714.7" font-size="5.9" text-anchor="middle" fill="#222" stroke="#222" stroke-width="0.05">0.0</text>
<text x="636.5" y="714.7" font-size="5.9" text-anchor="middle" fill="#222" stroke="#222" stroke-width="0.05">0.5</text>
<text x="656.1" y="714.7" font-size="5.9" text-anchor="middle" fill="#222" stroke="#222" stroke-width="0.05">1.0</text>
<text x="675.7" y="714.7" font-size="5.9" text-anchor="middle" fill="#222" stroke="#222" stroke-width="0.05">1.5</text>
<text x="635.2" y="723.7" font-size="6.8" text-anchor="middle" fill="#222" stroke="#222" stroke-width="0.05">Standard mean difference</text>
</svg></body></html>
